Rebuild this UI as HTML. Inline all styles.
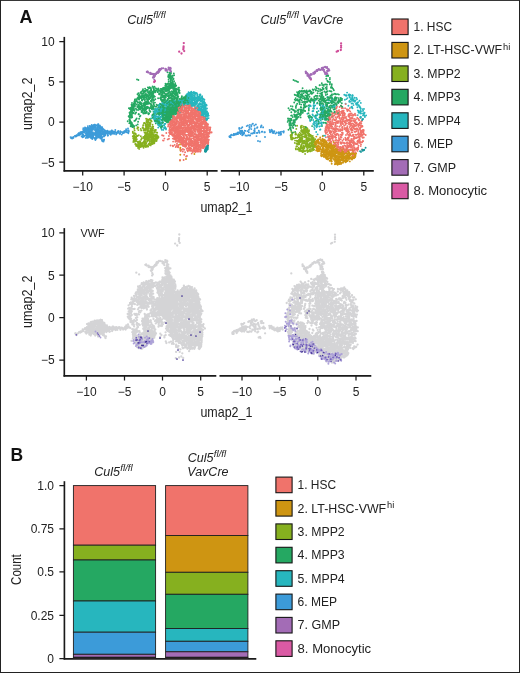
<!DOCTYPE html>
<html><head><meta charset="utf-8"><title>Figure</title>
<style>
html,body{margin:0;padding:0;background:#fff;}
body{width:520px;height:673px;overflow:hidden;}
svg{display:block;font-family:"Liberation Sans",sans-serif;}
</style></head><body>
<svg width="520" height="673" viewBox="0 0 520 673">
<rect x="0" y="0" width="520" height="673" fill="#fff"/>
<rect x="0.5" y="0.4" width="519" height="672.1" fill="none" stroke="#222" stroke-width="1"/>
<text x="19.5" y="23.0" font-size="18" font-weight="bold" fill="#111">A</text>
<text x="10.5" y="461.3" font-size="17.5" font-weight="bold" fill="#111">B</text>
<text x="127.2" y="23.5" font-size="12.5" font-style="italic" fill="#222">Cul5<tspan font-size="8.5" dy="-5.3" dx="0.3" textLength="12.4" lengthAdjust="spacingAndGlyphs">fl/fl</tspan></text>
<text x="260.4" y="23.5" font-size="12.5" font-style="italic" fill="#222">Cul5<tspan font-size="8.5" dy="-5.3" dx="0.3" textLength="12.4" lengthAdjust="spacingAndGlyphs">fl/fl</tspan><tspan dy="5.3" dx="3.3">VavCre</tspan></text>
<path d="M64.30 36.90V171.55" stroke="#1a1a1a" stroke-width="1.65" fill="none"/>
<path d="M63.55 170.80H217.60 M220.80 170.80H373.80" stroke="#1a1a1a" stroke-width="1.65" fill="none"/>
<text x="54.7" y="45.8" font-size="12" text-anchor="end" fill="#222">10</text>
<text x="54.7" y="86.2" font-size="12" text-anchor="end" fill="#222">5</text>
<text x="54.7" y="126.3" font-size="12" text-anchor="end" fill="#222">0</text>
<text x="54.7" y="166.5" font-size="12" text-anchor="end" fill="#222">−5</text>
<text x="82.7" y="190.8" font-size="12" text-anchor="middle" fill="#222">−10</text>
<text x="124.1" y="190.8" font-size="12" text-anchor="middle" fill="#222">−5</text>
<text x="165.5" y="190.8" font-size="12" text-anchor="middle" fill="#222">0</text>
<text x="207.2" y="190.8" font-size="12" text-anchor="middle" fill="#222">5</text>
<text x="239.3" y="190.8" font-size="12" text-anchor="middle" fill="#222">−10</text>
<text x="281.0" y="190.8" font-size="12" text-anchor="middle" fill="#222">−5</text>
<text x="322.3" y="190.8" font-size="12" text-anchor="middle" fill="#222">0</text>
<text x="363.8" y="190.8" font-size="12" text-anchor="middle" fill="#222">5</text>
<path d="M59.30 41.50H64.30M59.30 81.90H64.30M59.30 122.00H64.30M59.30 162.20H64.30M82.70 170.80V175.40M124.10 170.80V175.40M165.50 170.80V175.40M207.20 170.80V175.40M239.30 170.80V175.40M281.00 170.80V175.40M322.30 170.80V175.40M363.80 170.80V175.40" stroke="#1a1a1a" stroke-width="1.25" fill="none"/>
<text transform="translate(31.6 103.8) rotate(-90)" font-size="14.5" text-anchor="middle" textLength="52.3" lengthAdjust="spacingAndGlyphs" fill="#222">umap2_2</text>
<text x="200.4" y="212.3" font-size="14.5" textLength="52" lengthAdjust="spacingAndGlyphs" fill="#222">umap2_1</text>
<path d="M64.30 228.10V376.65" stroke="#1a1a1a" stroke-width="1.65" fill="none"/>
<path d="M63.55 375.90H216.30 M219.50 375.90H371.30" stroke="#1a1a1a" stroke-width="1.65" fill="none"/>
<text x="54.7" y="237.2" font-size="12" text-anchor="end" fill="#222">10</text>
<text x="54.7" y="279.5" font-size="12" text-anchor="end" fill="#222">5</text>
<text x="54.7" y="321.9" font-size="12" text-anchor="end" fill="#222">0</text>
<text x="54.7" y="364.3" font-size="12" text-anchor="end" fill="#222">−5</text>
<text x="86.4" y="396.0" font-size="12" text-anchor="middle" fill="#222">−10</text>
<text x="124.5" y="396.0" font-size="12" text-anchor="middle" fill="#222">−5</text>
<text x="162.5" y="396.0" font-size="12" text-anchor="middle" fill="#222">0</text>
<text x="200.7" y="396.0" font-size="12" text-anchor="middle" fill="#222">5</text>
<text x="242.0" y="396.0" font-size="12" text-anchor="middle" fill="#222">−10</text>
<text x="279.6" y="396.0" font-size="12" text-anchor="middle" fill="#222">−5</text>
<text x="317.8" y="396.0" font-size="12" text-anchor="middle" fill="#222">0</text>
<text x="356.0" y="396.0" font-size="12" text-anchor="middle" fill="#222">5</text>
<path d="M59.30 232.90H64.30M59.30 275.20H64.30M59.30 317.60H64.30M59.30 360.00H64.30M86.40 375.90V380.50M124.50 375.90V380.50M162.50 375.90V380.50M200.70 375.90V380.50M242.00 375.90V380.50M279.60 375.90V380.50M317.80 375.90V380.50M356.00 375.90V380.50" stroke="#1a1a1a" stroke-width="1.25" fill="none"/>
<text transform="translate(31.6 301.8) rotate(-90)" font-size="14.5" text-anchor="middle" textLength="52.3" lengthAdjust="spacingAndGlyphs" fill="#222">umap2_2</text>
<text x="200.4" y="417.3" font-size="14.5" textLength="52" lengthAdjust="spacingAndGlyphs" fill="#222">umap2_1</text>
<text x="80.4" y="237.0" font-size="11.5" textLength="24.3" lengthAdjust="spacingAndGlyphs" fill="#222">VWF</text>
<rect x="391.9" y="19.0" width="16.2" height="15.6" fill="#F0736B" stroke="#161616" stroke-width="1.1"/>
<text x="413.6" y="31.0" font-size="12.3" textLength="38.5" lengthAdjust="spacingAndGlyphs" fill="#222">1. HSC</text>
<rect x="391.9" y="42.4" width="16.2" height="15.6" fill="#CE9512" stroke="#161616" stroke-width="1.1"/>
<text x="413.6" y="54.4" font-size="12.3" fill="#222"><tspan textLength="88.6" lengthAdjust="spacingAndGlyphs">2. LT-HSC-VWF</tspan><tspan font-size="9.3" dy="-4.3" dx="0.8">hi</tspan></text>
<rect x="391.9" y="65.9" width="16.2" height="15.6" fill="#86B01F" stroke="#161616" stroke-width="1.1"/>
<text x="413.6" y="77.9" font-size="12.3" textLength="47.1" lengthAdjust="spacingAndGlyphs" fill="#222">3. MPP2</text>
<rect x="391.9" y="89.3" width="16.2" height="15.6" fill="#25A862" stroke="#161616" stroke-width="1.1"/>
<text x="413.6" y="101.3" font-size="12.3" textLength="47.1" lengthAdjust="spacingAndGlyphs" fill="#222">4. MPP3</text>
<rect x="391.9" y="112.8" width="16.2" height="15.6" fill="#27B6BE" stroke="#161616" stroke-width="1.1"/>
<text x="413.6" y="124.8" font-size="12.3" textLength="47.1" lengthAdjust="spacingAndGlyphs" fill="#222">5. MPP4</text>
<rect x="391.9" y="136.2" width="16.2" height="15.6" fill="#3C9BD9" stroke="#161616" stroke-width="1.1"/>
<text x="413.6" y="148.2" font-size="12.3" textLength="39.5" lengthAdjust="spacingAndGlyphs" fill="#222">6. MEP</text>
<rect x="391.9" y="159.6" width="16.2" height="15.6" fill="#A36CB6" stroke="#161616" stroke-width="1.1"/>
<text x="413.6" y="171.6" font-size="12.3" textLength="42.5" lengthAdjust="spacingAndGlyphs" fill="#222">7. GMP</text>
<rect x="391.9" y="183.1" width="16.2" height="15.6" fill="#DA5AA4" stroke="#161616" stroke-width="1.1"/>
<text x="413.6" y="195.1" font-size="12.3" textLength="73.5" lengthAdjust="spacingAndGlyphs" fill="#222">8. Monocytic</text>
<rect x="275.9" y="477.1" width="16.2" height="15.6" fill="#F0736B" stroke="#161616" stroke-width="1.1"/>
<text x="297.6" y="489.1" font-size="12.3" textLength="38.5" lengthAdjust="spacingAndGlyphs" fill="#222">1. HSC</text>
<rect x="275.9" y="500.5" width="16.2" height="15.6" fill="#CE9512" stroke="#161616" stroke-width="1.1"/>
<text x="297.6" y="512.5" font-size="12.3" fill="#222"><tspan textLength="88.6" lengthAdjust="spacingAndGlyphs">2. LT-HSC-VWF</tspan><tspan font-size="9.3" dy="-4.3" dx="0.8">hi</tspan></text>
<rect x="275.9" y="523.9" width="16.2" height="15.6" fill="#86B01F" stroke="#161616" stroke-width="1.1"/>
<text x="297.6" y="535.9" font-size="12.3" textLength="47.1" lengthAdjust="spacingAndGlyphs" fill="#222">3. MPP2</text>
<rect x="275.9" y="547.3" width="16.2" height="15.6" fill="#25A862" stroke="#161616" stroke-width="1.1"/>
<text x="297.6" y="559.3" font-size="12.3" textLength="47.1" lengthAdjust="spacingAndGlyphs" fill="#222">4. MPP3</text>
<rect x="275.9" y="570.7" width="16.2" height="15.6" fill="#27B6BE" stroke="#161616" stroke-width="1.1"/>
<text x="297.6" y="582.7" font-size="12.3" textLength="47.1" lengthAdjust="spacingAndGlyphs" fill="#222">5. MPP4</text>
<rect x="275.9" y="594.1" width="16.2" height="15.6" fill="#3C9BD9" stroke="#161616" stroke-width="1.1"/>
<text x="297.6" y="606.1" font-size="12.3" textLength="39.5" lengthAdjust="spacingAndGlyphs" fill="#222">6. MEP</text>
<rect x="275.9" y="617.4" width="16.2" height="15.6" fill="#A36CB6" stroke="#161616" stroke-width="1.1"/>
<text x="297.6" y="629.4" font-size="12.3" textLength="42.5" lengthAdjust="spacingAndGlyphs" fill="#222">7. GMP</text>
<rect x="275.9" y="640.8" width="16.2" height="15.6" fill="#DA5AA4" stroke="#161616" stroke-width="1.1"/>
<text x="297.6" y="652.8" font-size="12.3" textLength="73.5" lengthAdjust="spacingAndGlyphs" fill="#222">8. Monocytic</text>
<path d="M64.40 481.2V659.5" stroke="#1a1a1a" stroke-width="1.65" fill="none"/>
<path d="M63.65 658.8H256.3" stroke="#1a1a1a" stroke-width="1.65" fill="none"/>
<text x="54.0" y="489.8" font-size="12" text-anchor="end" fill="#222">1.0</text>
<text x="54.0" y="533.1" font-size="12" text-anchor="end" fill="#222">0.75</text>
<text x="54.0" y="576.2" font-size="12" text-anchor="end" fill="#222">0.5</text>
<text x="54.0" y="619.7" font-size="12" text-anchor="end" fill="#222">0.25</text>
<text x="54.0" y="663.0" font-size="12" text-anchor="end" fill="#222">0</text>
<path d="M59.40 485.50H64.40M59.40 528.80H64.40M59.40 571.90H64.40M59.40 615.40H64.40M59.40 658.70H64.40" stroke="#1a1a1a" stroke-width="1.25" fill="none"/>
<text transform="translate(21.0 569.6) rotate(-90)" font-size="14.5" text-anchor="middle" textLength="30.6" lengthAdjust="spacingAndGlyphs" fill="#222">Count</text>
<rect x="73.40" y="485.60" width="82.20" height="59.60" fill="#F0736B" stroke="#1f1f1f" stroke-width="0.9"/>
<rect x="73.40" y="545.20" width="82.20" height="14.80" fill="#86B01F" stroke="#1f1f1f" stroke-width="0.9"/>
<rect x="73.40" y="560.00" width="82.20" height="41.00" fill="#25A862" stroke="#1f1f1f" stroke-width="0.9"/>
<rect x="73.40" y="601.00" width="82.20" height="31.20" fill="#27B6BE" stroke="#1f1f1f" stroke-width="0.9"/>
<rect x="73.40" y="632.20" width="82.20" height="22.10" fill="#3C9BD9" stroke="#1f1f1f" stroke-width="0.9"/>
<rect x="73.40" y="654.30" width="82.20" height="3.00" fill="#A36CB6" stroke="#1f1f1f" stroke-width="0.9"/>
<rect x="73.40" y="657.30" width="82.20" height="0.90" fill="#DA5AA4" stroke="#1f1f1f" stroke-width="0.9"/>
<rect x="165.60" y="485.60" width="82.30" height="49.90" fill="#F0736B" stroke="#1f1f1f" stroke-width="0.9"/>
<rect x="165.60" y="535.50" width="82.30" height="36.80" fill="#CE9512" stroke="#1f1f1f" stroke-width="0.9"/>
<rect x="165.60" y="572.30" width="82.30" height="22.00" fill="#86B01F" stroke="#1f1f1f" stroke-width="0.9"/>
<rect x="165.60" y="594.30" width="82.30" height="34.20" fill="#25A862" stroke="#1f1f1f" stroke-width="0.9"/>
<rect x="165.60" y="628.50" width="82.30" height="12.80" fill="#27B6BE" stroke="#1f1f1f" stroke-width="0.9"/>
<rect x="165.60" y="641.30" width="82.30" height="10.50" fill="#3C9BD9" stroke="#1f1f1f" stroke-width="0.9"/>
<rect x="165.60" y="651.80" width="82.30" height="5.50" fill="#A36CB6" stroke="#1f1f1f" stroke-width="0.9"/>
<rect x="165.60" y="657.30" width="82.30" height="0.90" fill="#DA5AA4" stroke="#1f1f1f" stroke-width="0.9"/>
<text x="94.3" y="476.3" font-size="12.5" font-style="italic" fill="#222">Cul5<tspan font-size="8.5" dy="-5.3" dx="0.3" textLength="12.4" lengthAdjust="spacingAndGlyphs">fl/fl</tspan></text>
<text x="187.8" y="461.8" font-size="12.5" font-style="italic" fill="#222">Cul5<tspan font-size="8.5" dy="-5.3" dx="0.3" textLength="12.4" lengthAdjust="spacingAndGlyphs">fl/fl</tspan></text>
<text x="187.3" y="476.3" font-size="12.5" font-style="italic" fill="#222">VavCre</text>
<path d="M85.7 135.5h0M93.1 136.4h0M93.9 125.3h0M104.0 133.6h0M96.3 135.1h0M79.4 133.6h0M123.5 132.6h0M94.7 127.4h0M93.6 128.7h0M88.8 129.5h0M98.7 130.8h0M73.5 136.9h0M108.2 132.8h0M94.7 133.6h0M92.6 134.9h0M85.9 129.1h0M98.5 130.3h0M94.3 125.3h0M91.5 126.2h0M72.8 137.9h0M105.3 130.9h0M122.0 131.9h0M104.0 132.4h0M114.6 133.6h0M99.3 134.5h0M104.7 131.3h0M92.6 136.6h0M99.4 136.5h0M107.5 133.9h0M91.0 130.6h0M92.1 127.5h0M91.8 126.6h0M119.7 133.7h0M103.5 133.6h0M100.3 135.8h0M103.7 133.5h0M88.0 129.2h0M100.3 127.7h0M90.2 128.5h0M97.5 135.9h0M107.6 133.8h0M90.2 132.4h0M94.2 133.2h0M107.7 131.2h0M97.0 128.1h0M84.0 132.1h0M98.4 125.1h0M88.6 130.1h0M81.6 132.5h0M90.5 126.9h0M97.4 129.9h0M88.9 131.8h0M90.1 135.3h0M89.7 125.9h0M104.7 130.5h0M88.0 133.6h0M92.4 126.3h0M104.0 132.6h0M104.8 134.1h0M88.3 129.8h0M99.2 126.2h0M95.7 130.2h0M98.0 136.3h0M92.0 128.0h0M87.4 133.4h0M113.0 133.3h0M78.9 135.4h0M85.6 128.8h0M90.7 135.7h0M96.2 132.4h0M100.5 132.9h0M86.9 130.6h0M100.6 132.7h0M86.3 135.7h0M104.1 133.3h0M96.4 132.4h0M125.1 130.9h0M90.9 135.3h0M126.1 129.3h0M103.9 133.0h0M109.2 132.3h0M77.2 135.6h0M116.2 134.4h0M79.3 133.8h0M114.4 133.8h0M95.6 135.8h0M94.7 125.8h0M88.5 135.1h0M87.8 127.8h0M100.2 132.2h0M101.1 128.6h0M95.6 139.0h0M91.1 126.7h0M91.4 127.7h0M102.6 130.5h0M127.7 132.3h0M85.5 131.2h0M97.9 129.5h0M112.3 132.1h0M100.6 133.0h0M83.0 134.7h0M91.0 130.4h0M110.9 132.7h0M86.4 132.9h0M85.5 127.9h0M91.5 128.8h0M106.8 132.8h0M107.8 134.3h0M91.6 134.2h0M104.6 134.5h0M94.0 133.9h0M101.5 127.7h0M92.3 137.5h0M94.8 138.4h0M91.6 129.2h0M96.6 125.3h0M96.7 135.4h0M87.1 132.4h0M105.3 134.9h0M92.5 133.1h0M95.4 140.0h0M75.7 136.5h0M78.3 133.7h0M98.0 126.6h0M101.8 139.0h0M128.8 131.8h0M92.3 139.1h0M84.3 132.6h0M97.0 130.8h0M80.4 132.3h0M105.0 132.5h0M111.8 130.6h0M80.3 134.5h0M93.4 133.4h0M92.7 134.4h0M104.8 131.3h0M92.4 134.6h0M90.5 131.3h0M94.0 129.6h0M82.8 132.5h0M89.5 131.7h0M95.0 124.8h0M76.5 135.1h0M89.5 132.8h0M107.7 132.4h0M81.6 136.4h0M124.6 132.5h0M82.3 133.2h0M128.3 133.3h0M103.8 133.3h0M71.9 137.4h0M109.5 131.5h0M118.6 131.9h0M101.0 134.0h0M113.8 132.9h0M107.9 132.0h0M102.2 130.6h0M96.1 134.4h0M90.9 133.3h0M91.0 129.1h0M100.6 126.7h0M96.6 137.9h0M95.4 138.0h0M89.1 135.8h0M109.7 131.9h0M86.9 132.6h0M109.9 132.6h0M99.0 128.8h0M88.6 128.4h0M110.7 134.8h0M103.2 134.6h0M111.4 132.7h0M100.2 137.5h0M111.4 133.2h0M101.6 138.0h0M84.0 136.2h0M99.7 128.5h0M104.6 131.0h0M108.0 135.4h0M98.6 132.6h0M98.7 133.4h0M107.6 130.8h0M101.5 133.3h0M102.6 134.5h0" stroke="#3C9BD9" stroke-width="1.9" stroke-linecap="round" fill="none"/>
<path d="M199.0 107.6h0M158.5 112.2h0M184.5 100.6h0M189.7 103.1h0M185.4 96.7h0M200.4 104.8h0M188.7 93.0h0M155.1 117.7h0M203.7 114.2h0M195.2 101.3h0M200.4 99.3h0M197.0 102.8h0M186.9 102.5h0M205.6 105.2h0M200.9 114.3h0M198.0 100.9h0M195.8 101.2h0M169.1 109.1h0M197.9 108.0h0M156.3 119.3h0M199.6 100.1h0M199.4 104.6h0M172.8 107.3h0M200.7 112.0h0M196.7 101.0h0M163.9 106.1h0M203.5 99.0h0M199.9 108.8h0M195.6 93.0h0M202.7 106.9h0M200.3 98.7h0M202.7 116.6h0M175.3 106.1h0M176.0 107.6h0M172.8 111.7h0M202.6 115.4h0M166.3 109.8h0M168.0 102.5h0M198.1 97.7h0M203.9 102.8h0M198.4 97.5h0M175.8 104.9h0M203.6 112.0h0M181.3 103.8h0M157.2 121.7h0M160.1 106.5h0M208.1 113.9h0M203.8 109.3h0M207.1 119.4h0M175.9 105.1h0M184.7 108.6h0M158.1 121.2h0M180.5 108.8h0M186.6 99.0h0M207.1 111.9h0M197.6 101.2h0M164.3 104.5h0M185.3 96.4h0M194.4 100.1h0M200.3 99.7h0M174.6 105.2h0M156.2 111.2h0M202.3 110.2h0M175.5 112.4h0M196.8 101.4h0M167.9 118.8h0M191.5 93.0h0M200.1 109.0h0M159.4 125.0h0M174.9 101.5h0M158.2 120.7h0M188.9 105.8h0M205.2 105.6h0M153.4 117.2h0M198.5 106.4h0M189.0 94.0h0M158.5 116.8h0M197.3 94.1h0M202.2 113.2h0M158.7 111.9h0M188.1 105.7h0M191.7 95.0h0M159.9 124.3h0M190.3 102.2h0M189.0 100.0h0M188.5 101.0h0M203.9 105.6h0M168.9 104.3h0M171.8 113.1h0M176.4 104.9h0M188.6 92.2h0M190.1 99.3h0M185.2 102.2h0M195.6 99.0h0M202.1 98.1h0M188.3 99.3h0M198.2 104.3h0M197.2 94.9h0M191.4 93.4h0M190.5 93.9h0M176.9 106.6h0M208.7 115.6h0M171.7 116.4h0M200.0 109.9h0M205.0 118.5h0M201.6 114.2h0M171.9 102.2h0M191.4 105.4h0M190.6 105.7h0M179.7 102.9h0M159.3 114.4h0M193.8 100.0h0M191.2 106.0h0M206.1 120.0h0M193.3 103.7h0M204.0 114.6h0M204.9 108.1h0M175.5 105.4h0M167.6 106.4h0M202.1 96.2h0M184.9 103.9h0M191.7 99.7h0M155.5 117.6h0M156.6 116.6h0M172.4 106.8h0M189.9 105.7h0M173.5 103.5h0M183.9 100.4h0M190.9 98.9h0M186.4 99.9h0M155.0 113.3h0M205.2 111.0h0M188.6 92.8h0M164.7 105.2h0M189.4 98.6h0M190.0 94.3h0M159.2 124.1h0M205.3 110.0h0M196.6 97.5h0M160.9 109.5h0M196.5 102.2h0M158.5 110.1h0M198.8 97.6h0M205.5 108.7h0M200.6 100.8h0M174.4 105.9h0M163.2 109.0h0M158.4 105.2h0M161.5 120.1h0M199.2 108.4h0M156.2 110.7h0M157.3 112.2h0M166.3 105.3h0M156.3 121.9h0M202.8 98.5h0M177.7 103.7h0M161.0 125.5h0M164.6 123.9h0M161.1 110.6h0M206.5 112.1h0M194.2 95.7h0M180.5 110.6h0M161.9 105.6h0M174.2 105.5h0M202.4 102.5h0M195.6 107.3h0M190.6 100.9h0M201.3 101.4h0M171.4 116.9h0M191.4 101.4h0M153.9 116.1h0M185.3 99.6h0M203.3 113.1h0M164.7 109.2h0M205.9 113.0h0M192.2 98.8h0M167.5 107.9h0M169.9 101.7h0M191.2 99.0h0M193.3 104.3h0M201.8 104.4h0M191.5 100.9h0M196.8 107.3h0M204.0 109.4h0M159.1 115.4h0M196.0 104.8h0M192.8 102.7h0M185.2 102.5h0M197.4 97.3h0M198.0 99.4h0M199.0 96.9h0M194.9 97.1h0M170.0 116.8h0M158.3 113.3h0M172.0 103.6h0M202.5 106.8h0M202.5 104.9h0M175.4 107.8h0M161.4 128.8h0M204.2 111.7h0M201.6 111.8h0M161.6 125.5h0M164.0 111.2h0M195.1 93.2h0M162.7 121.7h0M194.9 103.9h0M188.0 94.6h0M197.5 99.5h0M154.8 121.4h0M191.0 93.4h0M158.1 114.0h0M173.4 103.5h0M160.0 109.5h0M169.5 107.4h0M161.8 129.8h0M201.1 114.0h0M194.7 96.6h0M198.6 106.7h0M203.2 114.9h0M159.1 117.9h0M200.3 109.1h0M190.7 93.2h0M205.6 115.7h0M197.6 109.9h0M189.1 94.8h0M168.3 106.7h0M178.5 100.4h0M199.5 94.7h0M191.7 103.8h0M185.8 100.3h0M186.3 99.5h0M172.6 103.1h0M170.9 107.3h0M202.2 114.4h0M174.8 103.2h0M206.5 118.7h0M201.3 114.0h0M204.5 104.3h0M198.1 105.6h0M192.6 105.6h0M196.2 97.7h0M165.0 101.6h0M186.0 103.6h0" stroke="#27B6BE" stroke-width="1.9" stroke-linecap="round" fill="none"/>
<path d="M170.7 86.3h0M172.0 108.0h0M173.0 96.6h0M167.9 117.2h0M162.6 90.2h0M176.0 103.0h0M166.3 117.0h0M173.8 115.0h0M170.1 117.0h0M172.3 110.9h0M169.9 76.4h0M169.4 109.9h0M152.1 98.8h0M166.7 94.1h0M177.8 96.9h0M163.7 118.6h0M149.8 91.1h0M162.4 116.5h0M153.4 109.0h0M154.0 90.7h0M164.3 95.7h0M162.7 110.3h0M168.5 118.5h0M140.1 107.7h0M147.5 90.0h0M162.2 114.4h0M167.9 109.5h0M171.6 94.1h0M132.2 117.3h0M141.7 98.5h0M130.3 120.9h0M178.8 104.2h0M164.2 110.6h0M184.1 103.2h0M170.5 114.0h0M173.1 105.9h0M151.6 95.3h0M157.5 120.9h0M175.4 84.9h0M164.8 117.8h0M143.0 112.5h0M175.0 98.1h0M165.3 107.5h0M152.8 91.9h0M141.4 91.7h0M175.6 108.6h0M181.7 97.3h0M189.7 101.7h0M145.4 90.6h0M173.3 89.0h0M139.4 95.8h0M153.8 87.8h0M169.2 115.7h0M173.9 105.9h0M151.4 105.5h0M173.3 79.4h0M166.3 115.7h0M155.7 119.6h0M150.5 93.1h0M162.6 88.7h0M144.8 108.0h0M172.7 110.2h0M141.9 95.1h0M177.5 89.4h0M166.2 120.0h0M162.1 90.9h0M157.9 92.0h0M167.2 119.7h0M155.2 109.2h0M165.5 83.8h0M141.4 108.3h0M178.3 110.9h0M152.3 107.4h0M173.4 107.5h0M164.8 113.3h0M163.4 100.3h0M180.8 100.5h0M163.2 118.6h0M162.4 100.6h0M130.7 126.0h0M138.1 106.3h0M184.0 100.1h0M172.6 108.4h0M169.2 76.6h0M169.3 108.4h0M128.9 108.2h0M159.3 106.2h0M167.5 72.2h0M175.0 84.9h0M144.8 113.2h0M152.5 99.3h0M181.6 98.8h0M174.8 113.0h0M147.2 99.1h0M187.0 98.7h0M176.0 107.8h0M161.0 124.1h0M131.4 115.0h0M141.8 100.3h0M136.2 125.4h0M163.1 95.5h0M188.6 101.3h0M173.5 87.1h0M168.8 95.4h0M173.5 106.6h0M153.9 90.4h0M182.4 100.0h0M175.8 111.0h0M137.0 79.4h0M142.6 90.5h0M130.0 123.1h0M168.1 88.0h0M168.9 102.1h0M145.5 109.3h0M169.9 96.1h0M164.5 95.5h0M172.4 116.9h0M165.8 97.4h0M153.4 100.5h0M169.6 112.5h0M160.8 112.2h0M166.9 109.3h0M136.0 119.5h0M170.6 78.1h0M178.0 108.3h0M189.0 98.7h0M182.0 104.1h0M132.0 124.6h0M159.3 105.2h0M172.4 81.2h0M185.7 99.5h0M173.8 112.4h0M164.1 118.5h0M168.6 79.8h0M158.7 109.9h0M158.3 113.6h0M169.7 112.1h0M167.0 104.7h0M132.6 113.2h0M154.7 90.3h0M167.7 103.0h0M162.1 90.0h0M134.6 101.7h0M166.7 113.4h0M146.5 94.6h0M145.6 108.7h0M151.9 99.6h0M168.5 102.7h0M154.1 105.7h0M175.1 101.8h0M143.9 109.4h0M184.1 98.3h0M131.8 126.1h0M168.6 86.6h0M150.5 103.4h0M153.5 111.8h0M170.5 85.3h0M169.5 101.9h0M165.5 117.0h0M166.0 121.3h0M168.6 106.9h0M153.0 97.2h0M162.5 115.0h0M138.8 114.2h0M164.2 92.8h0M171.1 82.9h0M164.0 110.6h0M171.1 76.6h0M173.1 92.2h0M161.8 110.8h0M171.2 83.5h0M150.8 101.0h0M178.4 101.4h0M173.9 86.7h0M184.5 101.1h0M169.1 88.4h0M169.0 84.1h0M177.0 109.5h0M166.5 117.7h0M131.2 117.5h0M169.5 105.3h0M151.5 92.4h0M154.9 96.6h0M144.8 95.3h0M131.5 125.7h0M148.9 98.5h0M172.4 114.2h0M170.8 116.6h0M170.4 110.8h0M172.0 95.9h0M148.9 87.6h0M163.1 111.3h0M146.8 95.5h0M174.5 103.3h0M169.5 86.1h0M134.9 99.5h0M162.7 94.9h0M151.5 104.4h0M166.8 100.7h0M184.9 101.7h0M158.1 98.3h0M166.8 89.7h0M173.5 96.8h0M156.2 106.7h0M164.3 97.4h0M158.7 120.2h0M174.1 110.1h0M171.2 95.4h0M170.1 110.7h0M172.7 85.9h0M185.4 97.5h0M171.0 113.2h0M161.2 114.0h0M134.3 110.8h0M167.6 120.9h0M160.2 98.2h0M173.3 110.2h0M164.2 107.8h0M161.2 94.4h0M138.5 96.9h0M172.2 120.1h0M175.2 108.4h0M130.7 108.1h0M171.3 113.0h0M170.2 69.6h0M165.2 118.1h0M164.2 87.7h0M170.3 76.4h0M163.7 97.7h0M137.5 101.9h0M180.2 102.8h0M168.9 108.4h0M186.6 96.4h0M132.0 112.4h0M170.7 114.1h0M137.3 98.9h0M175.3 84.1h0M151.3 94.2h0M184.3 97.7h0M154.7 91.7h0M153.5 106.4h0M151.4 104.7h0M150.8 96.7h0M147.2 107.3h0M171.3 103.5h0M163.8 92.9h0M169.6 110.7h0M148.2 95.1h0M150.7 92.4h0M166.0 120.8h0M162.2 126.5h0M148.5 114.3h0M180.3 107.5h0M131.4 109.5h0M172.1 96.2h0M172.3 116.1h0M151.9 105.4h0M137.5 106.1h0M170.7 75.9h0M141.7 107.1h0M166.6 121.0h0M167.8 93.9h0M140.2 97.9h0M173.3 93.2h0M146.2 101.7h0M147.4 106.7h0M133.7 109.3h0M168.8 92.7h0M170.5 107.6h0M168.6 107.4h0M168.1 116.0h0M162.3 101.6h0M163.0 110.8h0M144.4 104.2h0M139.2 96.5h0M145.2 108.5h0M132.0 109.0h0M134.7 105.2h0M163.3 114.9h0M165.6 111.0h0M136.9 101.5h0M147.9 95.5h0M141.8 97.3h0M182.0 105.0h0M173.4 88.2h0M170.9 109.2h0M168.2 116.5h0M172.9 98.6h0M161.6 97.2h0M171.7 112.3h0M163.0 100.7h0M177.4 106.2h0M133.3 104.4h0M177.0 93.1h0M167.9 108.8h0M161.8 111.7h0M174.7 100.5h0M160.7 103.9h0M146.9 107.5h0M148.4 102.6h0M173.1 95.9h0M132.1 109.2h0M168.6 107.9h0M177.7 101.9h0M174.0 109.2h0M174.1 75.3h0M171.9 91.3h0M165.6 114.8h0M177.0 112.2h0M145.3 107.9h0M170.9 73.5h0M139.8 116.6h0M171.9 107.8h0M171.9 116.3h0M154.1 115.9h0M143.5 91.9h0M167.9 106.8h0M153.6 108.1h0M139.1 96.7h0M168.7 98.3h0M168.0 89.9h0M170.0 91.8h0M130.5 117.6h0M129.6 120.4h0M166.1 115.1h0M170.8 113.1h0M173.0 84.2h0M130.8 115.7h0M172.6 84.8h0M164.2 113.0h0M131.9 109.3h0M172.0 109.6h0M176.8 92.2h0M135.1 103.2h0M166.3 101.0h0M139.3 98.0h0M167.2 119.5h0M169.2 111.2h0M174.1 110.3h0M131.5 104.7h0M138.9 106.6h0M156.4 106.6h0M169.3 117.1h0M184.1 104.8h0M173.2 103.3h0M164.7 110.9h0M169.8 114.9h0M172.7 82.0h0M156.1 109.9h0M144.5 97.4h0M139.2 108.1h0M137.6 97.9h0M147.1 90.8h0M170.0 87.1h0M139.1 99.4h0M149.7 91.5h0M169.1 116.3h0M153.8 88.2h0M167.9 108.7h0M162.9 91.4h0M169.1 83.8h0M134.0 105.3h0M162.1 116.4h0M170.2 73.7h0M160.8 116.9h0M155.3 92.3h0M144.6 102.8h0M134.1 103.0h0M178.7 92.0h0M138.8 107.1h0M143.3 109.7h0M170.6 116.1h0M171.9 119.6h0M142.9 95.9h0M170.5 85.6h0M170.9 111.4h0M147.8 90.0h0M172.5 83.5h0M129.4 119.6h0M164.4 97.3h0M174.0 107.3h0M181.5 103.2h0M157.6 105.4h0M155.3 99.3h0M180.0 99.4h0M172.9 93.0h0M161.8 92.2h0M176.0 106.8h0M177.2 95.4h0M165.2 117.8h0M158.3 88.5h0M163.4 88.2h0M142.7 96.6h0M132.1 125.3h0M166.4 84.7h0M142.9 105.4h0M161.9 97.6h0M180.0 101.2h0M131.1 116.2h0M144.2 105.3h0M168.9 90.2h0M148.4 92.5h0M169.7 87.2h0M166.2 119.4h0M146.7 96.5h0M166.9 110.8h0M131.1 124.3h0M148.3 92.3h0M149.0 88.3h0M176.7 88.6h0M149.4 97.9h0M151.9 101.9h0M131.1 112.5h0M145.3 91.2h0M181.7 99.0h0M161.2 126.2h0M157.5 112.7h0M151.9 108.7h0M178.6 102.5h0M170.7 94.6h0M166.9 103.4h0M155.4 106.6h0M170.6 107.1h0M130.7 126.2h0M173.7 85.0h0M164.9 117.8h0M169.1 115.6h0M163.7 108.4h0M170.1 119.8h0M165.3 96.0h0M171.7 111.4h0M167.6 89.6h0M166.7 95.0h0M133.9 126.0h0M171.1 115.7h0M130.3 109.2h0M145.0 105.0h0M169.3 91.7h0M174.1 100.1h0M176.4 93.1h0M172.4 102.0h0M167.8 111.3h0M164.0 103.2h0M187.4 97.2h0M175.7 109.6h0M176.9 108.5h0M165.6 120.6h0M167.7 122.0h0M146.2 103.8h0M166.4 110.3h0M143.7 91.8h0M140.4 109.5h0M165.3 97.1h0M169.5 116.3h0M170.9 77.5h0M131.0 122.1h0M160.4 109.8h0M169.2 103.5h0" stroke="#25A862" stroke-width="1.9" stroke-linecap="round" fill="none"/>
<path d="M143.9 138.0h0M144.9 146.1h0M153.4 140.3h0M144.2 143.7h0M147.2 119.3h0M145.8 135.0h0M153.3 143.6h0M154.9 140.0h0M141.6 144.9h0M141.3 144.0h0M146.1 126.6h0M147.8 119.8h0M146.5 145.7h0M145.1 135.4h0M148.6 120.4h0M148.8 125.8h0M154.6 135.4h0M144.3 145.2h0M145.7 144.5h0M154.6 131.7h0M147.3 130.7h0M156.2 138.6h0M147.2 136.2h0M150.3 128.7h0M143.3 125.5h0M139.0 144.1h0M133.6 140.3h0M149.5 119.5h0M151.1 143.6h0M148.1 145.0h0M153.4 138.9h0M146.1 135.4h0M152.4 144.1h0M134.6 130.5h0M155.8 135.7h0M151.5 136.0h0M143.8 137.6h0M135.5 139.4h0M148.2 138.5h0M144.7 123.0h0M138.9 142.5h0M148.1 123.9h0M147.1 138.8h0M152.8 130.3h0M134.4 133.2h0M147.5 132.4h0M140.8 146.5h0M144.5 132.6h0M138.3 127.6h0M142.0 145.5h0M154.3 143.2h0M139.4 144.2h0M149.3 119.1h0M148.1 124.8h0M155.2 136.0h0M141.2 146.6h0M148.5 121.0h0M147.2 137.2h0M149.1 139.3h0M145.3 130.0h0M147.8 128.8h0M147.2 141.6h0M147.7 128.7h0M145.7 146.6h0M137.5 136.0h0M151.4 144.0h0M145.5 132.5h0M147.1 134.3h0M153.3 128.5h0M147.6 121.6h0M150.5 120.0h0M148.1 138.1h0M155.1 130.0h0M143.2 128.5h0M148.2 140.5h0M135.5 136.8h0M150.5 123.6h0M147.3 130.9h0M145.0 132.5h0M134.1 138.9h0M142.6 127.4h0M137.3 128.6h0M152.0 132.7h0M144.3 129.7h0M135.5 133.7h0M148.2 146.6h0M135.4 133.6h0M135.1 136.2h0M149.6 143.0h0M154.1 135.3h0M151.9 141.9h0M139.3 145.9h0M144.4 146.3h0M157.7 137.7h0M134.3 138.0h0M146.8 127.2h0M151.0 139.8h0M144.6 136.9h0M147.0 124.5h0M136.8 139.2h0M150.2 122.9h0M141.1 139.8h0M151.5 121.1h0M156.3 132.4h0M133.6 138.4h0M156.4 138.2h0M153.2 137.1h0M146.6 136.2h0M133.9 134.9h0M154.4 141.5h0M147.1 122.4h0M153.8 142.4h0M150.1 126.4h0M150.5 130.2h0M154.7 141.8h0M144.3 141.2h0M135.4 144.1h0M145.4 137.0h0M145.7 124.0h0M138.4 130.1h0M147.3 140.8h0M144.2 144.2h0M152.2 129.4h0M134.7 137.6h0M145.4 128.6h0M145.2 146.3h0M156.7 135.4h0M135.5 140.7h0M148.6 122.1h0M134.0 135.7h0M157.0 138.8h0M152.7 138.7h0M137.3 145.3h0M139.9 145.1h0M140.3 147.0h0M151.3 140.3h0M152.0 140.5h0" stroke="#86B01F" stroke-width="1.9" stroke-linecap="round" fill="none"/>
<path d="M180.0 160.6h0M186.0 159.0h0M189.6 150.6h0" stroke="#CE9512" stroke-width="1.9" stroke-linecap="round" fill="none"/>
<path d="M208.2 140.9h0M200.2 127.3h0M189.7 148.2h0M180.4 131.9h0M195.7 129.0h0M187.4 124.3h0M180.1 117.6h0M181.0 115.8h0M181.5 130.5h0M171.8 120.7h0M201.5 129.1h0M202.1 134.0h0M178.1 115.0h0M168.5 124.3h0M196.1 141.0h0M203.1 139.5h0M189.4 114.9h0M190.4 133.2h0M181.5 138.8h0M190.3 145.0h0M188.5 112.9h0M188.8 120.6h0M199.2 127.2h0M198.2 118.8h0M205.0 123.4h0M181.8 143.2h0M201.8 136.5h0M201.9 147.4h0M175.8 139.1h0M193.5 120.0h0M177.1 130.7h0M174.0 126.8h0M180.5 108.8h0M193.7 129.9h0M201.4 147.5h0M184.1 137.3h0M200.4 148.7h0M195.1 115.6h0M199.7 123.4h0M188.4 112.1h0M197.0 151.5h0M188.3 138.4h0M207.9 137.7h0M174.3 135.0h0M202.8 128.0h0M195.3 118.2h0M179.3 123.8h0M185.8 143.9h0M182.1 107.4h0M194.2 145.2h0M187.2 113.1h0M188.0 130.9h0M175.9 122.5h0M184.0 124.6h0M202.0 117.7h0M186.8 138.0h0M189.1 143.0h0M180.7 151.1h0M199.8 140.1h0M177.2 113.2h0M179.5 139.7h0M193.7 129.9h0M175.1 130.4h0M176.1 136.8h0M175.7 135.9h0M180.5 139.3h0M172.2 128.1h0M183.7 118.8h0M182.8 145.5h0M204.4 127.4h0M172.8 124.3h0M184.6 144.8h0M203.3 133.3h0M182.3 122.1h0M185.3 142.4h0M170.6 132.3h0M171.7 129.2h0M192.2 116.2h0M195.2 148.2h0M182.9 149.0h0M185.2 138.5h0M178.4 107.0h0M181.3 123.3h0M200.4 125.7h0M208.0 135.2h0M177.8 137.7h0M172.8 127.7h0M179.1 135.5h0M206.4 122.7h0M191.1 115.6h0M186.9 137.4h0M180.4 117.7h0M208.0 128.2h0M200.8 120.3h0M170.8 129.6h0M194.3 149.1h0M202.9 148.1h0M199.9 139.7h0M176.4 134.8h0M181.4 106.5h0M176.4 121.4h0M191.0 129.6h0M206.2 134.5h0M195.5 125.6h0M178.0 134.0h0M203.3 116.8h0M203.3 120.8h0M179.2 141.4h0M200.9 130.6h0M195.3 116.4h0M176.3 129.0h0M190.4 128.0h0M198.1 144.7h0M180.0 139.0h0M190.6 145.3h0M189.4 114.8h0M181.3 127.0h0M173.0 146.2h0M188.9 133.4h0M187.2 150.3h0M205.4 128.3h0M195.3 110.7h0M209.5 130.4h0M195.0 143.1h0M200.9 126.8h0M198.6 145.7h0M190.7 136.1h0M190.3 141.5h0M188.0 113.8h0M191.9 141.3h0M207.2 126.4h0M190.0 123.2h0M182.2 110.0h0M169.7 133.7h0M202.4 127.7h0M171.9 130.2h0M176.9 135.7h0M194.6 111.8h0M201.3 130.8h0M202.7 121.8h0M179.9 140.6h0M196.0 124.0h0M200.2 149.8h0M200.3 148.4h0M204.9 141.9h0M181.8 144.6h0M199.2 124.5h0M183.3 121.4h0M176.0 120.2h0M184.7 142.4h0M185.8 121.4h0M192.4 142.9h0M187.0 123.5h0M194.3 117.9h0M195.1 141.5h0M175.3 137.3h0M200.7 138.8h0M169.5 132.2h0M195.6 114.2h0M204.1 118.2h0M178.3 114.8h0M199.0 134.6h0M197.3 123.5h0M193.1 118.1h0M185.2 107.9h0M181.5 110.6h0M203.2 121.6h0M190.2 115.0h0M185.6 125.2h0M190.3 114.7h0M182.5 134.3h0M178.5 114.3h0M203.7 128.3h0M188.8 144.2h0M180.1 138.4h0M196.9 115.7h0M184.9 129.9h0M185.0 113.7h0M181.7 120.9h0M193.6 109.7h0M191.1 144.1h0M178.4 110.9h0M175.1 129.4h0M193.1 132.7h0M172.5 135.4h0M175.0 128.8h0M183.9 122.5h0M176.9 128.3h0M197.5 151.5h0M183.0 118.7h0M192.5 131.4h0M188.7 145.1h0M182.0 118.3h0M176.6 119.6h0M180.3 117.6h0M186.1 156.5h0M175.0 126.8h0M207.2 133.8h0M209.9 130.9h0M195.2 150.9h0M193.7 128.4h0M180.4 142.7h0M199.3 116.6h0M177.4 134.9h0M191.5 145.0h0M174.7 137.0h0M198.1 125.7h0M201.1 120.3h0M209.8 129.8h0M190.4 119.9h0M186.7 124.0h0M192.4 120.9h0M175.8 129.0h0M191.6 116.0h0M179.6 131.6h0M195.3 110.1h0M183.3 130.2h0M186.8 111.3h0M186.1 112.1h0M194.2 143.9h0M196.0 140.7h0M193.5 121.4h0M180.3 139.9h0M180.6 126.2h0M200.7 123.8h0M176.6 124.2h0M181.3 114.3h0M200.6 144.2h0M204.9 134.5h0M177.5 115.7h0M184.8 111.3h0M200.6 114.6h0M198.6 114.1h0M191.2 143.8h0M178.0 131.1h0M186.4 124.0h0M172.1 132.3h0M202.1 146.2h0M207.3 139.6h0M193.7 145.4h0M183.0 144.0h0M179.5 113.0h0M196.3 120.7h0M200.1 129.6h0M188.4 139.7h0M206.7 143.2h0M191.0 127.2h0M173.3 134.4h0M197.3 150.3h0M193.2 112.7h0M201.5 135.8h0M196.1 145.1h0M206.2 142.8h0M189.0 131.9h0M195.8 119.1h0M185.8 127.5h0M199.2 131.6h0M198.0 111.3h0M194.4 143.5h0M195.3 109.6h0M188.6 120.9h0M189.7 109.4h0M195.4 115.5h0M201.6 131.0h0M191.3 123.6h0M182.6 131.4h0M205.5 141.6h0M200.4 116.5h0M205.7 125.5h0M170.5 125.5h0M195.6 115.9h0M190.9 127.5h0M192.8 127.7h0M178.6 117.3h0M196.9 137.3h0M191.0 136.5h0M182.2 137.9h0M187.2 137.0h0M188.2 112.7h0M184.8 140.8h0M193.1 135.2h0M194.2 109.6h0M191.4 126.6h0M180.2 130.8h0M195.0 132.9h0M185.1 114.3h0M172.3 128.1h0M177.3 132.7h0M187.0 156.0h0M202.0 141.3h0M176.3 131.6h0M180.4 111.1h0M181.1 106.3h0M185.3 131.1h0M191.7 153.6h0M187.4 148.1h0M192.3 113.3h0M196.3 144.9h0M193.2 132.4h0M196.8 118.5h0M173.5 122.1h0M183.0 130.9h0M178.2 132.0h0M176.4 129.5h0M170.4 133.2h0M173.7 125.3h0M183.4 123.3h0M191.6 125.9h0M190.7 139.4h0M202.1 131.1h0M194.6 125.7h0M181.0 111.8h0M186.1 116.9h0M206.5 126.3h0M193.1 126.5h0M177.5 127.6h0M175.0 128.5h0M198.9 140.6h0M200.2 114.3h0M191.2 141.1h0M177.0 143.4h0M200.7 148.8h0M183.2 118.4h0M208.4 140.8h0M199.9 133.2h0M208.0 143.8h0M187.3 123.0h0M187.3 130.0h0M209.7 131.2h0M198.3 127.8h0M200.7 129.9h0M207.9 135.9h0M175.6 127.8h0M175.1 135.8h0M189.1 118.1h0M204.6 119.7h0M181.5 117.9h0M195.9 148.7h0M191.5 132.9h0M187.9 105.5h0M208.0 124.8h0M181.0 112.0h0M179.7 141.9h0M191.7 122.5h0M177.6 126.9h0M192.1 116.9h0M188.4 120.0h0M177.1 118.5h0M197.1 111.7h0M166.3 133.0h0M177.0 123.7h0M175.6 131.0h0M176.9 127.9h0M178.7 136.5h0M205.2 144.1h0M197.1 146.0h0M184.8 115.3h0M179.8 134.8h0M191.9 127.8h0M185.1 114.0h0M179.7 140.2h0M203.4 141.0h0M195.4 131.6h0M206.4 123.0h0M183.6 141.7h0M183.8 140.5h0M171.2 128.9h0M206.3 140.0h0M193.8 138.4h0M204.8 139.1h0M185.6 146.2h0M184.5 119.7h0M192.8 151.9h0M202.9 121.8h0M206.5 142.7h0M198.4 138.9h0M184.6 116.4h0M196.1 115.8h0M205.4 119.1h0M184.6 113.9h0M202.0 134.0h0M186.3 111.3h0M186.1 130.3h0M177.7 121.9h0M181.3 119.8h0M198.1 142.6h0M191.3 112.9h0M176.0 138.7h0M195.5 142.7h0M182.6 110.6h0M181.2 123.1h0M185.4 121.9h0M180.0 124.7h0M191.7 114.6h0M188.9 117.6h0M184.2 154.7h0M183.3 140.2h0M189.2 121.6h0M174.3 119.4h0M185.7 107.9h0M206.4 132.3h0M188.8 119.9h0M191.2 140.0h0M192.0 140.7h0M198.0 131.3h0M194.3 115.3h0M195.3 148.2h0M178.3 145.0h0M203.3 135.4h0M184.5 105.7h0M200.3 139.9h0M179.6 119.2h0M177.6 126.1h0M178.1 141.8h0M195.6 146.9h0M188.3 144.3h0M185.0 128.0h0M197.6 148.2h0M197.4 137.5h0M192.6 141.9h0M194.0 129.5h0M209.0 130.2h0M179.7 139.7h0M190.0 116.2h0M204.6 137.0h0M205.7 140.7h0M183.2 139.4h0M205.6 124.3h0M197.0 123.4h0M175.1 126.9h0M193.8 127.7h0M195.1 123.4h0M177.7 113.0h0M186.9 108.2h0M191.2 148.7h0M205.5 137.6h0M188.3 134.4h0M195.6 129.7h0M199.1 120.3h0M206.5 123.7h0M179.3 124.0h0M206.3 131.5h0M182.6 141.8h0M190.8 130.4h0M177.0 112.2h0M173.8 130.4h0M198.8 119.3h0M188.2 130.9h0M171.9 127.9h0M191.9 112.0h0M192.8 118.0h0M196.0 123.0h0M208.3 142.5h0M192.8 143.3h0M188.8 146.5h0M187.9 143.2h0M177.9 113.1h0M187.9 124.7h0M186.8 105.6h0M184.4 132.9h0M186.8 110.5h0M171.7 126.1h0M191.2 142.6h0M199.9 115.1h0M176.7 135.7h0M181.0 130.3h0M178.2 111.0h0M194.6 113.8h0M173.5 117.9h0M176.9 132.7h0M188.9 125.4h0M187.2 144.1h0M188.3 110.7h0M169.8 124.2h0M175.5 129.2h0M200.5 149.4h0M177.5 116.4h0M203.9 122.3h0M201.4 123.4h0M187.6 139.6h0M182.5 117.8h0M193.0 119.8h0M194.7 110.1h0M188.4 116.7h0M208.0 133.6h0M185.0 140.5h0M182.3 124.3h0M182.6 108.9h0M176.9 138.9h0M184.3 122.1h0M194.7 116.6h0M194.9 129.1h0M199.9 136.7h0M187.0 127.7h0M199.1 129.6h0M194.3 134.4h0M181.2 116.1h0M201.9 143.7h0M178.2 147.2h0M199.5 130.2h0M201.5 126.8h0M189.4 143.2h0M201.4 135.6h0M200.9 133.8h0M187.8 130.8h0M198.0 123.5h0M182.5 123.7h0M188.5 128.2h0M176.4 129.9h0M196.5 127.6h0M196.7 127.2h0M203.3 127.4h0M209.4 129.7h0M181.2 103.7h0M191.1 111.3h0M202.1 141.5h0M205.8 122.3h0M204.2 132.0h0M182.3 133.0h0M178.2 112.0h0M202.6 142.1h0M192.0 135.0h0M200.3 128.7h0M180.0 139.0h0M188.3 114.5h0M181.2 120.2h0M186.8 134.9h0M181.2 134.1h0M193.9 114.6h0M170.1 132.8h0M197.1 130.1h0M206.4 123.7h0M199.2 129.8h0M193.7 150.3h0M201.6 142.3h0M181.9 116.1h0M186.4 107.1h0M189.1 118.3h0M195.9 116.0h0M207.2 126.4h0" stroke="#F0736B" stroke-width="1.9" stroke-linecap="round" fill="none"/>
<path d="M206.4 148.5h0M207.8 147.9h0M207.6 149.3h0M206.2 151.2h0M205.9 149.9h0M208.0 145.4h0M205.5 150.5h0M207.5 147.8h0M205.1 149.3h0M207.4 149.8h0" stroke="#17979B" stroke-width="1.9" stroke-linecap="round" fill="none"/>
<path d="M159.3 71.0h0M154.7 74.4h0M154.4 75.4h0M157.9 72.7h0M153.4 77.7h0M150.6 73.9h0M153.2 77.7h0M155.2 73.9h0M152.5 74.3h0M153.3 74.1h0M166.7 69.3h0M165.3 68.8h0M158.4 71.4h0M159.0 69.8h0M170.1 72.5h0M155.1 75.0h0M158.2 72.4h0M161.0 69.0h0M157.2 72.0h0M155.1 74.3h0M154.8 74.4h0M155.8 74.0h0M159.4 70.1h0M153.4 74.4h0M170.1 69.5h0M150.3 72.8h0M159.9 69.0h0M160.4 69.4h0M160.0 69.5h0" stroke="#A36CB6" stroke-width="2.1" stroke-linecap="round" fill="none"/>
<path d="M183.8 43.1h0M179.2 51.7h0M183.3 49.4h0" stroke="#D04C98" stroke-width="2.3" stroke-linecap="round" fill="none"/>
<path d="M99.7 132.4h0M89.5 133.9h0M84.1 132.3h0M96.7 129.7h0M110.3 132.0h0M102.3 131.4h0M82.9 135.9h0M115.3 130.0h0M106.1 133.5h0M84.9 131.5h0M90.3 126.5h0M98.7 133.2h0M115.7 132.5h0M76.1 136.2h0M86.7 131.1h0M115.1 132.0h0M88.9 133.4h0M99.2 127.3h0M91.8 136.1h0M113.1 132.1h0M97.8 132.4h0M81.7 133.7h0M84.2 130.3h0M108.4 133.1h0M82.6 135.2h0M82.5 132.6h0M92.4 133.7h0M70.6 137.1h0M83.2 131.1h0M105.1 134.3h0M96.3 138.2h0M112.7 133.6h0M82.6 137.2h0M118.4 131.2h0M88.0 136.1h0M88.2 133.3h0M93.1 128.6h0M92.8 133.2h0M128.7 130.5h0M107.9 131.7h0M82.7 134.7h0M78.5 134.6h0M90.5 129.9h0M91.8 129.3h0M98.6 130.2h0M75.7 135.9h0M126.4 130.6h0M97.7 126.1h0M95.6 131.6h0M88.0 128.3h0M92.4 130.0h0M102.6 131.6h0M75.4 136.1h0M83.3 128.2h0M109.7 132.6h0M101.1 135.7h0M99.8 128.3h0M89.4 129.4h0M92.0 137.7h0M94.4 126.6h0M126.8 132.2h0M95.5 139.2h0M85.5 131.0h0M95.6 134.7h0M100.1 135.9h0M103.9 136.5h0M102.2 140.4h0M84.0 131.6h0M102.7 128.5h0M104.1 139.8h0M96.3 133.6h0M100.2 136.2h0M91.1 135.5h0M92.3 133.2h0M117.9 132.9h0M88.9 135.2h0M106.4 131.3h0M94.5 127.7h0M88.0 132.7h0M75.4 136.1h0M89.3 133.1h0M98.3 124.1h0M116.6 133.4h0M90.7 128.9h0M103.9 131.5h0M86.1 137.4h0M95.6 134.6h0M99.3 130.6h0M87.7 127.4h0M85.9 138.1h0M111.3 132.2h0M94.3 124.6h0M97.5 130.4h0M100.4 131.2h0M100.8 137.9h0M95.4 138.2h0M92.2 132.6h0M100.7 136.5h0M112.0 131.8h0M93.2 136.0h0M74.8 135.9h0M91.3 128.7h0M78.7 133.2h0M95.5 130.8h0M93.9 126.7h0M99.3 136.5h0M97.0 128.2h0M71.0 138.1h0M103.7 129.4h0M88.7 129.9h0M88.0 129.3h0M90.9 136.6h0M102.3 128.2h0M92.5 125.6h0M118.4 132.8h0M89.4 134.6h0M107.0 131.3h0M81.8 132.4h0M101.8 130.9h0M94.9 133.5h0M87.5 128.7h0M106.4 132.5h0M87.2 128.0h0M97.8 136.7h0M99.8 125.5h0M86.9 136.0h0M122.7 133.3h0M96.5 137.2h0M92.2 137.2h0M111.4 133.8h0M101.9 130.9h0M128.0 128.5h0M92.8 125.8h0M98.3 133.5h0M90.2 133.6h0M97.3 127.4h0M105.3 132.4h0M124.0 131.5h0M94.2 127.5h0M124.9 131.6h0M96.0 129.9h0M102.1 129.0h0M108.2 132.2h0M83.2 129.5h0M72.1 138.6h0M104.8 130.4h0M87.7 137.8h0M98.3 132.5h0M94.0 137.9h0M125.9 131.1h0M105.6 131.6h0M91.7 124.9h0M126.0 131.9h0M99.4 125.9h0M92.9 128.3h0M100.5 135.0h0M92.9 135.6h0M93.0 137.0h0M89.8 133.5h0M91.4 133.4h0M110.5 132.9h0M96.6 133.6h0M85.4 129.8h0M83.0 132.4h0M88.3 131.6h0M97.9 127.1h0M87.6 134.8h0M100.0 131.9h0M95.4 126.5h0M98.7 134.1h0M100.7 128.2h0M98.4 131.7h0M102.2 129.1h0M87.1 130.1h0M111.8 132.2h0M104.6 131.9h0M91.1 128.6h0M105.4 131.3h0M99.4 134.8h0M91.7 126.8h0M90.0 131.9h0M87.5 128.0h0M90.3 134.3h0M91.6 137.9h0M82.2 134.1h0" stroke="#3C9BD9" stroke-width="1.9" stroke-linecap="round" fill="none"/>
<path d="M153.0 117.4h0M198.6 98.0h0M203.8 101.2h0M207.0 116.2h0M156.9 116.2h0M200.0 103.4h0M161.5 111.9h0M193.9 105.4h0M181.3 101.5h0M202.3 115.0h0M185.7 100.6h0M164.1 111.5h0M176.6 104.2h0M197.5 106.0h0M202.5 117.0h0M191.9 92.8h0M192.3 99.8h0M161.9 123.6h0M201.7 106.5h0M195.7 92.7h0M205.2 119.8h0M203.2 107.6h0M194.1 98.4h0M204.3 101.9h0M184.6 108.8h0M185.0 101.2h0M204.0 103.8h0M195.6 103.4h0M155.0 118.5h0M195.0 101.3h0M158.7 106.0h0M202.5 111.6h0M198.8 107.1h0M188.2 102.3h0M156.5 109.4h0M169.8 105.8h0M198.8 108.9h0M207.3 114.6h0M174.3 104.2h0M193.5 92.9h0M166.4 104.0h0M160.6 119.5h0M161.0 113.8h0M191.7 102.0h0M204.2 114.1h0M204.1 107.3h0M159.6 125.9h0M182.7 104.3h0M206.5 105.6h0M195.2 98.9h0M187.4 103.7h0M205.3 112.5h0M163.1 109.3h0M166.5 102.9h0M172.5 104.0h0M160.5 114.1h0M192.8 100.5h0M194.4 100.1h0M197.8 100.1h0M162.1 122.7h0M181.2 103.4h0M201.0 101.4h0M192.1 102.1h0M165.3 123.7h0M205.4 106.7h0M191.3 91.7h0M201.5 111.6h0M192.0 97.3h0M168.4 102.2h0M187.0 99.3h0M162.4 112.7h0M194.3 105.5h0M191.3 96.8h0M204.0 116.5h0M172.6 107.6h0M197.1 108.8h0M158.3 111.1h0M178.8 101.4h0M189.4 95.2h0M186.2 96.8h0M188.6 104.2h0M184.7 100.4h0M197.6 108.1h0M206.8 111.2h0M155.4 115.6h0M191.6 99.5h0M208.1 115.8h0M164.3 111.3h0M197.4 106.2h0M156.5 118.9h0M159.3 125.4h0M162.2 120.3h0M185.6 102.9h0M180.8 100.7h0M207.0 108.5h0M165.0 127.0h0M197.8 110.8h0M179.1 102.3h0M201.5 115.6h0M196.9 101.7h0M164.2 128.4h0M155.5 116.4h0M202.6 101.0h0M173.7 102.1h0M199.7 109.5h0M205.7 111.6h0M177.2 107.8h0M171.0 102.6h0M195.0 102.4h0M161.9 108.5h0M202.1 97.8h0M171.1 104.4h0M171.8 103.9h0M191.6 102.4h0M204.2 113.2h0M154.3 111.0h0M158.8 120.1h0M204.4 99.8h0M167.2 107.5h0M162.5 123.3h0M199.8 113.1h0M199.6 108.3h0M208.1 113.1h0M187.8 98.1h0M198.2 109.0h0M174.3 102.2h0M179.7 106.8h0M193.7 99.4h0M205.9 114.3h0M194.2 92.6h0M192.7 99.5h0M153.5 115.1h0M156.1 116.6h0M190.6 103.2h0M185.3 103.5h0M181.0 101.2h0M178.1 104.2h0M162.4 105.9h0M181.3 107.3h0M194.2 106.2h0M173.2 102.4h0M158.2 127.6h0M191.9 106.4h0M192.6 92.8h0M184.6 100.3h0M202.2 99.2h0M167.2 108.2h0M158.1 121.3h0M207.2 113.0h0M205.4 119.5h0M169.3 105.7h0M176.1 102.7h0M162.0 113.1h0M184.0 102.7h0M161.8 127.0h0M187.5 98.4h0M186.8 94.7h0M202.4 115.4h0M182.9 101.1h0M163.9 109.6h0M163.7 104.4h0M201.6 107.8h0M168.8 108.2h0M198.1 110.2h0M187.0 96.3h0M204.7 102.9h0M195.2 102.2h0M195.2 104.9h0M193.3 98.0h0M191.5 103.3h0M191.3 101.4h0M202.4 100.7h0M189.0 102.9h0M200.0 100.2h0M164.3 110.5h0M195.7 97.8h0M199.2 98.1h0M197.5 99.5h0M198.8 99.8h0M191.7 96.4h0M205.2 106.7h0M191.2 95.9h0M201.2 108.5h0M195.4 98.8h0M198.7 110.3h0M201.2 115.1h0M200.1 95.2h0M187.3 94.0h0M159.5 117.6h0M205.7 107.9h0M189.2 93.2h0M189.0 100.0h0M191.8 103.6h0M198.2 106.0h0M156.5 109.7h0M181.4 103.0h0M201.8 115.8h0M170.3 118.4h0M166.7 100.4h0M201.2 104.2h0M183.3 98.5h0M159.2 110.6h0M207.1 118.4h0M162.5 116.1h0M171.3 104.9h0M168.5 117.5h0M173.6 113.7h0M164.3 104.1h0M179.7 112.8h0M164.3 115.3h0M181.8 104.1h0M180.4 104.2h0M153.3 117.8h0M158.0 111.8h0M160.4 111.3h0M199.6 97.8h0M183.0 104.9h0M161.2 110.1h0M175.9 107.4h0M208.1 114.9h0M201.6 97.3h0M201.7 100.2h0M194.9 98.4h0M160.8 123.4h0M201.3 98.0h0M185.2 102.1h0M193.4 95.1h0M163.3 111.0h0M191.0 102.3h0M154.3 111.8h0M198.9 107.1h0M201.1 111.1h0M203.9 107.2h0M189.0 96.7h0M199.7 104.4h0M158.4 118.2h0M163.5 110.8h0M201.5 109.1h0M204.8 104.1h0M187.7 97.0h0M195.0 97.6h0M203.8 111.0h0M174.9 104.5h0M171.0 110.3h0" stroke="#27B6BE" stroke-width="1.9" stroke-linecap="round" fill="none"/>
<path d="M145.5 103.6h0M132.5 107.8h0M171.7 104.7h0M143.0 89.3h0M147.3 95.2h0M132.8 107.3h0M154.5 86.6h0M134.0 126.4h0M171.7 117.1h0M178.8 91.6h0M155.0 102.6h0M138.4 93.3h0M162.9 88.7h0M144.9 103.2h0M159.4 112.6h0M146.1 112.8h0M174.3 108.2h0M153.8 96.1h0M145.7 108.2h0M175.9 104.1h0M152.6 86.5h0M176.3 91.6h0M160.7 123.1h0M170.9 102.6h0M164.7 111.2h0M181.3 100.3h0M166.0 115.8h0M129.8 117.6h0M132.4 113.7h0M161.9 105.0h0M132.1 106.7h0M132.0 116.0h0M154.9 120.0h0M144.2 92.8h0M152.7 95.3h0M173.1 111.9h0M162.7 114.9h0M161.6 119.8h0M167.2 117.0h0M131.4 117.4h0M165.8 84.2h0M142.6 108.8h0M163.7 115.0h0M151.7 94.2h0M183.9 98.7h0M147.2 108.2h0M152.1 93.3h0M170.5 86.2h0M162.3 95.4h0M177.1 100.1h0M171.7 108.5h0M155.4 90.6h0M173.5 113.5h0M171.0 111.5h0M148.4 107.6h0M145.8 104.5h0M169.3 113.9h0M137.7 124.4h0M150.8 107.9h0M130.1 108.1h0M149.7 87.3h0M138.4 80.0h0M182.1 98.6h0M172.6 116.1h0M139.8 107.1h0M170.9 100.8h0M141.9 105.4h0M149.8 92.8h0M180.7 101.0h0M177.2 109.9h0M164.7 119.3h0M145.9 97.6h0M153.7 92.2h0M154.0 100.2h0M173.3 85.4h0M139.1 118.7h0M165.9 118.5h0M152.0 96.8h0M188.9 98.0h0M139.1 105.9h0M151.2 89.5h0M138.6 95.4h0M162.3 116.6h0M144.5 91.3h0M148.2 100.0h0M156.1 88.6h0M157.9 119.2h0M169.5 108.9h0M174.8 91.7h0M172.8 87.2h0M171.0 87.2h0M168.5 118.3h0M140.4 115.7h0M164.1 112.3h0M144.8 111.8h0M166.0 111.8h0M187.6 100.8h0M174.4 112.8h0M175.8 94.8h0M166.3 114.4h0M154.6 120.6h0M156.4 90.6h0M143.5 97.5h0M161.1 106.5h0M173.3 114.1h0M169.1 85.5h0M178.5 107.7h0M166.2 120.6h0M153.7 99.9h0M170.2 84.1h0M169.0 118.5h0M143.8 92.9h0M167.8 83.7h0M176.5 98.8h0M146.0 106.6h0M146.9 101.3h0M153.0 108.8h0M173.7 111.7h0M168.4 75.1h0M174.2 113.1h0M151.5 94.7h0M128.7 116.2h0M140.8 104.2h0M169.4 116.3h0M169.8 85.3h0M171.0 103.8h0M160.6 98.2h0M172.1 110.1h0M160.8 112.6h0M160.7 97.3h0M176.8 101.9h0M163.5 100.0h0M164.7 110.8h0M168.2 121.1h0M159.0 111.8h0M169.4 113.7h0M165.8 107.8h0M170.0 94.2h0M167.5 93.2h0M162.7 116.1h0M145.0 99.5h0M144.5 90.9h0M173.3 84.1h0M163.2 89.3h0M166.8 112.0h0M130.4 115.7h0M168.0 122.1h0M175.3 108.4h0M127.7 121.2h0M151.2 90.6h0M173.2 87.4h0M143.5 95.5h0M177.6 93.5h0M145.8 103.1h0M170.8 79.1h0M161.4 99.4h0M179.0 107.6h0M158.2 107.7h0M174.6 85.9h0M186.6 102.4h0M136.4 104.5h0M174.3 94.0h0M168.6 117.2h0M133.4 109.7h0M160.6 88.9h0M179.0 104.9h0M153.9 95.7h0M138.5 98.8h0M176.2 89.7h0M154.1 91.8h0M141.2 106.2h0M166.4 89.2h0M165.4 128.3h0M171.3 99.0h0M167.0 106.9h0M162.7 114.4h0M167.4 122.3h0M143.7 98.4h0M143.5 109.4h0M177.7 98.6h0M164.9 112.0h0M163.9 100.5h0M147.8 99.4h0M175.6 88.6h0M170.4 111.4h0M172.7 112.8h0M149.1 113.4h0M143.9 104.3h0M165.1 87.9h0M163.5 117.4h0M132.2 111.3h0M164.5 103.7h0M162.8 104.4h0M148.7 102.4h0M178.4 104.8h0M178.6 90.3h0M162.3 107.8h0M131.0 110.3h0M150.3 98.0h0M177.4 95.8h0M184.5 102.5h0M170.9 104.5h0M163.8 100.8h0M180.0 101.7h0M172.5 112.4h0M188.7 101.7h0M169.7 118.5h0M162.9 97.1h0M145.0 109.6h0M169.3 110.2h0M173.6 102.0h0M135.2 113.8h0M131.1 109.0h0M170.4 72.8h0M139.8 106.4h0M169.2 118.7h0M173.2 110.9h0M144.0 103.1h0M171.6 86.0h0M175.3 105.4h0M161.5 90.0h0M177.7 102.8h0M176.2 109.8h0M151.5 93.3h0M183.5 103.2h0M153.2 88.0h0M135.3 120.5h0M170.3 95.0h0M178.5 89.2h0M153.1 96.2h0M171.5 107.9h0M167.8 89.0h0M139.0 104.9h0M187.7 103.7h0M166.9 85.9h0M175.9 110.8h0M146.8 90.6h0M172.2 98.7h0M169.8 87.5h0M170.6 82.0h0M168.6 121.5h0M146.7 111.8h0M133.5 109.5h0M169.9 112.8h0M129.5 112.8h0M178.4 111.0h0M174.9 89.3h0M156.5 118.9h0M179.2 108.3h0M172.5 117.7h0M171.5 94.4h0M167.0 120.7h0M169.4 74.7h0M133.4 108.5h0M172.8 107.5h0M158.5 124.5h0M165.8 94.1h0M132.6 110.0h0M161.2 95.3h0M141.3 97.3h0M172.9 82.9h0M162.8 115.7h0M179.7 93.0h0M151.7 100.0h0M162.3 89.3h0M141.9 110.4h0M165.9 112.1h0M166.3 101.1h0M167.7 100.4h0M170.3 113.7h0M171.3 98.0h0M141.5 112.0h0M179.5 90.6h0M162.0 125.9h0M169.0 119.4h0M159.3 107.6h0M171.2 100.4h0M170.5 88.6h0M150.4 111.8h0M176.5 110.8h0M175.8 107.8h0M168.5 109.9h0M168.5 90.3h0M186.3 101.9h0M163.1 97.0h0M132.0 124.5h0M167.7 112.8h0M174.0 86.8h0M174.5 105.8h0M155.7 88.1h0M145.2 113.2h0M138.6 114.3h0M176.5 94.6h0M133.0 107.3h0M153.3 102.9h0M169.0 104.9h0M166.5 88.7h0M169.8 85.8h0M132.7 127.1h0M173.5 78.5h0M169.5 111.5h0M179.4 103.1h0M152.2 91.4h0M165.2 90.9h0M168.7 96.3h0M154.5 114.6h0M170.5 80.4h0M131.7 126.0h0M135.4 113.2h0M173.9 102.8h0M170.6 119.5h0M151.6 100.4h0M171.8 85.9h0M164.4 114.8h0M165.0 99.5h0M169.1 89.2h0M170.9 85.1h0M178.7 107.8h0M170.7 77.3h0M173.9 95.9h0M160.4 111.2h0M145.4 95.3h0M173.6 110.6h0M165.8 119.5h0M164.8 109.8h0M173.9 111.6h0M165.2 95.5h0M170.5 111.3h0M170.0 108.9h0M151.6 100.5h0M172.0 96.0h0M174.9 93.2h0M167.1 117.5h0M169.7 76.4h0M163.6 110.6h0M171.3 109.5h0M174.2 97.4h0M169.4 107.2h0M145.9 109.5h0M170.8 115.1h0M153.7 100.7h0M162.9 111.2h0M167.5 114.4h0M174.5 90.4h0M167.4 119.1h0M173.0 106.2h0M181.1 107.9h0M134.5 105.2h0M168.9 110.2h0M141.9 97.3h0M173.8 91.4h0M144.9 100.7h0M171.4 86.1h0M148.9 98.1h0M152.7 106.5h0M163.9 118.6h0M132.0 123.1h0M164.8 120.2h0M139.6 109.2h0M181.2 98.5h0M166.7 89.8h0M172.9 75.7h0M171.8 87.8h0M166.9 107.7h0M170.3 97.7h0M143.5 95.6h0M167.4 116.8h0M167.9 91.0h0M164.2 114.0h0M144.1 95.2h0M174.5 99.5h0M148.0 104.0h0M170.4 76.8h0M169.6 112.8h0M171.5 95.2h0M163.0 101.0h0M177.7 103.3h0M130.0 115.5h0M162.9 120.0h0M168.2 76.5h0M169.6 109.9h0M167.2 119.0h0M130.5 111.6h0M145.7 102.4h0M178.8 107.4h0M167.6 86.2h0M167.8 113.9h0M153.7 100.1h0M165.1 89.4h0M153.3 93.6h0M142.3 100.6h0M167.8 112.3h0M164.5 107.7h0M171.7 85.3h0M160.8 92.1h0M144.6 107.9h0M172.1 80.1h0M170.1 86.3h0M170.1 93.0h0M141.8 96.1h0M166.0 116.0h0M170.7 111.3h0M173.2 103.0h0M149.9 95.8h0M169.6 77.1h0M165.4 112.9h0M165.9 96.1h0M153.8 104.2h0M160.4 91.2h0M133.8 106.8h0M169.1 115.3h0M145.7 94.2h0M169.9 85.5h0M147.3 103.8h0M140.1 96.4h0M131.3 124.5h0M168.7 81.8h0M182.7 105.4h0M164.6 89.0h0M132.7 125.1h0M169.2 109.0h0M165.7 118.6h0M148.3 92.2h0M129.8 120.8h0M143.4 96.2h0M156.0 121.1h0M173.2 102.8h0M135.9 108.8h0M130.8 114.1h0M149.4 99.1h0M150.9 106.3h0M162.7 105.8h0M142.5 100.0h0M152.0 107.6h0M168.9 119.7h0M179.0 89.5h0M145.0 110.3h0M175.1 111.8h0M170.7 85.2h0M134.4 120.9h0M152.2 95.1h0M166.7 118.7h0M131.8 126.4h0M181.3 106.2h0M168.6 107.7h0M150.7 88.2h0M173.0 100.4h0M153.1 107.3h0M163.1 109.9h0M142.1 93.5h0M155.8 123.4h0M136.9 104.4h0M147.2 102.0h0M162.0 116.0h0M174.2 87.9h0M168.4 119.1h0M167.7 99.2h0M172.0 104.5h0M170.6 117.3h0" stroke="#25A862" stroke-width="1.9" stroke-linecap="round" fill="none"/>
<path d="M151.0 120.8h0M140.2 143.9h0M141.1 144.7h0M150.4 136.4h0M154.6 140.7h0M156.6 136.5h0M157.1 137.7h0M149.5 131.2h0M148.8 136.6h0M153.3 135.6h0M150.7 145.4h0M144.7 123.3h0M146.6 120.6h0M138.3 141.7h0M137.2 135.6h0M153.7 142.0h0M145.1 141.6h0M146.5 139.3h0M135.8 134.2h0M150.3 132.5h0M149.8 122.8h0M152.9 142.1h0M151.6 138.6h0M150.4 134.6h0M145.0 135.4h0M133.3 138.2h0M153.6 137.5h0M136.2 145.9h0M149.8 132.1h0M140.7 128.9h0M146.4 128.9h0M136.2 137.7h0M155.3 135.8h0M147.4 137.6h0M151.5 137.5h0M157.7 136.3h0M155.6 134.7h0M142.8 146.3h0M143.3 125.1h0M154.5 131.6h0M152.1 131.0h0M149.1 133.5h0M158.4 137.0h0M145.3 129.3h0M147.0 134.7h0M155.1 138.9h0M142.5 143.0h0M146.0 137.9h0M152.2 138.9h0M149.2 124.4h0M151.3 133.0h0M139.9 141.2h0M146.2 139.4h0M153.9 138.2h0M152.4 141.7h0M144.4 138.8h0M151.7 129.1h0M143.3 136.9h0M150.5 144.1h0M141.5 143.8h0M145.6 129.2h0M136.5 136.1h0M150.2 141.1h0M155.3 130.1h0M149.0 125.5h0M145.7 141.8h0M139.9 144.6h0M150.7 128.4h0M145.8 137.1h0M150.9 134.3h0M138.2 143.3h0M142.0 143.9h0M145.8 146.3h0M139.4 146.8h0M146.2 125.3h0M136.9 144.8h0M154.1 132.8h0M138.2 142.9h0M134.3 136.5h0M144.7 141.5h0M152.0 142.3h0M144.4 142.3h0M141.8 138.5h0M138.5 143.6h0M145.4 133.8h0M139.3 146.1h0M142.2 146.2h0M151.0 130.3h0M146.0 142.8h0M137.6 127.2h0M143.0 142.4h0M153.0 134.9h0M151.7 131.4h0M149.6 144.4h0M150.1 124.1h0M152.5 124.7h0M137.9 127.4h0M144.5 145.5h0M147.8 131.8h0M148.3 135.1h0M139.2 148.9h0M152.7 134.3h0M149.9 137.6h0M136.6 145.9h0M149.8 135.6h0M135.1 138.0h0M152.2 128.0h0M134.2 141.8h0M151.7 134.6h0M140.8 136.3h0M144.4 143.9h0M151.5 121.6h0M150.4 143.1h0M154.4 135.9h0M153.1 139.5h0M154.0 137.5h0M149.7 125.7h0M149.9 145.0h0M139.9 141.7h0M143.6 130.5h0M140.9 146.4h0M147.1 139.8h0M151.7 131.2h0M150.0 119.0h0M143.5 128.2h0M140.3 142.4h0M140.5 142.2h0M139.4 144.3h0M138.8 135.3h0M144.0 141.8h0M136.1 141.1h0M145.9 128.4h0M148.8 137.5h0M143.3 146.4h0M146.1 118.7h0M147.4 126.2h0M149.8 145.1h0" stroke="#86B01F" stroke-width="1.9" stroke-linecap="round" fill="none"/>
<path d="M180.3 149.9h0M195.0 151.6h0M194.4 154.0h0" stroke="#CE9512" stroke-width="1.9" stroke-linecap="round" fill="none"/>
<path d="M175.7 136.6h0M207.6 130.8h0M183.8 106.9h0M170.1 123.2h0M197.4 143.4h0M170.6 145.5h0M191.5 128.6h0M198.9 138.7h0M198.4 133.3h0M197.0 150.8h0M196.3 108.0h0M190.0 126.9h0M177.3 129.2h0M198.9 134.7h0M191.0 131.3h0M199.9 149.9h0M174.7 144.9h0M179.0 115.1h0M183.6 112.1h0M195.4 148.7h0M202.2 122.3h0M206.3 137.5h0M181.8 107.5h0M178.6 125.8h0M185.2 146.8h0M192.8 146.2h0M186.7 139.2h0M202.9 144.8h0M184.5 130.9h0M195.6 129.3h0M198.6 149.2h0M187.5 120.5h0M195.1 146.5h0M182.1 140.9h0M183.6 144.6h0M201.1 141.9h0M199.8 146.5h0M203.7 136.5h0M208.4 136.2h0M194.4 114.0h0M183.9 110.5h0M173.3 121.9h0M200.0 134.4h0M206.2 138.8h0M198.2 143.9h0M190.0 114.1h0M211.6 132.3h0M194.4 151.1h0M190.0 148.2h0M178.3 121.8h0M180.5 127.8h0M174.0 120.9h0M199.3 127.9h0M180.4 122.5h0M176.4 138.6h0M196.4 113.9h0M177.8 127.6h0M178.8 126.5h0M195.2 125.4h0M190.1 127.4h0M181.5 142.6h0M195.1 119.5h0M176.8 113.4h0M179.1 139.6h0M191.3 150.4h0M195.2 141.7h0M201.1 136.3h0M181.0 108.6h0M185.0 132.8h0M170.0 127.0h0M174.2 119.7h0M199.5 121.5h0M178.4 134.4h0M208.9 133.4h0M196.0 134.4h0M189.1 135.8h0M180.8 136.0h0M207.9 141.1h0M173.1 130.9h0M175.7 125.2h0M186.2 122.7h0M189.8 142.5h0M180.0 160.0h0M184.6 133.6h0M202.5 144.4h0M189.0 109.7h0M175.6 139.8h0M201.1 132.9h0M188.0 130.1h0M195.3 122.1h0M198.4 143.1h0M168.9 136.0h0M176.9 129.7h0M181.0 132.4h0M198.6 116.4h0M173.0 128.5h0M205.4 139.7h0M191.8 118.4h0M179.8 120.1h0M200.8 129.8h0M205.7 143.8h0M188.4 128.2h0M195.8 125.7h0M192.3 143.7h0M206.5 131.0h0M196.9 123.5h0M193.7 144.1h0M200.2 151.7h0M191.2 124.4h0M197.4 135.3h0M180.3 148.5h0M189.8 136.9h0M189.0 105.8h0M194.0 142.3h0M206.2 141.3h0M181.5 119.6h0M194.6 121.9h0M194.8 148.3h0M185.5 134.9h0M210.1 129.6h0M187.3 124.4h0M173.1 134.2h0M179.4 131.3h0M170.1 130.8h0M183.3 135.5h0M183.1 141.4h0M196.7 110.8h0M196.1 134.3h0M171.1 130.7h0M191.7 136.4h0M201.5 123.0h0M194.3 109.3h0M190.0 149.8h0M183.3 139.0h0M197.3 115.5h0M185.2 129.4h0M202.6 124.2h0M197.5 136.4h0M186.6 148.7h0M196.1 135.4h0M204.0 145.4h0M206.0 130.8h0M202.6 146.1h0M195.5 126.6h0M183.0 137.6h0M209.9 132.4h0M208.3 135.6h0M191.1 134.0h0M197.5 121.4h0M197.7 116.3h0M182.1 109.4h0M189.8 147.6h0M175.4 131.5h0M185.3 120.6h0M180.4 126.9h0M173.1 117.5h0M188.9 141.5h0M197.9 114.4h0M190.4 132.2h0M184.5 115.3h0M176.4 132.3h0M206.4 132.2h0M191.1 119.1h0M180.6 136.0h0M194.2 142.8h0M188.9 106.5h0M204.6 124.8h0M180.8 128.2h0M198.5 116.1h0M188.6 121.5h0M185.1 152.2h0M203.7 135.1h0M198.6 145.6h0M184.9 122.5h0M202.1 142.6h0M206.9 137.0h0M199.6 117.2h0M196.6 138.2h0M178.6 125.7h0M189.7 128.0h0M170.3 134.0h0M190.9 110.6h0M193.6 109.3h0M203.6 135.0h0M182.5 140.4h0M204.0 147.1h0M172.3 124.7h0M190.0 127.0h0M206.4 129.5h0M193.0 112.1h0M183.5 143.0h0M183.5 106.9h0M191.3 119.4h0M206.9 135.9h0M174.9 117.1h0M190.7 112.6h0M185.7 116.4h0M176.7 141.1h0M172.8 145.6h0M191.9 143.9h0M196.8 108.6h0M198.5 111.8h0M186.7 140.6h0M172.3 123.0h0M184.6 130.6h0M199.5 139.0h0M195.8 140.7h0M183.1 113.9h0M186.5 123.3h0M179.3 141.3h0M186.4 140.6h0M192.2 131.5h0M191.6 127.2h0M186.7 144.4h0M205.5 123.7h0M180.6 128.3h0M179.4 128.1h0M183.8 143.9h0M178.6 131.4h0M169.9 130.5h0M205.6 121.0h0M189.6 125.0h0M201.9 142.6h0M197.7 119.4h0M199.4 133.5h0M180.8 134.0h0M187.0 117.2h0M181.3 116.7h0M185.8 129.6h0M200.7 118.0h0M179.5 137.7h0M178.9 141.3h0M197.6 141.1h0M194.2 150.9h0M203.4 134.5h0M201.3 123.0h0M174.5 125.6h0M187.9 108.3h0M173.7 127.9h0M188.0 120.2h0M197.3 118.7h0M202.6 124.4h0M181.3 136.8h0M174.8 132.9h0M201.0 125.9h0M176.4 124.3h0M185.7 145.4h0M178.0 138.4h0M190.8 121.7h0M184.9 117.4h0M170.9 131.7h0M181.1 121.2h0M163.0 140.4h0M180.3 116.3h0M184.2 120.0h0M179.9 129.9h0M200.3 120.2h0M192.0 134.2h0M174.7 131.7h0M201.8 122.4h0M190.5 144.3h0M185.9 131.4h0M178.8 115.8h0M205.2 137.8h0M200.7 122.6h0M182.9 106.0h0M201.1 137.1h0M197.9 146.2h0M189.2 144.0h0M185.6 110.8h0M194.8 111.1h0M177.7 121.1h0M174.6 137.0h0M172.2 134.9h0M193.8 113.3h0M194.3 116.3h0M183.8 144.6h0M204.7 144.8h0M206.5 127.7h0M190.5 118.7h0M175.1 130.4h0M198.1 127.5h0M181.4 139.2h0M172.9 122.6h0M175.7 122.4h0M201.4 138.8h0M197.7 141.0h0M197.0 144.5h0M173.2 135.9h0M186.0 108.9h0M190.9 116.4h0M178.4 146.0h0M193.7 110.4h0M189.5 148.3h0M186.6 111.4h0M180.8 134.1h0M199.1 125.2h0M197.3 120.9h0M189.0 138.3h0M177.2 131.1h0M190.3 115.5h0M191.1 129.2h0M179.8 116.6h0M194.6 113.9h0M198.7 113.2h0M180.4 133.8h0M198.5 148.1h0M194.8 128.1h0M192.2 114.3h0M200.8 142.9h0M171.5 134.0h0M191.6 145.2h0M194.7 122.4h0M198.3 134.7h0M189.2 139.6h0M194.3 112.3h0M189.6 135.4h0M187.1 110.5h0M204.2 127.5h0M203.1 134.1h0M203.1 143.0h0M185.8 117.7h0M178.7 133.2h0M184.6 123.5h0M176.3 130.1h0M197.4 150.3h0M199.2 136.7h0M186.3 121.4h0M174.9 133.9h0M187.4 118.0h0M206.6 125.0h0M177.7 136.9h0M178.7 121.9h0M195.4 146.4h0M211.6 132.5h0M186.8 117.1h0M182.4 124.7h0M203.0 142.2h0M201.4 119.2h0M187.3 123.4h0M176.7 127.5h0M179.9 136.5h0M191.3 138.9h0M189.3 107.7h0M196.6 126.2h0M193.7 114.0h0M204.5 140.1h0M181.5 149.9h0M179.4 130.7h0M192.0 142.4h0M199.2 117.9h0M199.1 147.1h0M196.6 115.6h0M175.3 136.4h0M190.0 123.6h0M173.1 141.6h0M172.5 122.8h0M204.8 135.5h0M204.9 142.6h0M186.5 136.3h0M180.8 139.8h0M194.5 126.7h0M194.3 131.1h0M189.4 121.3h0M197.7 139.5h0M199.4 120.4h0M193.0 114.3h0M206.0 139.0h0M179.2 123.7h0M205.7 143.3h0M195.3 111.3h0M200.9 131.2h0M174.7 136.2h0M186.7 115.3h0M197.5 139.1h0M183.9 132.9h0M192.8 133.4h0M174.6 123.9h0M186.1 143.0h0M183.4 116.7h0M184.8 111.5h0M192.2 121.8h0M190.5 134.4h0M200.4 118.1h0M205.1 120.2h0M176.1 130.1h0M173.4 129.1h0M180.2 111.0h0M163.6 140.6h0M181.7 137.4h0M168.3 125.1h0M188.4 143.8h0M175.1 122.2h0M184.9 120.8h0M198.3 113.3h0M176.5 121.1h0M209.5 133.7h0M196.6 123.5h0M205.2 138.0h0M199.5 145.6h0M178.5 132.1h0M187.0 124.9h0M183.7 145.5h0M192.7 125.5h0M175.3 136.8h0M179.4 131.9h0M181.0 118.5h0M177.1 131.7h0M175.6 128.6h0M190.5 135.2h0M184.0 137.2h0M187.3 139.0h0M192.4 128.5h0M201.9 126.0h0M180.7 106.4h0M195.7 111.9h0M174.6 132.5h0M180.0 113.9h0M203.6 137.3h0M175.2 118.2h0M192.7 146.0h0M199.3 132.2h0M188.5 118.6h0M198.5 139.5h0M190.2 129.9h0M207.9 134.3h0M206.1 143.6h0M191.6 108.6h0M180.3 134.2h0M207.7 135.1h0M200.1 125.9h0M197.2 136.1h0M189.7 130.9h0M208.8 139.7h0M197.9 117.3h0M202.8 127.2h0M195.3 139.7h0M188.3 107.8h0M195.7 141.4h0M204.4 130.8h0M202.1 138.2h0M182.5 104.3h0M182.9 133.7h0M176.5 123.8h0M186.4 130.4h0M177.1 126.9h0M199.4 118.1h0M194.1 139.5h0M185.5 128.2h0M185.4 123.5h0M188.7 127.5h0M174.5 127.1h0M180.0 140.4h0M181.5 125.5h0M185.5 108.8h0M186.5 145.6h0M185.9 141.7h0M197.5 146.4h0M198.3 139.0h0M182.7 119.0h0M170.3 130.8h0M204.9 132.8h0M195.7 143.9h0M195.5 116.9h0M179.4 130.1h0M190.7 140.0h0M181.9 124.4h0M184.0 115.6h0M200.4 148.9h0M178.2 130.8h0M186.4 113.4h0M194.8 150.4h0M185.0 144.8h0M186.5 142.0h0M194.2 108.6h0M204.6 141.1h0M196.6 114.9h0M206.9 128.2h0M181.3 114.8h0M204.0 139.3h0M183.6 105.9h0M203.8 143.8h0M196.1 123.3h0M190.4 139.2h0M192.9 119.6h0M202.9 146.8h0M195.0 142.6h0M192.9 127.4h0M207.6 126.2h0M198.4 118.6h0M185.6 105.5h0M187.0 137.1h0M178.8 118.0h0M194.8 134.0h0M178.7 124.9h0M197.1 126.0h0M175.0 122.8h0M175.9 139.0h0M197.6 143.2h0M202.8 144.7h0M202.8 137.2h0M193.0 138.4h0M196.7 111.7h0M198.5 118.1h0M182.8 132.9h0M203.6 127.3h0M178.2 140.1h0M187.8 111.6h0M192.4 132.7h0M183.3 125.6h0M196.9 145.4h0M197.9 114.7h0M188.7 150.0h0M183.8 132.4h0M200.5 135.7h0M204.5 132.8h0M196.9 111.9h0M177.4 114.7h0M198.4 151.5h0M196.8 129.3h0M193.1 149.8h0M169.3 132.5h0M184.2 110.5h0M187.1 137.9h0M193.7 145.3h0M201.0 124.7h0M209.5 133.4h0M189.5 137.2h0M206.4 139.7h0M169.7 128.7h0M191.6 110.1h0M203.3 122.8h0M192.7 125.6h0M178.0 138.7h0M190.8 143.8h0M184.7 133.6h0M181.4 115.3h0M190.0 107.7h0M188.0 126.0h0M181.4 130.7h0" stroke="#F0736B" stroke-width="1.9" stroke-linecap="round" fill="none"/>
<path d="M205.7 150.3h0M205.8 148.3h0M207.5 145.5h0M208.0 145.5h0M207.6 146.6h0M207.5 149.0h0M205.1 150.7h0M205.4 150.4h0M204.9 151.3h0M207.6 146.6h0" stroke="#17979B" stroke-width="1.9" stroke-linecap="round" fill="none"/>
<path d="M158.1 72.7h0M150.8 73.5h0M147.7 71.6h0M169.8 68.1h0M152.8 73.8h0M156.6 73.0h0M157.9 71.9h0M170.1 69.2h0M165.9 70.4h0M154.2 74.4h0M150.7 73.3h0M168.6 67.5h0M148.2 72.6h0M154.2 77.1h0M150.3 73.0h0M170.2 67.9h0M166.3 69.8h0M165.6 70.4h0M154.2 75.8h0M154.3 79.7h0M165.5 70.0h0M156.0 73.9h0M166.9 70.7h0M170.7 71.6h0M168.8 69.4h0M159.3 69.4h0M147.8 72.3h0M165.7 70.2h0M146.8 71.9h0" stroke="#A36CB6" stroke-width="2.1" stroke-linecap="round" fill="none"/>
<path d="M184.2 51.1h0M183.6 46.5h0M154.2 82.0h0" stroke="#D04C98" stroke-width="2.3" stroke-linecap="round" fill="none"/>
<path d="M114.8 131.9h0M102.2 132.8h0M120.1 133.5h0M99.1 129.1h0M87.1 135.0h0M113.4 131.7h0M82.9 132.3h0M97.6 126.4h0M104.5 135.9h0M107.8 133.2h0M95.6 138.2h0M83.5 136.9h0M88.0 135.7h0M92.7 136.1h0M101.7 130.2h0M89.9 130.4h0M85.7 133.7h0M92.1 136.6h0M94.6 134.8h0M100.5 138.6h0M102.9 140.2h0M88.6 133.3h0M86.5 132.2h0M80.7 133.1h0M116.7 132.4h0M122.9 133.1h0M120.3 131.3h0M73.4 137.7h0M86.6 132.6h0M90.6 128.9h0M111.1 132.3h0M92.9 135.6h0M118.2 131.1h0M103.4 141.4h0M94.1 134.1h0M108.3 132.4h0M94.4 125.1h0M84.5 129.0h0M88.0 132.4h0M123.9 132.4h0M100.8 129.1h0M97.7 130.2h0M91.7 133.4h0M107.7 135.5h0M92.4 138.4h0M91.8 127.0h0M97.1 131.0h0M103.6 131.5h0M81.3 132.1h0M87.2 129.1h0M102.8 132.0h0M77.0 135.5h0M117.9 131.8h0M103.6 141.6h0M88.0 135.4h0M96.2 131.8h0M97.4 135.5h0M82.7 135.7h0M83.8 131.8h0M112.7 131.9h0M85.4 130.4h0M102.2 127.1h0M89.8 127.1h0M100.9 138.4h0M111.3 130.6h0M99.5 136.4h0M103.6 133.1h0M120.8 132.3h0M97.3 133.9h0M82.5 136.1h0M92.3 127.9h0M102.2 140.4h0M78.3 134.8h0M102.2 132.5h0M102.5 141.2h0M100.3 130.6h0M89.6 134.1h0M89.0 133.8h0M99.7 133.2h0M106.3 131.8h0M87.9 126.1h0M110.2 132.9h0M95.3 130.2h0M85.0 127.5h0M84.2 135.8h0M92.1 132.2h0M92.6 136.3h0M94.7 126.4h0M89.1 134.5h0M104.0 139.7h0M113.7 131.5h0M88.0 128.0h0M90.8 130.3h0M86.6 128.9h0M102.3 133.0h0M113.0 132.9h0M86.7 134.7h0M98.0 124.4h0M90.8 128.1h0M89.7 136.9h0M96.4 134.5h0M101.8 131.4h0M104.4 133.8h0M124.5 131.5h0M91.8 126.6h0M91.0 133.9h0M109.9 133.9h0M96.1 135.6h0M95.5 127.5h0M90.7 137.8h0M96.6 138.3h0M104.1 133.5h0M90.4 136.6h0M89.4 136.0h0M104.1 135.6h0M104.7 135.0h0M95.4 126.2h0M99.5 135.5h0M90.8 137.8h0M108.5 132.4h0M88.6 130.5h0M91.3 131.2h0M85.6 127.7h0M87.2 129.5h0M90.5 129.3h0M95.4 132.7h0M99.3 127.3h0M102.2 137.2h0M97.4 136.6h0M101.2 130.8h0M95.3 128.8h0M98.9 137.5h0M101.5 138.1h0M91.5 131.7h0M98.1 130.5h0M98.2 131.4h0M82.5 132.9h0M91.9 133.7h0M107.2 133.3h0M101.5 137.3h0M102.0 136.6h0M100.5 137.4h0M109.7 132.7h0M83.2 134.9h0M76.3 136.1h0M90.7 127.6h0M93.7 134.6h0M86.9 130.0h0M83.3 131.6h0M95.8 134.7h0M101.0 129.9h0M90.2 128.6h0M120.2 131.9h0M102.6 134.1h0M109.2 131.9h0M121.7 134.6h0M106.3 131.6h0M88.5 137.4h0M85.5 131.2h0M100.4 126.5h0M78.5 134.3h0M111.8 131.9h0M82.4 131.9h0M90.2 133.0h0M89.3 130.3h0M90.7 130.7h0M111.9 130.4h0M95.1 134.4h0M85.0 129.8h0M89.6 129.2h0M87.8 132.8h0M91.2 134.5h0M96.4 136.2h0M105.1 135.2h0M113.9 133.4h0M101.4 134.8h0M98.9 126.4h0M108.9 132.7h0M92.8 132.2h0M101.3 135.2h0M98.6 135.0h0M127.0 130.3h0M101.4 129.6h0M98.0 135.0h0M103.4 140.7h0" stroke="#3C9BD9" stroke-width="1.9" stroke-linecap="round" fill="none"/>
<path d="M159.9 103.6h0M160.3 109.9h0M194.8 101.9h0M183.7 101.3h0M202.8 105.9h0M189.4 93.9h0M192.4 96.1h0M199.3 109.9h0M190.8 104.6h0M167.2 111.6h0M164.2 125.3h0M161.0 125.7h0M196.1 103.5h0M162.8 118.9h0M199.5 103.3h0M197.5 95.8h0M206.8 119.6h0M175.7 102.7h0M193.0 99.0h0M189.6 95.9h0M197.6 108.0h0M202.8 110.8h0M188.2 100.3h0M188.6 100.6h0M192.2 94.6h0M201.6 111.7h0M203.9 107.5h0M200.2 100.7h0M170.5 102.2h0M206.1 115.5h0M201.6 107.2h0M183.7 104.8h0M193.9 92.0h0M155.6 113.0h0M166.0 128.4h0M192.0 97.7h0M155.8 119.4h0M205.4 116.4h0M183.1 102.9h0M188.7 94.8h0M152.1 116.0h0M161.6 122.4h0M180.5 104.3h0M152.8 114.7h0M187.3 103.0h0M167.0 108.0h0M189.1 93.8h0M205.1 107.4h0M189.5 103.6h0M202.4 111.0h0M166.2 106.9h0M204.7 102.6h0M166.0 129.4h0M201.3 98.1h0M159.5 107.2h0M205.7 116.6h0M179.7 100.8h0M200.8 108.7h0M154.9 117.2h0M168.1 101.6h0M202.8 114.4h0M180.0 100.8h0M186.4 95.7h0M172.0 108.9h0M193.3 99.4h0M202.6 103.5h0M161.8 108.1h0M177.4 107.1h0M186.3 101.0h0M203.2 109.0h0M158.6 111.4h0M203.7 102.2h0M205.4 104.5h0M190.7 101.9h0M184.1 100.3h0M193.9 102.5h0M201.8 109.7h0M205.8 109.8h0M159.2 108.9h0M159.7 105.2h0M200.8 110.0h0M154.4 112.4h0M164.6 111.4h0M188.7 99.6h0M166.4 102.8h0M163.6 115.8h0M185.6 102.3h0M204.8 106.2h0M163.9 103.8h0M167.8 103.9h0M161.3 114.6h0M170.5 108.0h0M190.5 97.1h0M205.4 113.6h0M192.7 98.4h0M185.9 101.3h0M193.0 105.1h0M200.6 106.6h0M174.7 112.3h0M199.1 108.8h0M196.8 93.2h0M158.6 119.4h0M190.9 92.4h0M168.3 103.2h0M174.3 100.7h0M176.2 101.4h0M168.0 104.2h0M198.6 105.8h0M206.5 105.1h0M195.5 93.6h0M187.3 95.1h0M187.5 103.4h0M160.6 119.1h0M188.7 93.2h0M158.0 124.8h0M207.1 115.3h0M194.6 92.9h0M202.6 116.1h0M198.5 106.8h0M192.0 104.7h0M167.6 120.9h0M206.0 111.6h0M204.3 117.7h0M204.1 109.1h0M164.9 113.8h0M189.9 104.4h0M159.7 123.0h0M159.2 120.1h0M193.5 97.6h0M158.2 123.3h0M158.1 110.3h0M157.8 117.0h0M189.4 92.9h0M154.4 118.8h0M199.1 96.6h0M203.3 116.0h0M173.7 104.9h0M198.4 105.2h0M159.4 109.8h0M197.4 97.8h0M205.6 117.8h0M193.2 102.9h0M204.1 112.0h0M164.7 104.6h0M157.8 111.9h0M196.6 98.5h0M161.4 123.8h0M160.1 106.7h0M178.9 107.5h0M204.0 111.0h0M186.5 94.8h0M195.0 98.9h0M195.0 94.9h0M173.0 106.5h0M193.0 104.8h0M198.9 108.3h0M159.8 108.6h0M186.7 103.8h0M206.7 120.1h0M201.6 114.9h0M205.7 111.7h0M203.6 105.8h0M189.8 93.0h0M162.4 116.9h0M155.0 111.6h0M203.0 114.4h0M203.1 112.3h0M181.6 102.0h0M161.4 116.6h0M186.0 102.2h0M170.2 102.4h0M164.1 127.6h0M200.2 95.9h0M199.2 99.2h0M160.5 124.6h0M159.4 106.4h0M201.8 113.7h0M187.9 94.8h0M201.8 104.5h0M155.6 112.1h0M189.6 101.4h0M163.8 125.6h0M151.1 118.4h0M195.6 108.2h0M194.1 102.8h0M162.3 102.9h0M160.3 112.0h0M195.6 99.0h0M198.9 97.1h0M165.4 109.8h0M154.8 114.3h0M161.6 106.1h0M203.8 107.4h0M194.9 95.0h0M187.1 101.8h0M192.7 98.4h0M191.0 95.5h0M158.8 125.1h0M153.7 118.9h0M205.3 112.1h0M189.8 98.9h0M170.7 115.9h0M157.3 108.7h0M203.2 112.2h0M194.2 103.5h0M163.3 129.9h0M162.2 104.5h0M160.5 122.2h0M167.9 109.7h0M179.0 100.9h0M159.8 104.1h0M166.4 103.4h0M208.6 118.1h0M172.4 103.2h0M181.7 100.3h0M170.7 114.1h0M155.3 108.7h0M200.4 94.4h0M165.3 109.1h0M207.6 118.2h0M163.4 105.4h0M159.6 126.2h0M155.7 109.5h0M188.7 102.3h0M161.2 108.7h0M205.1 109.0h0M173.9 106.0h0M160.0 117.3h0M196.5 98.4h0M155.3 116.3h0M188.9 93.7h0M152.4 109.6h0M178.4 105.3h0M164.0 125.1h0M176.0 104.5h0M160.7 108.8h0M157.4 123.1h0M186.7 96.5h0M203.8 106.1h0M206.4 104.8h0M172.1 101.9h0M164.8 128.0h0M193.6 97.3h0M193.7 93.5h0" stroke="#27B6BE" stroke-width="1.9" stroke-linecap="round" fill="none"/>
<path d="M153.8 89.3h0M140.5 97.8h0M153.0 92.5h0M173.9 108.2h0M176.9 108.8h0M132.0 126.1h0M164.9 93.4h0M168.7 120.7h0M150.8 87.9h0M174.2 111.7h0M171.8 87.2h0M166.2 114.9h0M185.7 100.0h0M172.8 91.8h0M145.1 88.7h0M133.6 113.0h0M164.1 87.7h0M151.0 108.1h0M163.3 110.2h0M176.9 99.0h0M168.4 117.0h0M176.9 106.3h0M173.8 73.4h0M175.0 112.0h0M146.3 108.5h0M152.4 92.9h0M168.6 77.6h0M172.9 114.3h0M168.4 117.6h0M140.7 92.5h0M150.2 94.0h0M165.6 112.3h0M172.4 111.1h0M162.6 93.3h0M133.9 104.2h0M130.2 109.1h0M162.9 112.0h0M163.7 107.9h0M148.3 113.2h0M170.1 110.4h0M132.3 112.3h0M174.3 108.7h0M130.1 122.2h0M176.2 109.1h0M165.8 112.4h0M164.9 115.1h0M162.8 106.8h0M168.3 118.7h0M163.0 122.5h0M171.0 83.1h0M152.1 108.5h0M175.1 114.2h0M175.4 90.7h0M138.5 105.0h0M166.1 91.3h0M178.7 104.8h0M171.1 82.6h0M170.5 72.8h0M165.5 119.3h0M184.9 100.3h0M171.4 107.5h0M183.5 101.6h0M168.2 98.9h0M172.5 94.9h0M179.2 105.9h0M179.6 107.0h0M185.6 97.1h0M175.6 98.3h0M170.8 113.3h0M184.0 97.3h0M162.7 93.1h0M161.4 99.4h0M166.3 86.6h0M154.4 90.6h0M155.4 91.4h0M168.0 109.5h0M176.5 94.3h0M166.0 86.7h0M166.8 120.5h0M175.6 98.1h0M177.7 95.0h0M172.3 109.3h0M159.8 112.8h0M167.0 103.4h0M137.3 107.0h0M174.5 108.0h0M172.1 110.9h0M161.4 126.7h0M168.8 117.1h0M169.6 112.0h0M172.5 113.3h0M168.7 115.3h0M169.8 105.0h0M175.2 86.8h0M131.1 107.7h0M143.4 113.5h0M170.4 116.0h0M170.5 113.5h0M168.4 95.7h0M172.3 76.0h0M177.3 94.1h0M169.4 104.7h0M174.8 85.1h0M169.3 98.4h0M177.0 97.4h0M141.5 106.7h0M168.8 119.0h0M164.0 102.6h0M168.9 114.6h0M178.3 87.8h0M158.9 118.4h0M153.7 96.8h0M157.6 121.4h0M165.7 119.8h0M163.8 111.9h0M166.0 87.6h0M167.4 119.7h0M143.5 103.9h0M180.4 101.9h0M145.9 93.1h0M173.2 107.4h0M132.7 124.9h0M146.9 96.9h0M144.7 96.7h0M178.4 106.2h0M144.1 109.5h0M153.6 97.7h0M148.4 102.0h0M143.5 99.1h0M136.1 112.4h0M162.0 112.6h0M188.2 102.6h0M142.7 111.3h0M167.3 114.1h0M165.0 120.7h0M159.8 123.4h0M187.5 100.7h0M178.4 106.2h0M161.8 92.8h0M132.4 126.8h0M144.8 110.4h0M162.1 105.1h0M160.9 127.5h0M158.9 93.9h0M171.7 107.6h0M146.0 95.4h0M152.5 115.0h0M131.1 108.9h0M163.1 92.0h0M131.9 105.7h0M167.6 96.1h0M185.9 100.1h0M170.1 75.8h0M172.4 75.8h0M156.0 120.4h0M167.9 121.4h0M146.2 107.7h0M165.3 85.8h0M176.1 111.7h0M136.7 118.5h0M178.3 96.8h0M160.5 91.1h0M150.3 103.9h0M142.3 107.2h0M144.5 104.0h0M150.4 97.4h0M136.6 100.4h0M143.7 91.1h0M167.7 111.3h0M172.5 111.6h0M141.5 103.3h0M173.6 110.5h0M159.8 114.5h0M176.0 104.5h0M136.1 99.3h0M148.3 92.9h0M164.8 100.1h0M174.8 96.7h0M179.3 98.9h0M172.6 87.3h0M175.6 91.8h0M173.3 95.8h0M131.0 107.8h0M161.9 113.4h0M170.0 77.7h0M175.2 108.2h0M181.9 96.3h0M169.4 78.0h0M148.7 107.5h0M166.1 119.5h0M176.3 113.5h0M168.2 87.4h0M166.6 86.7h0M186.0 96.0h0M165.1 102.3h0M169.5 101.6h0M147.6 96.8h0M165.3 116.6h0M149.7 108.5h0M153.0 97.8h0M174.1 81.2h0M185.5 102.5h0M145.7 109.7h0M149.5 110.6h0M162.3 122.7h0M168.2 114.9h0M152.7 92.7h0M165.5 120.4h0M128.8 116.6h0M158.4 123.0h0M142.1 93.7h0M173.2 88.6h0M149.9 111.1h0M167.8 112.4h0M172.2 92.0h0M159.4 93.6h0M174.4 102.5h0M159.1 109.8h0M175.1 107.7h0M139.2 99.5h0M165.3 97.0h0M167.8 115.0h0M175.9 89.2h0M142.6 109.7h0M183.6 98.0h0M183.8 102.7h0M163.4 112.9h0M142.1 96.3h0M176.5 102.9h0M133.5 106.5h0M174.2 98.2h0M132.0 103.0h0M162.9 118.2h0M175.8 95.5h0M150.9 90.2h0M148.6 97.6h0M139.0 102.4h0M146.1 102.5h0M142.7 110.0h0M151.9 109.1h0M164.0 90.9h0M183.6 97.6h0M167.5 107.7h0M158.4 89.4h0M176.4 107.1h0M174.8 104.6h0M173.0 105.4h0M134.7 100.8h0M140.2 93.1h0M156.7 114.1h0M138.6 108.3h0M166.5 108.5h0M163.8 119.6h0M184.3 97.5h0M142.4 107.6h0M134.4 105.1h0M134.8 103.3h0M138.2 97.8h0M148.6 96.3h0M163.8 96.4h0M168.8 97.9h0M156.6 104.7h0M139.7 94.9h0M181.6 99.2h0M174.8 93.4h0M171.5 78.6h0M168.0 83.7h0M176.3 106.9h0M175.4 86.3h0M167.0 122.3h0M130.0 113.0h0M137.9 102.7h0M172.6 100.3h0M134.5 101.4h0M143.6 105.7h0M164.0 119.3h0M133.9 108.9h0M170.5 119.9h0M171.4 114.4h0M172.3 99.0h0M169.4 114.3h0M158.5 121.4h0M131.2 109.7h0M162.9 116.3h0M149.3 94.3h0M170.8 86.9h0M170.9 71.7h0M179.4 103.6h0M129.9 114.2h0M174.3 108.2h0M170.5 108.1h0M172.8 93.4h0M162.9 119.2h0M172.3 85.7h0M172.6 112.1h0M169.8 111.7h0M147.2 95.5h0M140.7 108.4h0M172.9 99.6h0M163.1 92.4h0M145.2 105.0h0M152.0 96.5h0M178.2 102.5h0M143.3 93.8h0M131.0 112.3h0M162.8 88.4h0M129.3 123.2h0M169.4 72.9h0M167.9 111.9h0M171.1 112.8h0M172.0 100.9h0M172.6 92.4h0M146.7 98.8h0M176.3 101.7h0M169.9 114.9h0M162.0 97.1h0M167.3 111.5h0M172.0 82.4h0M175.1 93.6h0M176.2 85.7h0M133.9 110.2h0M137.5 94.3h0M152.6 117.7h0M164.2 119.3h0M168.9 97.4h0M136.5 109.8h0M151.7 94.2h0M174.9 108.5h0M138.1 121.7h0M178.3 101.9h0M176.7 100.3h0M143.9 98.9h0M172.7 106.6h0M167.7 122.0h0M174.8 107.4h0M169.5 100.7h0M172.4 115.1h0M129.7 119.2h0M175.4 108.6h0M169.7 74.7h0M163.5 105.8h0M176.5 89.8h0M156.9 89.0h0M149.4 88.1h0M176.5 109.0h0M177.1 107.2h0M149.4 108.9h0M180.3 106.5h0M145.2 109.4h0M157.6 92.1h0M131.3 123.1h0M160.7 106.9h0M175.5 114.2h0M162.1 101.3h0M134.7 103.7h0M166.4 112.1h0M161.1 100.1h0M176.5 108.5h0M177.4 109.3h0M163.5 118.1h0M159.5 90.8h0M171.0 93.5h0M149.0 103.1h0M185.2 98.2h0M166.3 89.7h0M170.4 74.9h0M144.4 106.2h0M139.8 103.3h0M134.9 106.5h0M133.4 105.0h0M172.8 112.6h0M158.5 89.8h0M172.2 96.8h0M170.5 83.7h0M165.1 120.0h0M185.8 100.0h0M159.5 90.4h0M131.4 122.5h0M159.3 122.0h0M146.6 89.9h0M158.9 114.0h0M163.4 115.4h0M178.7 110.1h0M143.0 107.9h0M173.6 112.8h0M159.5 94.4h0M175.2 83.1h0M179.0 87.8h0M160.3 93.0h0M145.0 97.3h0M175.6 109.6h0M172.3 109.7h0M170.0 105.0h0M168.5 114.7h0M169.6 108.9h0M167.1 84.0h0M165.8 116.4h0M171.9 85.0h0M173.1 87.5h0M168.9 89.1h0M172.6 106.7h0M168.6 107.1h0M172.2 77.8h0M168.6 102.4h0M146.5 112.7h0M171.2 87.5h0M161.8 100.3h0M164.3 115.0h0M132.6 108.5h0M160.9 99.5h0M147.9 87.5h0M174.9 93.1h0M182.9 98.4h0M164.8 98.6h0M140.1 101.9h0M158.5 113.1h0M153.5 114.0h0M161.5 89.0h0M148.9 96.0h0M171.8 110.9h0M168.6 121.0h0M171.2 115.8h0M147.4 90.3h0M172.7 102.1h0M171.5 116.5h0M130.4 122.6h0M159.1 121.8h0M167.9 119.0h0M160.4 107.5h0M167.4 112.6h0M141.9 107.8h0M153.3 93.7h0M167.6 112.6h0M138.1 110.0h0M143.8 96.8h0M170.6 86.4h0M170.3 110.0h0M157.7 90.9h0M162.5 100.2h0M141.1 104.2h0M133.3 125.5h0M139.9 107.7h0M171.6 109.2h0M160.6 104.2h0M166.4 86.3h0M173.9 112.7h0M141.7 103.2h0M173.7 90.8h0M165.4 120.9h0M163.5 92.3h0M146.6 103.8h0M131.4 125.9h0M174.0 112.5h0M134.0 126.9h0M163.0 106.5h0M172.0 115.6h0M175.4 103.9h0M168.9 114.1h0M135.2 101.8h0" stroke="#25A862" stroke-width="1.9" stroke-linecap="round" fill="none"/>
<path d="M148.9 139.6h0M137.1 146.1h0M156.8 140.1h0M140.2 146.3h0M139.3 145.4h0M146.2 135.5h0M136.3 145.1h0M134.4 140.5h0M135.6 144.5h0M151.9 143.0h0M142.7 145.3h0M147.3 130.4h0M146.2 128.2h0M143.0 145.8h0M139.1 146.9h0M146.6 122.3h0M148.7 143.9h0M140.7 145.4h0M153.3 140.2h0M145.4 142.4h0M146.4 133.2h0M149.9 123.6h0M157.6 136.1h0M134.3 140.3h0M156.8 135.0h0M132.8 131.8h0M146.7 137.8h0M154.5 131.3h0M144.5 140.6h0M146.2 126.9h0M132.8 136.3h0M156.5 141.1h0M145.9 135.0h0M146.6 125.2h0M152.1 140.9h0M148.9 136.9h0M154.3 135.4h0M145.7 125.2h0M135.3 139.6h0M144.7 139.0h0M148.8 139.2h0M145.9 144.0h0M145.8 146.9h0M135.6 143.4h0M151.1 129.4h0M133.5 136.9h0M154.8 139.9h0M153.5 136.3h0M148.2 128.2h0M152.5 137.8h0M151.9 136.3h0M152.1 138.5h0M153.1 134.4h0M144.5 140.5h0M149.3 126.6h0M155.9 129.9h0M147.2 146.6h0M151.1 139.0h0M145.8 139.2h0M149.4 137.8h0M142.4 143.2h0M141.2 130.4h0M157.2 132.8h0M138.5 146.7h0M154.1 139.3h0M152.5 137.5h0M142.0 146.3h0M146.9 129.1h0M151.2 129.7h0M141.7 138.3h0M146.2 143.3h0M150.1 132.3h0M138.9 145.2h0M145.2 141.3h0M139.0 144.6h0M154.7 131.3h0M139.0 146.0h0M134.3 136.5h0M148.9 128.1h0M137.6 146.2h0M155.5 138.9h0M148.7 136.7h0M146.5 133.1h0M149.0 124.4h0M137.7 141.8h0M151.4 131.5h0M146.5 121.6h0M137.0 146.0h0M155.2 135.5h0M146.1 135.8h0M149.7 141.3h0M149.2 126.8h0M144.7 136.9h0M142.4 144.9h0M134.4 140.3h0M145.0 130.5h0M151.6 141.1h0M154.7 141.0h0M144.8 136.8h0M153.2 126.8h0M150.4 136.3h0M145.2 145.8h0M137.2 146.1h0M138.9 147.2h0M150.6 134.5h0M158.3 137.3h0M144.4 137.3h0M152.4 132.8h0M149.1 134.5h0M140.1 141.8h0M155.9 137.4h0M134.3 128.8h0M151.7 142.3h0M132.8 132.9h0M133.3 141.9h0M135.9 141.0h0M138.1 142.5h0M150.7 135.9h0M138.1 148.0h0M140.0 144.2h0M152.2 138.3h0M148.5 127.1h0M147.9 134.0h0M143.8 123.1h0M152.0 141.5h0M148.6 130.0h0M157.7 138.3h0M152.1 127.0h0M152.4 138.4h0M150.1 124.9h0M139.2 145.7h0M154.1 130.6h0M135.7 140.8h0M147.1 126.1h0M146.7 135.4h0M135.8 137.8h0M134.0 133.4h0M143.6 147.7h0" stroke="#86B01F" stroke-width="1.9" stroke-linecap="round" fill="none"/>
<path d="M180.3 154.7h0M180.0 144.5h0M180.4 147.7h0" stroke="#CE9512" stroke-width="1.9" stroke-linecap="round" fill="none"/>
<path d="M193.6 148.5h0M194.4 123.3h0M186.7 127.4h0M195.1 112.5h0M196.9 138.7h0M207.7 123.9h0M200.8 150.7h0M195.3 143.6h0M198.5 137.7h0M204.1 121.5h0M171.4 121.6h0M207.9 128.9h0M198.4 139.7h0M189.4 113.6h0M176.4 137.2h0M182.2 122.0h0M202.1 141.7h0M207.4 132.8h0M191.3 115.0h0M205.1 131.1h0M198.9 138.9h0M178.6 115.3h0M196.3 113.4h0M182.4 124.7h0M197.8 122.9h0M175.7 130.7h0M189.3 138.6h0M176.1 127.9h0M172.9 129.8h0M173.6 135.4h0M179.6 119.2h0M183.8 118.1h0M195.2 113.4h0M188.6 121.4h0M164.4 138.6h0M198.2 127.1h0M186.6 138.4h0M196.6 149.9h0M176.7 126.8h0M184.8 119.7h0M183.1 131.2h0M191.3 122.7h0M178.3 126.2h0M181.7 123.0h0M194.8 136.2h0M186.8 131.5h0M188.1 132.0h0M192.1 111.7h0M177.4 132.8h0M184.6 132.2h0M176.3 122.6h0M180.9 128.3h0M168.1 126.6h0M200.1 112.1h0M181.0 139.1h0M192.6 151.7h0M202.3 122.2h0M173.3 126.1h0M178.7 112.5h0M188.7 145.8h0M199.9 111.9h0M198.1 111.8h0M184.5 122.6h0M193.0 123.5h0M197.8 150.2h0M187.6 131.3h0M188.2 118.3h0M207.3 128.7h0M207.0 138.9h0M181.1 139.1h0M200.2 147.2h0M187.6 116.2h0M194.7 139.7h0M181.2 118.2h0M183.5 125.3h0M191.2 135.8h0M182.6 128.1h0M191.8 116.1h0M182.5 117.5h0M191.2 119.0h0M179.5 132.5h0M196.9 122.2h0M200.1 112.2h0M189.5 150.0h0M183.8 128.9h0M175.4 141.7h0M194.8 128.0h0M185.7 135.1h0M200.8 141.8h0M204.1 144.6h0M191.4 118.4h0M192.9 121.5h0M195.1 117.8h0M180.6 117.3h0M188.6 130.1h0M197.6 150.7h0M197.4 137.1h0M173.3 135.4h0M200.6 118.1h0M185.8 112.3h0M200.9 134.8h0M178.6 108.0h0M179.4 130.8h0M177.1 116.3h0M186.0 139.7h0M180.9 131.4h0M194.3 140.9h0M189.2 110.1h0M199.1 131.7h0M179.8 123.0h0M176.2 140.9h0M173.0 135.6h0M181.2 138.7h0M187.5 132.3h0M196.5 119.5h0M202.5 137.6h0M203.6 133.1h0M193.4 116.9h0M190.3 113.6h0M182.3 129.2h0M195.5 141.8h0M180.0 110.9h0M184.4 110.9h0M192.7 127.4h0M198.6 114.8h0M172.2 124.6h0M190.5 122.6h0M170.8 121.2h0M182.8 151.5h0M190.8 136.2h0M174.1 124.8h0M177.8 134.7h0M203.5 127.6h0M198.6 127.6h0M179.6 139.0h0M205.4 136.9h0M185.9 129.0h0M200.6 116.4h0M181.2 115.8h0M196.0 122.6h0M204.1 118.4h0M184.3 137.5h0M189.8 131.2h0M176.8 145.3h0M196.6 142.9h0M197.4 108.1h0M186.2 112.6h0M189.4 121.1h0M192.8 141.4h0M182.8 144.4h0M182.4 121.9h0M185.5 119.7h0M186.3 129.9h0M185.3 119.1h0M194.3 114.0h0M172.7 124.4h0M177.3 134.4h0M179.5 124.9h0M194.1 126.7h0M176.2 117.3h0M177.5 121.0h0M199.3 124.5h0M185.9 118.0h0M180.7 140.9h0M195.4 139.1h0M207.4 132.8h0M185.7 113.2h0M200.3 129.9h0M184.9 146.3h0M180.9 115.4h0M206.9 129.8h0M202.0 134.8h0M180.5 117.4h0M182.3 127.8h0M203.3 140.3h0M189.9 106.9h0M188.9 121.7h0M186.3 120.5h0M191.2 115.1h0M186.2 141.6h0M189.9 148.8h0M190.4 120.9h0M179.0 117.8h0M177.9 134.5h0M194.9 129.4h0M201.2 121.7h0M179.1 132.5h0M202.4 143.3h0M192.0 115.7h0M174.0 125.9h0M182.4 140.5h0M172.9 121.4h0M193.1 141.2h0M179.0 125.6h0M180.2 134.7h0M172.6 125.4h0M178.0 112.4h0M196.4 111.6h0M176.9 130.0h0M185.9 119.5h0M172.8 138.6h0M191.2 119.8h0M181.6 142.0h0M194.0 145.3h0M172.0 130.4h0M191.1 107.4h0M195.8 151.4h0M196.7 115.2h0M192.3 109.9h0M176.9 118.9h0M201.7 138.7h0M198.4 114.8h0M181.0 139.4h0M173.4 130.1h0M189.9 121.7h0M190.7 135.1h0M183.6 118.7h0M192.6 115.2h0M196.4 113.9h0M170.4 127.2h0M193.8 122.8h0M206.7 127.4h0M188.6 135.2h0M189.7 148.4h0M175.7 147.0h0M198.1 119.9h0M202.5 122.3h0M192.6 116.8h0M170.0 127.3h0M183.0 114.7h0M189.6 139.7h0M184.4 134.9h0M189.5 124.8h0M186.1 113.6h0M188.1 107.8h0M171.6 123.2h0M187.9 112.4h0M193.9 147.3h0M201.8 123.0h0M179.1 127.8h0M183.3 132.6h0M177.2 117.4h0M170.2 124.8h0M206.1 131.2h0M184.5 111.2h0M184.3 114.7h0M170.4 132.3h0M194.8 107.1h0M199.6 123.5h0M196.7 124.1h0M177.0 146.4h0M198.6 130.0h0M199.4 127.2h0M199.7 144.9h0M197.1 144.4h0M195.1 117.8h0M173.1 116.0h0M196.4 115.7h0M177.6 116.2h0M185.9 135.6h0M204.3 130.0h0M185.7 135.1h0M204.7 144.4h0M200.5 146.4h0M202.7 123.6h0M195.5 115.7h0M197.1 141.3h0M197.8 114.4h0M191.8 120.9h0M201.8 137.1h0M184.1 149.8h0M185.0 146.3h0M197.0 141.9h0M174.4 132.1h0M188.4 121.3h0M188.8 115.7h0M206.7 141.9h0M188.8 129.4h0M194.4 128.4h0M197.7 131.2h0M186.8 109.0h0M207.9 142.7h0M186.5 121.2h0M197.3 131.9h0M188.9 115.4h0M189.9 105.2h0M191.5 123.7h0M195.1 144.5h0M169.0 138.7h0M203.0 130.6h0M203.5 131.6h0M174.7 119.6h0M189.5 128.3h0M191.5 133.3h0M201.0 132.2h0M189.1 145.1h0M198.6 118.9h0M177.7 147.0h0M199.0 144.8h0M205.5 122.2h0M199.1 115.8h0M163.5 135.7h0M202.7 117.0h0M178.5 134.3h0M177.3 135.9h0M181.7 125.2h0M182.3 130.8h0M198.2 146.5h0M181.2 109.0h0M179.8 139.0h0M182.2 122.9h0M178.5 129.0h0M193.0 110.4h0M210.1 128.3h0M198.2 142.5h0M192.9 126.9h0M174.2 116.5h0M196.1 145.3h0M202.3 117.6h0M188.2 107.8h0M179.0 128.9h0M206.2 146.1h0M169.3 130.3h0M179.1 123.1h0M187.5 130.6h0M184.2 125.2h0M187.2 112.0h0M203.7 129.9h0M183.3 146.1h0M197.7 136.0h0M193.7 136.9h0M196.3 136.5h0M194.9 124.7h0M191.7 146.6h0M184.8 108.5h0M181.4 125.0h0M174.1 122.9h0M179.8 122.2h0M184.2 133.5h0M203.5 148.1h0M186.2 142.1h0M191.9 130.0h0M208.8 127.1h0M200.9 140.1h0M175.1 128.3h0M205.3 126.5h0M198.3 148.1h0M178.8 115.0h0M192.1 141.2h0M187.7 126.5h0M204.2 146.4h0M206.6 130.1h0M204.7 126.4h0M204.4 145.2h0M198.3 115.5h0M181.0 126.5h0M174.5 137.4h0M181.7 112.0h0M199.5 114.8h0M190.2 117.4h0M196.3 147.6h0M180.4 126.9h0M201.2 145.6h0M198.7 146.3h0M180.5 119.5h0M193.0 121.3h0M172.9 120.2h0M192.4 108.1h0M172.2 123.7h0M190.1 129.9h0M179.9 138.3h0M187.5 138.6h0M200.2 146.8h0M197.1 140.0h0M207.3 137.3h0M172.6 127.8h0M187.6 143.8h0M183.7 128.9h0M188.5 126.5h0M186.0 146.4h0M191.0 135.4h0M179.5 141.1h0M172.5 127.6h0M208.2 144.1h0M188.0 148.2h0M208.3 132.7h0M196.5 137.3h0M183.1 112.6h0M188.0 111.9h0M175.5 138.0h0M176.2 118.9h0M190.1 148.5h0M190.8 150.8h0M173.4 135.1h0M184.4 138.2h0M175.5 133.2h0M174.3 139.4h0M196.2 123.7h0M204.4 142.1h0M183.2 140.3h0M201.9 140.3h0M172.0 133.9h0M185.2 116.2h0M185.6 142.8h0M190.9 117.9h0M193.1 136.2h0M178.0 112.7h0M194.4 147.6h0M194.3 130.7h0M199.9 131.2h0M195.2 137.0h0M184.6 117.9h0M189.1 129.0h0M174.4 136.3h0M183.5 118.0h0M203.4 119.3h0M194.0 137.3h0M192.0 150.5h0M197.3 138.9h0M197.0 125.8h0M191.9 132.2h0M195.4 152.1h0M191.5 121.8h0M181.0 137.2h0M195.6 112.5h0M179.8 107.1h0M195.3 114.6h0M193.8 117.7h0M204.6 146.6h0M200.9 127.6h0M178.5 126.9h0M174.2 137.8h0M202.9 145.9h0M201.1 128.4h0M191.4 108.9h0M203.9 136.8h0M188.6 144.4h0M179.8 128.2h0M188.3 117.3h0M176.5 140.5h0M171.4 125.4h0M191.5 108.6h0M186.7 138.7h0M183.2 112.4h0M207.0 136.8h0M200.4 113.5h0M188.4 106.0h0M195.6 143.7h0M199.2 145.9h0M177.4 132.6h0M182.0 141.3h0M175.2 138.2h0M179.0 110.0h0M206.5 132.8h0M181.9 107.0h0M192.6 116.5h0M183.4 145.5h0M182.9 127.7h0M182.0 108.2h0M180.0 133.8h0M195.4 136.9h0M200.8 141.1h0M183.1 120.4h0M204.4 138.6h0M201.2 135.4h0M204.7 117.7h0M162.1 135.3h0M190.2 147.4h0M177.9 134.8h0M206.8 130.2h0M183.6 160.0h0M189.0 134.7h0M197.1 141.5h0M208.1 133.0h0M173.8 117.8h0M192.4 115.9h0M198.6 119.2h0M186.9 127.9h0M181.8 141.9h0M202.8 131.0h0M170.8 121.2h0M191.5 110.7h0M206.1 133.8h0M181.6 131.7h0M194.0 150.1h0M187.4 121.5h0M178.2 129.7h0M187.8 151.2h0M192.0 119.9h0M199.0 126.6h0M190.1 113.6h0M198.2 121.4h0M172.1 119.8h0M210.4 127.4h0M177.6 117.5h0M192.3 113.2h0M204.3 144.8h0M178.9 127.4h0M188.3 121.1h0M207.4 133.0h0M173.1 134.7h0M171.1 130.3h0M186.6 123.2h0M197.4 114.4h0M171.2 132.9h0M197.9 129.0h0M189.0 106.2h0M169.9 122.4h0M184.4 107.1h0M201.2 122.1h0M183.2 135.3h0M197.7 145.9h0M197.7 129.5h0M178.3 141.1h0M200.1 142.1h0M167.7 139.4h0M184.4 127.0h0M199.7 119.6h0M185.5 127.2h0M189.8 114.1h0M201.0 119.5h0M190.9 128.2h0M201.9 117.2h0M177.8 134.2h0M199.0 134.7h0M189.1 108.3h0M203.2 123.6h0M192.9 125.7h0M189.6 131.4h0M202.9 119.5h0M181.1 122.3h0M187.9 128.4h0M184.5 110.0h0M209.0 136.4h0M194.8 148.4h0M186.3 131.5h0M206.5 135.1h0M188.6 112.3h0M182.0 143.7h0M202.1 137.6h0M174.4 128.2h0" stroke="#F0736B" stroke-width="1.9" stroke-linecap="round" fill="none"/>
<path d="M205.3 150.5h0M207.4 147.1h0M205.2 151.0h0M206.2 148.9h0M206.2 149.0h0M205.5 151.9h0M207.7 147.0h0M206.3 147.2h0M207.4 145.9h0M207.5 147.3h0" stroke="#17979B" stroke-width="1.9" stroke-linecap="round" fill="none"/>
<path d="M158.9 72.1h0M151.2 73.8h0M150.4 74.0h0M170.8 71.4h0M154.0 75.4h0M158.9 70.1h0M170.7 68.4h0M156.5 73.4h0M158.9 70.9h0M160.2 70.3h0M153.8 74.7h0M151.6 74.0h0M163.2 68.3h0M158.6 71.4h0M169.4 68.2h0M161.7 68.2h0M152.9 77.2h0M154.9 76.0h0M160.4 69.7h0M169.6 69.3h0M159.8 69.6h0M154.6 74.7h0M169.6 69.5h0M147.4 71.7h0M170.3 69.9h0M154.5 75.8h0M166.1 70.3h0M153.9 76.7h0M160.6 69.5h0" stroke="#A36CB6" stroke-width="2.1" stroke-linecap="round" fill="none"/>
<path d="M183.5 48.0h0M155.0 81.1h0M181.5 53.5h0" stroke="#D04C98" stroke-width="2.3" stroke-linecap="round" fill="none"/>
<path d="M241.3 128.1h0M238.8 132.5h0M251.3 129.1h0M237.9 132.4h0M252.7 133.5h0M251.5 125.1h0M243.8 133.9h0M278.6 133.0h0M272.6 131.6h0M254.2 130.5h0M257.4 127.2h0M243.3 132.4h0M235.9 134.4h0M237.8 133.0h0M261.5 125.4h0M273.8 133.1h0M257.0 127.9h0M248.2 135.2h0M234.0 135.1h0M240.1 133.3h0M270.1 132.2h0M273.2 132.4h0M243.1 133.5h0M240.6 130.9h0M243.1 134.2h0M261.8 131.8h0M240.7 134.1h0M244.2 133.3h0M249.7 127.9h0M257.4 132.7h0M264.5 132.4h0M245.5 135.5h0M276.5 132.8h0M274.4 131.2h0M271.5 131.2h0M239.4 128.9h0M239.2 128.0h0M229.7 137.0h0M278.6 132.9h0M249.7 135.4h0M259.5 132.7h0M272.1 130.4h0M254.3 125.5h0M233.8 134.0h0M276.7 132.5h0" stroke="#3C9BD9" stroke-width="1.9" stroke-linecap="round" fill="none"/>
<path d="M318.8 122.9h0M320.4 129.5h0M353.4 100.3h0M323.7 108.4h0M313.2 120.0h0M356.4 97.9h0M351.9 100.9h0M344.3 94.7h0M320.7 120.5h0M349.5 100.8h0M360.8 108.7h0M349.6 96.1h0M344.9 99.7h0M323.5 122.7h0M323.3 112.8h0M345.6 95.5h0M313.3 111.0h0M325.5 102.1h0M359.0 112.7h0M323.4 117.2h0M316.5 125.4h0M362.8 109.1h0M313.2 124.0h0M345.6 103.8h0M321.0 106.9h0M317.0 103.6h0M364.2 113.1h0M316.4 115.5h0M320.8 107.4h0M346.6 95.7h0M322.7 118.8h0M357.4 103.3h0M317.0 115.3h0M352.6 97.1h0M320.4 118.3h0M363.0 115.4h0M325.6 105.5h0M355.5 100.5h0M356.5 104.8h0M362.0 113.4h0M321.5 122.8h0M352.7 95.5h0M360.7 116.7h0M311.7 117.9h0M320.0 129.8h0M364.9 117.0h0M352.4 97.8h0M324.1 111.8h0M320.5 105.3h0M317.1 115.2h0M331.4 106.3h0M323.1 135.8h0M360.5 110.5h0M312.9 115.2h0M313.7 106.7h0M321.2 113.2h0M312.3 117.9h0M313.9 103.4h0M317.4 113.8h0M314.5 125.3h0M315.5 116.7h0M315.0 123.4h0M312.5 114.4h0M316.8 124.2h0M317.8 119.4h0M318.1 120.2h0M328.5 100.6h0M332.2 105.5h0M326.0 129.6h0M322.8 113.8h0M327.5 96.9h0M360.8 102.9h0M356.8 104.6h0" stroke="#27B6BE" stroke-width="1.9" stroke-linecap="round" fill="none"/>
<path d="M300.3 113.6h0M336.2 99.1h0M324.0 114.7h0M341.6 106.8h0M303.0 96.4h0M301.6 109.8h0M320.5 103.8h0M301.2 112.4h0M301.6 112.1h0M336.6 105.0h0M301.7 94.3h0M304.7 102.3h0M333.0 88.8h0M299.4 101.0h0M327.5 99.3h0M322.7 107.7h0M295.0 80.7h0M332.2 116.7h0M335.4 98.9h0M339.8 100.4h0M298.0 112.2h0M306.6 92.9h0M334.2 107.1h0M293.6 122.2h0M321.0 96.3h0M303.6 109.0h0M294.3 124.6h0M331.0 101.8h0M302.6 112.9h0M304.6 105.5h0M302.0 91.8h0M336.1 98.6h0M333.2 106.4h0M327.1 112.5h0M290.3 120.4h0M324.7 119.6h0M294.8 122.5h0M322.6 98.6h0M326.8 104.8h0M304.5 90.8h0M330.1 108.9h0M300.6 117.4h0M295.9 107.9h0M295.2 132.0h0M290.0 124.5h0M319.9 104.9h0M294.7 110.5h0M330.6 110.4h0M321.1 89.9h0M308.4 91.4h0M293.0 109.6h0M332.8 102.6h0M322.4 110.6h0M325.5 92.7h0M290.3 128.1h0M331.9 95.5h0M320.2 104.9h0M294.7 94.8h0M292.5 123.4h0M311.3 93.8h0M315.8 86.9h0M319.6 85.3h0M295.9 106.8h0M332.5 100.9h0M331.7 94.5h0M300.3 109.6h0M309.3 117.8h0M322.8 88.9h0M300.5 97.3h0M323.2 106.5h0M326.6 106.0h0M328.7 118.4h0M311.5 91.9h0M311.7 92.2h0M297.8 100.5h0M316.6 98.3h0M328.1 116.5h0M307.5 99.4h0M329.2 110.8h0M326.2 123.2h0M327.4 110.4h0M298.7 91.6h0M320.0 85.1h0M335.2 97.1h0M299.5 93.0h0M292.3 109.4h0M332.2 107.4h0M338.2 102.3h0M290.4 122.4h0M309.5 96.8h0M317.7 98.3h0M306.7 96.4h0M305.0 107.3h0M304.2 97.1h0M328.5 113.1h0M323.7 85.9h0M288.5 129.8h0M321.6 93.0h0M323.8 122.6h0M298.1 100.8h0M294.6 115.2h0M307.3 91.8h0M298.1 112.3h0M302.7 95.7h0M296.7 118.7h0M325.8 95.0h0M317.6 93.3h0M339.5 100.2h0M315.5 95.7h0M321.9 95.5h0M319.6 117.4h0M290.8 118.7h0M322.2 119.2h0M334.7 98.3h0M338.2 101.8h0M304.2 98.5h0M331.0 87.8h0M325.4 102.2h0M325.5 113.7h0M326.3 78.8h0M327.9 112.6h0M332.9 113.5h0M316.6 99.5h0M297.3 100.3h0M324.4 101.0h0M323.5 104.1h0M320.4 104.2h0M315.7 90.5h0M288.9 120.5h0M320.5 99.4h0M325.7 87.8h0M293.4 122.0h0M327.0 75.3h0M296.9 95.8h0M306.2 101.8h0M305.1 101.9h0M326.1 117.1h0M327.5 115.3h0M328.4 111.8h0M300.1 97.5h0M297.4 110.1h0M300.8 107.3h0M339.1 100.9h0M323.8 98.4h0M330.0 100.6h0M301.3 110.5h0M323.2 114.3h0M290.9 120.3h0M328.2 75.5h0M323.5 88.6h0M300.9 114.5h0M322.3 92.5h0M325.8 116.9h0M302.1 94.2h0M298.2 110.5h0M328.0 116.4h0M342.1 98.9h0M300.8 111.9h0M307.0 93.2h0M325.5 112.4h0M323.6 111.6h0M319.4 99.2h0M325.9 117.0h0M314.2 97.0h0M332.0 87.5h0M307.5 94.1h0M304.7 102.0h0M329.9 98.6h0M340.5 98.0h0M312.7 89.4h0M324.0 84.6h0M324.5 119.2h0M289.1 118.8h0M326.4 112.3h0M325.1 118.3h0M315.6 99.0h0M313.2 108.5h0M297.8 96.2h0M295.5 125.7h0M303.0 112.0h0M320.9 101.7h0M316.8 88.3h0M302.2 102.3h0M325.4 115.7h0M320.2 103.0h0M298.0 93.5h0M330.0 81.9h0M326.4 115.9h0M304.8 106.2h0M333.9 90.3h0M316.7 95.9h0M322.8 105.2h0M298.6 116.8h0M305.3 103.8h0M318.7 100.6h0M322.3 100.4h0M320.4 117.0h0M293.2 125.3h0M336.8 97.8h0" stroke="#25A862" stroke-width="1.9" stroke-linecap="round" fill="none"/>
<path d="M302.6 147.4h0M304.7 140.7h0M305.9 127.2h0M307.8 138.1h0M298.1 141.4h0M298.4 142.9h0M299.8 138.1h0M313.3 146.2h0M297.1 125.8h0M305.1 153.9h0M291.7 137.9h0M306.9 127.9h0M303.5 133.0h0M304.8 142.4h0M311.0 136.7h0M302.6 131.1h0M313.2 147.4h0M304.4 148.0h0M307.4 131.6h0M308.0 146.7h0M300.8 146.7h0M313.1 141.8h0M296.4 143.5h0M293.7 132.4h0M311.8 138.9h0M300.9 126.2h0M307.1 143.8h0M302.8 141.5h0M299.2 143.9h0M308.6 151.0h0M301.2 151.1h0M300.7 146.1h0M295.9 149.4h0M305.1 134.7h0M309.0 136.0h0M298.7 136.7h0M293.9 138.6h0M299.8 148.6h0M297.7 141.0h0M300.0 139.2h0M310.8 150.1h0M301.5 148.1h0M299.4 149.9h0M303.7 132.3h0M304.2 129.0h0M311.8 141.9h0M309.5 149.7h0M310.4 146.6h0M305.4 129.0h0M304.4 141.5h0M305.1 135.0h0M310.0 143.4h0M312.4 146.6h0M307.4 141.3h0M291.7 134.3h0M306.3 131.9h0M316.7 146.5h0M314.3 146.8h0M312.2 143.3h0M290.6 135.3h0M313.5 138.0h0M295.4 138.0h0M315.4 141.9h0M305.9 141.6h0M307.6 130.4h0M308.5 138.3h0M303.3 149.9h0M314.0 145.7h0M307.1 129.6h0M309.1 133.8h0M293.1 138.2h0M315.4 145.4h0M308.6 131.0h0M302.6 143.5h0M300.2 149.8h0M295.8 148.5h0M301.0 137.8h0M309.3 140.5h0M299.7 140.1h0M296.8 140.8h0M306.8 140.3h0M302.8 132.5h0M302.4 138.3h0M305.7 145.0h0M302.1 143.8h0M304.4 142.1h0M314.0 144.1h0M309.8 138.4h0M303.7 151.6h0M301.8 135.3h0M308.6 150.9h0M314.1 146.9h0M299.1 139.6h0M304.6 151.1h0M295.6 137.8h0M307.6 152.1h0M307.9 132.4h0M301.9 139.9h0M306.7 147.1h0M306.4 139.6h0M311.6 143.8h0M300.3 135.6h0M310.0 135.1h0M301.8 127.6h0M298.5 134.1h0M299.8 135.7h0M305.8 145.5h0M300.0 142.2h0M297.2 137.7h0M308.8 145.2h0M297.0 141.2h0M306.6 141.5h0M310.4 145.9h0M312.9 139.8h0M303.7 146.5h0M308.8 140.4h0" stroke="#86B01F" stroke-width="1.9" stroke-linecap="round" fill="none"/>
<path d="M336.0 151.9h0M318.7 146.7h0M335.3 156.7h0M329.0 147.4h0M341.6 152.3h0M328.5 156.0h0M337.3 163.0h0M322.7 148.9h0M329.5 155.5h0M341.7 151.2h0M329.1 140.6h0M352.5 155.2h0M340.3 148.7h0M327.4 154.3h0M331.3 160.4h0M323.3 146.6h0M334.1 155.2h0M323.6 148.7h0M355.5 156.1h0M326.6 156.0h0M342.9 155.9h0M334.3 151.3h0M347.8 156.3h0M350.2 157.4h0M333.0 153.0h0M328.2 158.2h0M333.6 148.7h0M331.8 155.8h0M355.5 155.8h0M339.4 159.9h0M338.3 154.2h0M332.5 155.3h0M322.8 150.2h0M324.2 142.7h0M333.9 145.9h0M342.9 159.3h0M349.7 153.7h0M329.7 160.7h0M337.8 161.7h0M338.6 163.7h0M328.7 143.9h0M324.0 157.1h0M340.3 152.1h0M347.7 157.9h0M343.3 157.3h0M316.2 150.4h0M339.0 151.4h0M330.2 154.6h0M331.5 149.8h0M346.6 161.1h0M323.1 156.1h0M321.2 151.6h0M353.9 158.2h0M350.0 154.8h0M329.9 152.6h0M324.7 141.1h0M352.1 153.3h0M329.6 138.9h0M319.1 150.5h0M333.6 148.9h0M355.1 157.2h0M329.5 153.8h0M317.0 142.1h0M343.7 157.8h0M323.0 150.7h0M348.4 150.3h0M342.6 156.6h0M334.3 157.0h0M330.5 148.3h0M321.5 151.0h0M317.1 142.8h0M333.5 155.3h0M316.9 142.6h0M326.6 154.9h0M343.2 159.9h0M315.1 144.9h0M330.1 151.1h0M322.6 150.1h0M322.2 149.2h0M327.5 147.1h0M327.1 158.2h0M323.1 154.8h0M318.4 146.8h0M326.9 142.6h0M340.5 152.3h0M341.3 151.2h0M316.7 148.4h0M347.2 158.1h0M324.8 154.6h0M335.6 155.7h0M345.0 157.8h0M331.9 151.5h0M348.7 158.3h0M318.1 145.3h0M353.9 156.7h0M313.2 141.8h0M350.0 153.4h0M329.6 152.2h0M326.2 153.6h0M318.3 139.4h0M343.4 160.4h0M333.3 150.5h0M336.5 150.7h0M326.4 152.8h0M330.1 143.2h0M329.5 140.5h0M325.2 144.6h0M338.1 152.9h0M339.7 160.0h0M321.5 155.1h0M336.9 163.2h0M330.5 156.2h0M326.9 145.3h0M337.6 160.7h0M328.0 145.9h0M331.3 155.8h0M322.9 144.7h0M323.2 151.8h0M328.7 154.4h0M321.4 156.2h0M340.0 151.4h0M325.9 152.4h0M326.5 158.8h0M320.0 143.3h0M338.2 162.3h0M322.5 152.3h0M334.8 154.4h0M340.8 157.2h0M327.8 152.4h0M335.8 164.0h0M318.4 142.7h0M329.1 152.2h0M339.1 153.8h0M330.6 154.1h0M332.0 154.2h0M340.5 160.3h0M335.1 142.8h0M339.9 163.2h0M352.0 154.2h0M343.2 153.8h0M318.7 151.0h0M347.8 154.5h0M349.5 156.4h0M348.8 159.0h0M342.5 152.2h0M342.0 156.2h0M323.1 141.4h0M351.5 153.9h0M336.1 156.7h0M331.7 155.6h0M346.9 160.8h0M353.1 157.4h0M324.0 156.9h0M329.7 153.7h0M335.8 146.6h0M347.0 155.4h0M342.5 155.1h0M326.8 143.1h0M316.4 147.3h0M354.5 153.8h0M333.8 158.9h0M342.2 160.6h0M333.3 154.0h0M331.8 147.8h0M351.3 158.3h0M341.5 156.4h0M340.7 154.0h0M332.0 158.7h0M328.4 149.7h0M325.1 141.8h0M338.7 162.5h0M331.4 151.2h0M332.5 156.9h0M340.1 156.9h0M349.1 155.1h0M329.1 146.7h0M317.8 149.4h0M341.3 157.3h0M324.6 145.7h0M338.6 147.1h0M339.2 159.3h0M327.8 150.2h0M339.4 164.1h0M336.7 151.1h0M325.9 154.3h0M335.8 149.5h0M353.3 156.3h0M337.6 164.8h0M331.7 161.3h0M342.0 154.9h0M347.7 157.9h0M337.6 149.3h0M340.0 161.8h0M347.3 158.7h0M326.7 147.5h0M325.6 155.0h0M335.0 161.7h0M352.3 158.7h0M329.6 158.1h0M345.6 161.7h0M331.6 149.8h0M318.3 141.0h0M326.2 141.3h0M323.6 141.6h0M326.5 153.5h0M336.3 148.7h0M335.9 160.1h0M322.4 138.9h0M333.5 145.3h0M334.0 153.7h0M332.3 154.6h0M340.9 156.1h0M315.9 147.3h0M331.1 145.5h0" stroke="#CE9512" stroke-width="1.9" stroke-linecap="round" fill="none"/>
<path d="M331.0 124.0h0M344.0 143.1h0M346.0 135.0h0M342.5 150.2h0M355.9 123.2h0M326.4 129.4h0M334.7 129.0h0M354.0 147.1h0M340.1 131.0h0M357.5 150.9h0M353.8 147.1h0M354.3 121.2h0M329.8 133.0h0M336.2 122.5h0M332.3 120.0h0M330.1 119.3h0M336.2 119.0h0M363.8 137.5h0M345.7 146.0h0M341.3 105.8h0M360.6 118.1h0M358.7 141.6h0M340.8 130.6h0M347.2 129.3h0M346.4 131.2h0M347.6 120.9h0M338.3 144.5h0M355.2 125.9h0M359.6 139.1h0M358.5 126.7h0M343.7 139.3h0M357.0 124.1h0M362.5 135.1h0M344.6 129.3h0M352.6 118.5h0M350.2 149.8h0M349.4 123.1h0M348.9 119.9h0M346.3 152.3h0M342.6 128.9h0M341.9 135.2h0M333.7 113.1h0M358.4 133.3h0M345.0 143.3h0M336.4 122.0h0M330.8 134.3h0M329.1 128.4h0M334.4 115.2h0M342.4 130.2h0M351.2 121.1h0M340.7 139.2h0M331.1 141.5h0M335.8 129.7h0M327.1 125.8h0M360.5 142.3h0M348.0 138.1h0M350.6 146.9h0M337.7 149.8h0M325.9 137.2h0M357.1 149.2h0M338.5 142.2h0M352.5 149.0h0M338.7 115.0h0M344.3 145.5h0M325.7 127.1h0M342.5 140.8h0M356.4 138.0h0M328.7 124.6h0M332.5 138.0h0M353.0 143.1h0M333.1 128.6h0M353.4 128.1h0M340.9 129.1h0M334.0 122.6h0M337.5 116.6h0M349.8 145.3h0M338.8 116.1h0M332.0 131.1h0M362.1 131.9h0M334.0 132.8h0M337.4 146.7h0M329.3 136.2h0M357.1 129.8h0M347.1 151.0h0M346.0 123.2h0M358.6 135.9h0M350.2 142.9h0M354.6 147.4h0M347.5 139.1h0M360.7 146.1h0M340.7 142.2h0M326.6 124.7h0M355.0 125.4h0M339.0 140.6h0M350.2 150.2h0M356.0 119.3h0M349.0 131.9h0M325.5 132.2h0M361.5 134.0h0M358.5 145.6h0M347.1 142.2h0M348.5 131.6h0M343.6 119.1h0M342.4 123.8h0M348.1 147.2h0M355.0 121.7h0M353.0 114.8h0M351.2 147.6h0M351.0 142.1h0M356.7 131.3h0M354.9 150.1h0M362.9 141.2h0M343.6 121.1h0M340.5 130.3h0M350.5 145.4h0M334.5 120.0h0M361.2 126.5h0M358.0 124.2h0M340.6 147.5h0M355.3 134.6h0M341.8 134.6h0M360.0 129.3h0M344.6 115.7h0M327.9 127.5h0M331.6 132.0h0M358.5 133.8h0M337.0 126.3h0M344.1 149.3h0M334.1 147.6h0M330.2 130.9h0M340.6 137.0h0M354.7 129.1h0M357.8 147.8h0M335.6 137.7h0M331.6 131.8h0M341.1 147.2h0M330.2 124.7h0M337.7 143.0h0M335.3 136.9h0M349.7 134.0h0M360.8 132.5h0M362.7 137.8h0M355.1 143.2h0M329.9 142.4h0M357.8 148.7h0M335.3 125.5h0M327.3 127.5h0M337.7 121.3h0M340.3 115.0h0M355.3 120.6h0M341.6 113.0h0M352.9 140.4h0M341.9 150.1h0M343.1 124.0h0M337.1 148.2h0M348.0 129.0h0M342.7 112.8h0M356.7 122.5h0M342.0 119.5h0M339.3 117.9h0M348.4 138.4h0M358.0 148.1h0M358.4 141.8h0M349.7 144.1h0M358.2 147.2h0M353.4 135.9h0M339.6 126.5h0M349.8 144.6h0M360.3 128.0h0M342.4 126.9h0M351.4 145.6h0M348.3 132.2h0M349.2 153.7h0M350.3 124.1h0M336.0 123.5h0M340.4 120.6h0M352.2 132.4h0M360.3 134.5h0M331.8 124.3h0M353.6 150.4h0M360.0 143.0h0M348.1 120.2h0M349.0 110.4h0M342.0 152.4h0M338.0 143.0h0M362.4 126.5h0M330.3 132.1h0M363.6 130.2h0M336.8 145.2h0M360.1 142.8h0M353.7 127.0h0M328.7 130.7h0M329.2 136.8h0M337.9 140.4h0M341.8 135.2h0M353.7 152.0h0M342.9 108.3h0M342.8 124.1h0M331.5 144.4h0M336.8 111.4h0M348.8 122.6h0M347.9 137.6h0M346.4 149.6h0M346.1 151.0h0M357.3 143.9h0M343.5 148.7h0M333.1 129.6h0M351.4 130.0h0M350.4 124.9h0M328.2 128.1h0M353.3 138.7h0M351.2 115.6h0M348.9 143.2h0M352.6 135.3h0M353.0 150.1h0M363.7 130.3h0M350.5 135.6h0M357.2 148.0h0M346.9 147.5h0M337.0 133.6h0M332.5 134.1h0M360.9 125.3h0M351.6 113.4h0" stroke="#F0736B" stroke-width="1.9" stroke-linecap="round" fill="none"/>
<path d="M360.1 151.2h0M363.1 150.3h0M363.7 150.2h0M363.0 119.0h0" stroke="#17979B" stroke-width="1.9" stroke-linecap="round" fill="none"/>
<path d="M309.2 75.3h0M326.1 72.7h0M324.1 70.0h0M306.0 73.0h0M326.3 73.9h0M310.6 78.3h0M321.8 68.0h0M305.7 72.0h0M325.5 67.3h0M326.3 67.7h0M309.1 76.9h0M311.3 74.3h0M323.5 67.5h0M322.9 68.7h0M313.3 72.9h0M313.4 73.7h0M315.2 71.9h0M310.2 78.0h0M323.0 69.7h0M324.1 71.5h0M317.0 70.5h0M328.3 69.3h0M315.0 72.7h0M307.2 73.4h0" stroke="#A36CB6" stroke-width="2.1" stroke-linecap="round" fill="none"/>
<path d="M341.1 43.3h0M336.7 51.7h0" stroke="#D04C98" stroke-width="2.3" stroke-linecap="round" fill="none"/>
<path d="M241.3 130.7h0M241.3 131.8h0M242.2 135.3h0M237.1 133.6h0M237.2 133.5h0M230.4 136.5h0M256.9 132.9h0M251.2 133.5h0M230.7 135.5h0M258.8 130.7h0M273.8 132.0h0M242.0 133.0h0M269.6 129.9h0M280.7 134.1h0M234.7 134.2h0M280.0 133.2h0M241.4 131.0h0M239.5 128.6h0M283.8 131.3h0M233.2 135.2h0M249.9 124.9h0M256.5 136.1h0M242.4 131.7h0M247.7 131.1h0M240.1 130.9h0M236.3 133.5h0M230.8 137.4h0M242.3 127.3h0M254.7 130.1h0M275.5 133.6h0M254.8 128.5h0M259.3 132.1h0M258.0 141.0h0M249.0 129.7h0M282.0 131.6h0M241.3 132.9h0M270.2 130.9h0M242.7 134.5h0M270.0 131.4h0M250.2 135.4h0M278.9 135.1h0M249.4 126.9h0M245.5 130.9h0M244.7 130.7h0M265.0 137.0h0" stroke="#3C9BD9" stroke-width="1.9" stroke-linecap="round" fill="none"/>
<path d="M357.0 103.0h0M360.4 113.5h0M360.2 111.9h0M349.5 96.9h0M309.9 119.1h0M325.3 119.7h0M316.2 132.0h0M350.3 94.9h0M315.3 121.5h0M363.1 110.7h0M309.8 105.2h0M310.4 116.4h0M326.6 105.9h0M354.5 100.6h0M322.6 115.0h0M353.3 99.3h0M352.0 107.3h0M317.6 124.7h0M331.9 97.7h0M319.3 126.5h0M320.5 114.1h0M349.4 94.4h0M363.8 114.9h0M360.2 117.2h0M358.5 112.3h0M316.8 111.9h0M311.9 117.7h0M352.5 108.2h0M359.2 106.4h0M314.6 129.0h0M310.3 120.8h0M333.0 102.5h0M358.8 105.2h0M358.6 110.9h0M321.6 117.7h0M363.0 111.0h0M352.9 103.4h0M317.2 123.9h0M347.1 92.6h0M323.2 112.8h0M360.3 107.8h0M324.7 117.1h0M313.9 106.8h0M349.7 95.6h0M320.3 108.8h0M313.2 101.0h0M359.5 100.7h0M353.8 100.9h0M361.0 111.5h0M366.1 115.4h0M329.0 103.1h0M309.4 116.2h0M319.2 114.4h0M362.6 118.9h0M328.3 137.2h0M357.4 107.2h0M324.9 135.7h0M330.9 101.3h0M324.0 110.8h0M314.1 127.1h0M359.6 106.2h0M357.0 99.3h0M319.0 122.1h0M322.8 105.8h0M347.4 98.1h0M319.8 103.8h0M363.9 114.6h0M334.1 105.5h0M314.6 122.0h0M354.7 97.8h0M314.1 108.6h0M358.0 102.3h0M310.8 106.1h0" stroke="#27B6BE" stroke-width="1.9" stroke-linecap="round" fill="none"/>
<path d="M299.0 109.4h0M323.5 116.1h0M327.8 91.1h0M305.4 95.4h0M328.5 107.1h0M304.6 110.9h0M301.7 100.2h0M316.0 90.1h0M301.2 104.6h0M331.5 91.5h0M341.3 98.5h0M308.4 98.8h0M305.0 92.1h0M294.2 102.5h0M311.4 98.5h0M322.5 115.2h0M291.1 115.6h0M304.8 101.5h0M324.4 91.5h0M304.9 99.2h0M328.9 103.0h0M293.4 110.1h0M300.6 96.9h0M340.0 100.6h0M338.7 98.1h0M294.5 111.1h0M300.3 94.8h0M322.5 103.3h0M320.1 90.9h0M291.0 120.4h0M323.8 101.3h0M331.5 111.8h0M310.4 102.2h0M326.9 102.7h0M299.3 102.3h0M309.5 101.0h0M338.9 94.6h0M324.2 100.3h0M301.0 109.9h0M310.3 90.6h0M307.0 102.0h0M296.1 117.8h0M329.0 113.6h0M319.5 103.7h0M289.8 125.7h0M304.8 98.3h0M332.9 99.2h0M311.3 119.9h0M296.1 115.0h0M329.9 91.0h0M330.7 111.6h0M322.2 107.5h0M293.5 80.0h0M331.8 87.5h0M300.7 111.5h0M331.4 101.0h0M323.8 99.2h0M332.6 107.5h0M338.4 101.2h0M322.2 85.0h0M331.1 91.4h0M296.3 105.2h0M291.3 112.2h0M328.0 116.4h0M310.4 93.1h0M290.6 127.4h0M323.5 89.1h0M297.8 99.2h0M327.1 118.9h0M303.5 107.9h0M289.5 125.5h0M310.9 117.0h0M301.8 90.8h0M335.4 97.7h0M312.7 100.2h0M334.9 93.8h0M332.8 101.6h0M322.0 126.0h0M324.6 107.2h0M329.6 107.1h0M309.0 94.6h0M325.2 98.6h0M309.5 91.1h0M299.8 91.0h0M296.7 116.1h0M307.9 99.0h0M322.1 95.6h0M323.5 96.9h0M293.2 128.0h0M291.4 125.1h0M338.4 113.3h0M317.4 95.9h0M325.8 111.2h0M334.5 109.2h0M303.8 91.0h0M336.1 94.2h0M292.5 106.5h0M294.2 114.5h0M295.6 95.1h0M334.8 100.5h0M307.2 99.3h0M296.4 115.0h0M326.5 108.2h0M305.4 92.4h0M326.5 89.6h0M322.3 115.6h0M296.4 119.1h0M320.3 102.9h0M291.3 118.9h0M328.7 119.0h0M301.1 107.5h0M334.8 111.8h0M334.3 100.6h0M322.3 100.4h0M295.1 119.6h0M300.4 97.8h0M303.4 101.9h0M318.5 121.3h0M327.7 112.0h0M321.9 90.3h0M321.8 112.9h0M300.2 99.4h0M319.7 104.6h0M296.3 119.5h0M306.8 106.3h0M313.4 92.5h0M308.8 117.4h0M329.9 77.9h0M305.3 106.8h0M293.8 123.7h0M295.6 100.5h0M316.3 120.5h0M323.9 108.2h0M338.5 100.0h0M304.4 110.6h0M291.6 125.3h0M341.8 100.2h0M298.7 96.8h0M315.6 118.1h0M333.3 106.1h0M322.1 111.5h0M321.8 93.1h0M330.5 114.5h0M318.5 88.8h0M327.8 81.6h0M327.3 80.7h0M335.8 100.6h0M298.4 95.0h0M320.5 114.7h0M322.2 114.3h0M326.8 91.9h0M301.5 110.5h0M326.2 76.1h0M294.9 112.1h0M294.8 99.6h0M308.7 100.5h0M334.5 104.6h0M330.2 97.2h0M331.5 97.3h0M327.2 94.3h0M328.0 103.0h0M325.6 100.6h0M320.8 99.4h0M290.3 127.1h0M294.5 116.7h0M322.7 115.9h0M298.7 96.0h0M327.0 113.0h0M311.0 91.9h0M313.0 100.1h0M331.8 103.2h0M297.3 114.2h0M315.7 115.4h0M337.8 94.1h0M329.8 84.4h0M332.0 99.3h0M291.7 120.2h0M305.5 106.4h0M300.8 91.6h0M327.3 104.9h0M318.8 123.7h0M297.8 95.7h0M290.3 128.8h0M321.4 96.2h0M319.5 95.9h0M290.0 123.0h0M334.6 107.1h0M301.7 95.9h0M310.4 100.4h0M326.8 86.9h0M312.2 93.6h0M336.3 108.2h0M312.3 99.6h0M296.1 116.5h0M334.9 108.9h0M330.4 111.6h0M303.9 104.3h0M299.8 102.2h0M304.1 107.0h0" stroke="#25A862" stroke-width="1.9" stroke-linecap="round" fill="none"/>
<path d="M298.8 142.1h0M303.9 143.6h0M311.3 142.8h0M301.9 148.8h0M308.0 141.5h0M302.4 141.5h0M301.1 131.0h0M305.3 131.8h0M312.4 148.4h0M291.4 132.0h0M299.7 139.7h0M309.1 139.8h0M306.5 146.6h0M300.7 135.4h0M307.6 150.5h0M302.5 148.2h0M299.3 150.9h0M313.9 140.7h0M311.5 144.6h0M314.4 143.1h0M306.8 144.4h0M301.3 144.9h0M313.7 141.0h0M308.8 138.5h0M303.7 131.8h0M315.3 139.3h0M315.4 142.5h0M305.2 130.8h0M295.4 134.4h0M304.6 131.3h0M312.9 140.1h0M308.5 134.4h0M301.9 125.6h0M306.2 150.5h0M304.1 136.8h0M307.9 133.6h0M309.0 139.6h0M308.9 131.6h0M309.5 150.8h0M312.0 146.0h0M306.8 135.4h0M298.2 136.6h0M309.4 146.5h0M310.6 147.3h0M307.3 146.6h0M306.9 143.4h0M315.1 144.7h0M314.0 149.8h0M296.3 128.9h0M315.7 143.4h0M303.9 136.4h0M306.7 138.3h0M303.7 140.6h0M306.7 129.6h0M304.5 130.3h0M297.1 146.3h0M302.8 130.4h0M313.6 150.1h0M291.8 135.8h0M303.9 143.2h0M298.6 143.5h0M307.7 151.1h0M300.6 141.8h0M312.2 137.4h0M312.8 136.0h0M305.1 137.3h0M306.5 136.8h0M298.1 149.1h0M301.1 147.6h0M309.1 134.4h0M299.6 137.3h0M298.4 136.1h0M298.7 147.6h0M305.3 127.0h0M292.1 139.5h0M299.0 140.4h0M313.3 139.7h0M314.1 140.1h0M307.3 150.3h0M292.1 133.9h0M301.4 145.0h0M303.4 130.1h0M300.0 148.9h0M313.6 138.2h0M313.2 149.1h0M303.9 132.3h0M306.2 136.3h0M308.5 147.5h0M299.8 141.5h0M306.0 146.5h0M305.7 133.3h0M307.3 146.5h0M309.3 144.9h0M312.8 145.9h0M310.3 151.4h0M299.3 144.1h0M292.2 137.4h0M314.2 146.8h0M303.8 126.6h0M304.4 143.2h0M310.0 139.4h0M306.6 132.3h0M300.7 139.7h0M302.3 142.8h0M302.1 151.0h0M292.2 139.1h0M297.6 143.5h0M303.3 151.1h0M290.7 136.1h0M298.7 136.3h0M308.5 146.7h0M310.0 134.6h0M302.0 132.1h0M306.4 139.1h0M314.1 142.5h0M306.3 136.6h0M307.0 131.7h0" stroke="#86B01F" stroke-width="1.9" stroke-linecap="round" fill="none"/>
<path d="M340.3 163.8h0M317.4 141.1h0M321.7 149.8h0M326.9 149.5h0M346.3 159.4h0M339.2 156.2h0M345.7 152.7h0M337.3 149.8h0M335.2 146.1h0M327.6 157.4h0M352.9 157.3h0M354.3 155.0h0M347.9 153.7h0M342.1 152.9h0M322.3 149.7h0M325.3 156.6h0M347.0 150.6h0M337.1 151.4h0M338.5 159.8h0M346.7 148.5h0M341.7 151.2h0M343.6 153.4h0M325.8 146.3h0M329.8 150.2h0M339.8 154.0h0M336.7 157.6h0M324.3 152.0h0M331.6 155.8h0M347.3 150.8h0M344.3 158.8h0M326.3 146.2h0M356.1 153.2h0M349.5 157.6h0M327.8 148.2h0M354.1 157.8h0M319.8 139.1h0M338.5 154.0h0M330.4 158.8h0M341.8 159.4h0M326.3 143.3h0M314.1 144.6h0M315.9 141.4h0M344.5 157.7h0M352.8 157.4h0M331.7 156.8h0M338.6 151.7h0M317.7 140.5h0M321.9 145.4h0M341.8 151.8h0M321.4 152.6h0M328.4 152.8h0M321.7 152.3h0M349.8 161.4h0M346.3 158.3h0M330.4 153.1h0M329.2 139.1h0M339.2 157.8h0M335.8 148.4h0M326.4 152.2h0M329.7 145.5h0M341.9 151.2h0M347.5 156.5h0M346.3 158.9h0M331.3 152.7h0M352.0 159.5h0M348.5 157.2h0M341.2 155.1h0M342.1 158.0h0M341.6 151.6h0M353.8 156.8h0M335.4 163.5h0M345.0 156.6h0M334.9 152.6h0M332.4 151.3h0M330.4 157.9h0M323.8 140.3h0M344.0 156.8h0M338.2 162.2h0M336.2 161.8h0M321.8 144.4h0M334.2 159.3h0M347.5 155.6h0M355.7 154.3h0M338.7 160.4h0M317.8 141.8h0M347.1 161.0h0M325.2 142.3h0M330.1 153.7h0M338.6 163.9h0M323.1 141.0h0M336.0 157.9h0M337.4 152.4h0M320.2 137.5h0M323.0 146.0h0M345.6 155.9h0M346.1 153.7h0M324.5 150.2h0M343.5 160.4h0M318.9 146.1h0M324.5 150.1h0M317.1 148.5h0M330.9 157.5h0M324.7 152.5h0M343.5 159.3h0M344.2 151.3h0M346.6 156.0h0M330.8 148.4h0M339.4 154.1h0M353.5 154.8h0M352.4 150.5h0M318.8 150.5h0M334.2 147.3h0M331.5 144.1h0M346.7 160.5h0M341.0 163.9h0M331.0 143.8h0M337.4 164.1h0M349.7 154.1h0M325.7 152.8h0M325.6 156.2h0M342.8 158.2h0M350.0 155.4h0M325.9 147.5h0M325.5 151.2h0M349.6 154.2h0M344.1 157.9h0M331.0 146.1h0M350.2 154.4h0M343.0 162.7h0M334.4 146.0h0M319.6 149.2h0M325.2 156.2h0M318.4 143.0h0M338.3 154.2h0M342.0 154.3h0M344.8 149.9h0M322.8 144.3h0M326.0 143.8h0M322.7 136.2h0M331.7 148.6h0M330.7 146.2h0M325.4 149.8h0M349.5 153.9h0M329.3 146.1h0M318.4 148.4h0M344.0 153.1h0M336.1 160.6h0M346.8 151.0h0M316.9 148.8h0M324.8 155.7h0M321.3 155.2h0M330.2 158.0h0M322.6 147.8h0M351.2 158.6h0M335.4 153.6h0M315.7 143.4h0M323.8 142.6h0M316.3 144.1h0M344.8 153.4h0M338.5 151.8h0M327.1 150.5h0M346.8 157.3h0M324.4 142.6h0M332.4 146.5h0M340.6 162.4h0M329.9 146.2h0M323.8 150.9h0M319.4 150.9h0M350.6 154.1h0M321.1 142.7h0M331.7 150.2h0M349.4 158.8h0M346.1 153.5h0M336.1 160.9h0M323.5 142.6h0M332.4 146.1h0M337.3 150.0h0M325.8 150.1h0M335.8 156.4h0M328.5 145.8h0M345.1 161.0h0M341.7 158.5h0M336.2 163.3h0M342.1 151.4h0M338.4 159.7h0M326.6 152.2h0M327.4 147.0h0M314.8 141.8h0M332.2 145.8h0M347.6 157.5h0M328.4 153.2h0M340.8 159.1h0M345.7 162.2h0M326.0 150.3h0M326.4 148.5h0M328.8 152.1h0M319.4 143.8h0M330.6 146.1h0M335.8 151.8h0M354.0 158.1h0M317.6 149.7h0M336.0 155.5h0M321.4 143.8h0M346.6 161.0h0M321.1 153.6h0M346.6 161.2h0M319.0 148.2h0M321.7 140.5h0M334.0 155.8h0M328.5 145.4h0M317.2 147.4h0M316.3 136.6h0M331.0 160.0h0M343.8 151.4h0M353.6 156.1h0" stroke="#CE9512" stroke-width="1.9" stroke-linecap="round" fill="none"/>
<path d="M337.5 142.5h0M326.8 126.1h0M329.8 118.5h0M356.5 128.4h0M328.9 137.1h0M356.0 149.2h0M348.3 131.8h0M338.3 130.9h0M348.2 109.8h0M345.5 124.7h0M337.2 113.0h0M340.3 146.9h0M335.8 120.4h0M347.1 110.1h0M331.1 123.4h0M359.7 139.5h0M351.4 141.5h0M344.3 128.1h0M356.2 143.8h0M345.8 139.0h0M331.0 142.5h0M355.3 129.1h0M345.3 150.4h0M343.6 147.6h0M329.8 131.5h0M353.7 141.3h0M346.3 147.5h0M327.5 124.3h0M327.6 125.1h0M333.9 144.2h0M361.4 133.4h0M338.7 110.4h0M363.1 130.2h0M358.9 133.5h0M362.0 149.5h0M347.1 130.9h0M335.7 143.9h0M342.7 134.0h0M329.5 118.4h0M352.4 117.9h0M349.7 120.3h0M335.1 129.1h0M354.4 138.7h0M359.4 137.3h0M331.3 117.5h0M340.5 120.1h0M363.6 133.7h0M335.5 134.4h0M335.1 122.6h0M356.2 125.8h0M346.8 151.1h0M353.9 120.4h0M361.7 121.3h0M351.4 138.9h0M362.1 142.3h0M344.3 114.0h0M345.8 140.2h0M356.3 125.5h0M329.1 127.9h0M354.6 149.1h0M349.9 140.7h0M359.7 134.8h0M339.1 110.1h0M363.4 132.2h0M330.2 139.3h0M351.4 144.6h0M348.6 153.6h0M345.7 120.8h0M348.8 114.6h0M353.9 128.4h0M359.1 120.4h0M345.7 104.1h0M343.0 146.7h0M327.8 126.6h0M353.9 137.0h0M344.5 122.4h0M327.4 127.8h0M349.1 114.0h0M361.8 131.9h0M353.8 115.1h0M341.5 137.3h0M328.7 128.9h0M352.0 129.8h0M353.6 145.5h0M339.9 114.0h0M350.9 129.0h0M355.5 138.1h0M345.9 130.0h0M351.9 142.4h0M338.7 147.3h0M337.1 114.4h0M349.3 117.0h0M331.6 116.4h0M357.3 117.7h0M352.0 125.6h0M325.5 131.5h0M348.8 152.3h0M344.3 113.0h0M345.3 137.6h0M328.8 120.6h0M346.9 109.3h0M352.9 123.4h0M331.3 138.1h0M347.1 128.9h0M328.0 136.5h0M326.2 132.8h0M363.5 131.8h0M347.3 133.5h0M342.0 142.8h0M359.6 140.8h0M354.5 131.8h0M349.8 149.6h0M363.0 131.8h0M355.2 143.8h0M350.2 134.3h0M351.9 140.2h0M346.8 142.9h0M328.0 140.5h0M329.8 136.4h0M339.0 130.5h0M335.5 117.3h0M349.8 108.2h0M334.5 142.7h0M338.5 110.5h0M352.2 129.7h0M353.3 134.8h0M345.8 128.2h0M330.9 132.3h0M347.8 132.1h0M355.7 115.3h0M339.7 112.0h0M357.7 149.2h0M360.9 136.3h0M354.5 114.9h0M358.2 118.8h0M351.5 120.5h0M329.7 119.2h0M340.5 134.8h0M350.1 123.0h0M361.4 132.9h0M332.1 114.9h0M355.2 152.2h0M358.8 124.7h0M351.9 136.1h0M351.5 118.4h0M354.2 142.9h0M357.5 134.4h0M343.3 117.7h0M344.1 125.8h0M353.2 120.9h0M351.3 130.0h0M333.4 116.0h0M345.2 122.8h0M342.0 147.6h0M332.4 121.9h0M339.1 114.9h0M347.4 111.0h0M347.8 147.0h0M335.7 134.7h0M326.4 127.3h0M351.5 128.3h0M354.9 148.9h0M339.2 116.0h0M333.6 131.7h0M346.9 139.6h0M345.1 108.2h0M346.8 128.9h0M333.2 128.2h0M347.8 149.9h0M336.1 137.6h0M342.9 113.4h0M349.7 119.4h0M339.6 117.6h0M353.5 143.0h0M325.4 129.0h0M359.8 128.2h0M351.5 150.0h0M339.7 118.6h0M344.8 114.0h0M341.5 111.6h0M362.3 125.9h0M352.7 151.7h0M342.6 114.3h0M339.1 121.9h0M339.4 139.3h0M344.5 152.8h0M335.0 126.9h0M334.3 119.6h0M339.4 126.6h0M355.0 131.5h0M349.1 124.2h0M343.4 110.9h0M328.3 127.0h0M338.7 140.6h0M336.7 135.0h0M340.8 121.8h0M361.4 135.7h0M342.9 111.9h0M328.2 121.1h0M359.8 125.2h0M329.3 116.9h0M331.2 128.6h0M333.3 124.3h0M334.8 143.7h0M337.9 123.0h0M348.4 116.4h0M356.5 143.9h0M342.3 111.5h0M351.3 117.9h0M361.0 131.4h0M350.5 113.8h0M356.3 134.9h0M335.0 132.2h0M332.6 124.4h0M339.0 129.3h0M329.0 119.1h0M339.3 114.1h0M351.1 141.0h0M338.6 121.3h0M343.9 115.7h0M347.2 127.5h0M351.7 123.6h0M327.9 134.4h0" stroke="#F0736B" stroke-width="1.9" stroke-linecap="round" fill="none"/>
<path d="M364.2 149.7h0M362.3 149.8h0M363.3 150.2h0M362.3 150.7h0" stroke="#17979B" stroke-width="1.9" stroke-linecap="round" fill="none"/>
<path d="M322.2 69.4h0M325.2 74.0h0M308.6 76.2h0M328.8 69.4h0M311.7 74.6h0M327.9 71.1h0M315.2 72.6h0M329.3 70.5h0M327.2 68.1h0M315.2 72.2h0M327.0 67.1h0M309.2 76.0h0M320.2 69.9h0M317.3 70.1h0M310.6 74.6h0M309.8 76.1h0M317.1 70.9h0M316.6 70.8h0M327.1 70.9h0M305.8 71.6h0M308.0 75.6h0M325.2 73.5h0M307.5 74.0h0M314.2 73.7h0" stroke="#A36CB6" stroke-width="2.1" stroke-linecap="round" fill="none"/>
<path d="M310.9 79.6h0M340.8 50.0h0" stroke="#D04C98" stroke-width="2.3" stroke-linecap="round" fill="none"/>
<path d="M237.3 134.0h0M234.9 134.6h0M254.7 133.1h0M281.0 133.9h0M238.1 134.1h0M246.9 135.8h0M283.6 132.5h0M246.7 126.1h0M247.9 125.4h0M252.9 123.8h0M242.1 130.7h0M280.9 133.3h0M236.2 134.3h0M255.9 124.5h0M263.1 127.3h0M280.8 134.7h0M243.1 134.4h0M260.0 141.5h0M248.8 132.3h0M229.8 136.7h0M254.7 131.7h0M262.4 131.6h0M229.6 136.2h0M264.8 132.1h0M263.1 127.4h0M251.3 126.6h0M261.0 126.4h0M229.4 136.5h0M235.0 134.5h0M278.8 132.3h0M278.6 132.9h0M252.5 123.9h0M240.8 133.5h0M260.9 127.3h0M253.6 132.8h0M240.5 131.0h0M279.7 133.3h0M273.3 131.4h0M271.5 129.8h0M231.4 134.8h0M272.6 132.7h0M244.1 132.7h0M233.7 134.4h0M231.9 135.1h0M239.6 132.8h0M280.6 132.0h0" stroke="#3C9BD9" stroke-width="1.9" stroke-linecap="round" fill="none"/>
<path d="M349.9 97.6h0M354.9 101.7h0M346.1 95.3h0M364.0 108.9h0M360.0 107.3h0M317.1 126.2h0M346.5 99.1h0M321.8 124.2h0M321.9 122.4h0M310.3 120.7h0M320.4 123.2h0M352.3 99.2h0M353.5 105.1h0M317.4 119.1h0M316.8 125.6h0M322.1 113.2h0M312.5 111.3h0M364.6 112.7h0M324.9 108.9h0M308.8 107.8h0M313.5 105.3h0M316.9 122.0h0M322.2 111.4h0M348.4 105.8h0M363.6 113.4h0M328.0 108.2h0M317.9 119.8h0M364.7 115.9h0M320.0 101.9h0M334.5 105.5h0M313.9 122.1h0M316.7 127.3h0M352.1 107.5h0M364.7 115.9h0M318.6 111.0h0M350.1 101.7h0M316.2 126.4h0M333.3 106.7h0M357.8 115.1h0M323.1 110.0h0M315.1 105.4h0M321.0 126.1h0M309.5 106.0h0M323.4 106.8h0M314.2 116.3h0M351.2 107.2h0M351.2 99.6h0M307.4 113.7h0M352.0 95.9h0M356.0 103.8h0M328.0 112.5h0M357.9 104.9h0M349.3 101.7h0M357.8 110.4h0M351.7 106.8h0M317.6 134.4h0M353.8 100.4h0M328.1 99.7h0M348.5 95.0h0M360.9 117.5h0M334.8 106.3h0M320.9 116.0h0M320.8 104.5h0M315.4 117.3h0M352.4 95.3h0M332.6 99.0h0M352.1 98.0h0M316.2 118.3h0M348.7 94.7h0M350.8 99.2h0M317.1 108.5h0M351.6 103.5h0M319.8 119.2h0M315.2 100.5h0" stroke="#27B6BE" stroke-width="1.9" stroke-linecap="round" fill="none"/>
<path d="M308.3 116.2h0M305.8 127.4h0M314.7 98.7h0M326.8 104.9h0M296.7 118.6h0M312.1 126.1h0M324.1 112.4h0M328.9 97.3h0M295.0 120.9h0M315.0 89.1h0M320.7 98.0h0M321.1 108.8h0M322.1 100.5h0M300.1 115.4h0M336.5 104.3h0M331.2 86.9h0M322.0 94.7h0M313.5 99.4h0M313.3 90.0h0M331.0 102.5h0M337.8 112.7h0M328.7 109.9h0M296.0 111.5h0M322.7 109.3h0M326.7 88.6h0M329.8 79.4h0M307.8 96.9h0M322.8 100.0h0M296.3 115.0h0M328.2 81.8h0M338.3 103.0h0M290.0 128.2h0M291.3 108.9h0M306.8 95.8h0M325.0 114.0h0M328.0 76.0h0M324.9 111.3h0M328.5 114.0h0M301.6 94.6h0M329.0 98.0h0M298.6 114.0h0M326.2 119.9h0M295.7 98.3h0M328.4 119.9h0M326.0 84.5h0M306.8 97.9h0M328.8 99.5h0M303.5 93.3h0M326.6 118.6h0M322.0 116.9h0M322.6 109.6h0M290.8 129.2h0M318.4 91.1h0M325.0 110.2h0M331.4 105.6h0M304.1 105.3h0M308.8 109.0h0M302.9 98.2h0M308.5 113.2h0M299.6 104.0h0M320.6 93.8h0M288.0 118.5h0M292.6 126.9h0M321.8 83.2h0M342.3 107.0h0M306.3 92.2h0M306.0 98.1h0M293.7 120.2h0M335.3 113.1h0M326.8 100.3h0M288.5 108.2h0M316.9 112.1h0M298.5 92.9h0M301.3 112.8h0M333.9 102.2h0M326.3 119.9h0M338.6 101.4h0M340.9 105.7h0M324.4 112.7h0M291.9 115.5h0M335.3 94.2h0M330.5 95.7h0M306.6 90.4h0M328.9 115.0h0M298.0 82.0h0M296.5 81.3h0M306.9 101.4h0M325.9 112.9h0M325.2 84.4h0M333.6 109.5h0M299.7 99.7h0M307.1 99.2h0M309.7 115.4h0M289.6 110.1h0M327.0 84.8h0M327.6 103.0h0M329.6 106.3h0M326.9 112.1h0M297.2 103.8h0M307.3 98.3h0M326.2 112.9h0M305.4 91.4h0M340.1 101.9h0M320.4 103.6h0M326.2 92.0h0M302.6 88.2h0M308.6 105.5h0M326.8 112.5h0M340.1 100.8h0M294.1 121.3h0M329.4 111.9h0M325.1 101.3h0M337.2 102.4h0M321.5 103.5h0M305.2 111.0h0M314.2 100.7h0M296.4 99.9h0M334.4 112.3h0M310.6 99.4h0M333.1 94.3h0M288.2 120.4h0M330.0 83.0h0M301.3 97.5h0M322.7 116.8h0M325.0 115.6h0M336.2 104.6h0M295.9 115.7h0M290.1 121.2h0M308.2 95.0h0M327.0 106.3h0M297.4 94.5h0M325.8 103.9h0M321.0 107.4h0M311.8 117.3h0M331.7 85.1h0M292.5 132.8h0M317.4 102.7h0M326.2 112.2h0M312.0 99.8h0M328.0 109.2h0M297.8 117.5h0M307.6 101.5h0M317.8 90.9h0M321.5 112.4h0M302.2 110.6h0M320.2 89.3h0M296.8 115.7h0M322.3 98.6h0M290.9 123.5h0M320.9 110.0h0M322.9 97.5h0M309.4 90.5h0M333.6 104.9h0M335.2 103.2h0M325.3 122.7h0M320.5 99.1h0M331.8 84.2h0M340.6 100.0h0M290.8 106.1h0M291.1 130.6h0M289.3 123.9h0M330.6 114.4h0M334.6 99.4h0M299.7 113.8h0M287.7 121.9h0M330.7 105.4h0M325.6 119.1h0M322.4 95.3h0M303.0 91.3h0M303.1 110.4h0M298.8 93.1h0M325.1 116.8h0M320.4 115.7h0M289.8 121.1h0M305.1 98.7h0M308.8 110.5h0M321.9 97.4h0M314.1 102.4h0M319.8 101.5h0M297.0 92.1h0M327.7 114.4h0M320.1 93.5h0M331.6 102.1h0M292.7 117.1h0M311.4 100.5h0M340.9 98.6h0M324.3 101.8h0M330.7 108.0h0M301.2 111.1h0M320.8 108.4h0M339.3 101.0h0M341.8 103.2h0M322.6 87.7h0M299.9 113.9h0M336.4 98.0h0M329.7 115.6h0M327.4 97.5h0M300.8 112.5h0M332.1 98.4h0M328.7 109.7h0" stroke="#25A862" stroke-width="1.9" stroke-linecap="round" fill="none"/>
<path d="M290.9 135.4h0M304.0 129.7h0M304.1 147.0h0M305.6 134.8h0M299.8 132.6h0M297.2 144.1h0M313.2 142.0h0M313.5 149.0h0M291.2 139.2h0M306.6 145.2h0M309.0 130.2h0M301.7 139.3h0M305.0 151.2h0M311.0 148.9h0M308.5 151.0h0M295.1 140.6h0M301.5 146.6h0M311.4 140.9h0M305.6 143.1h0M309.1 138.4h0M302.8 152.0h0M301.0 128.1h0M312.5 149.8h0M308.0 144.5h0M296.1 134.6h0M299.0 140.6h0M297.3 149.3h0M302.8 142.7h0M302.3 141.4h0M304.4 146.4h0M311.8 150.9h0M306.0 134.8h0M300.8 147.3h0M309.1 135.9h0M291.6 135.7h0M312.3 138.6h0M303.7 149.0h0M314.3 140.8h0M303.4 126.8h0M303.1 134.0h0M305.2 133.2h0M300.9 133.9h0M313.6 146.7h0M308.2 145.5h0M311.3 135.6h0M301.3 150.6h0M302.2 130.3h0M300.8 127.4h0M310.5 143.3h0M300.7 150.9h0M306.3 130.5h0M298.7 149.6h0M307.8 139.8h0M304.9 128.9h0M312.0 137.4h0M303.4 145.8h0M301.2 140.4h0M306.7 137.8h0M308.6 133.7h0M307.1 141.7h0M315.3 144.0h0M305.0 136.3h0M312.0 145.0h0M297.9 135.3h0M301.3 138.9h0M302.5 152.0h0M304.2 128.6h0M309.3 147.6h0M309.5 139.3h0M303.0 150.1h0M301.9 136.9h0M301.5 129.9h0M302.7 142.3h0M311.9 145.4h0M306.4 132.1h0M309.6 143.1h0M307.3 148.8h0M310.7 139.8h0M314.9 146.1h0M301.5 150.9h0M302.5 136.7h0M290.9 137.7h0M303.5 132.8h0M299.2 137.5h0M301.3 127.4h0M299.1 134.7h0M307.5 128.7h0M303.3 149.9h0M310.7 135.0h0M312.2 138.3h0M306.3 140.8h0M309.2 143.9h0M311.0 145.4h0M306.1 144.4h0M295.8 133.2h0M312.6 145.4h0M298.7 144.5h0M304.5 143.2h0M304.9 128.6h0M305.5 134.5h0M294.8 142.9h0M306.7 131.7h0M302.2 140.3h0M311.0 139.8h0M310.0 136.1h0M296.4 146.5h0M307.8 132.2h0M307.2 140.7h0M313.4 144.4h0M301.6 134.5h0M301.5 146.3h0M312.7 142.2h0M301.9 147.6h0M307.1 142.7h0M304.2 133.1h0M308.5 135.4h0M308.4 140.3h0" stroke="#86B01F" stroke-width="1.9" stroke-linecap="round" fill="none"/>
<path d="M326.5 147.9h0M318.0 151.1h0M339.3 151.5h0M350.8 158.5h0M323.2 152.6h0M336.4 153.2h0M337.7 156.5h0M338.4 151.5h0M323.5 152.3h0M340.9 163.4h0M337.3 158.4h0M338.6 150.5h0M342.9 155.1h0M328.4 152.3h0M337.8 159.3h0M334.6 151.5h0M332.6 148.5h0M331.3 157.1h0M336.0 156.4h0M337.7 160.8h0M320.2 148.8h0M322.6 144.5h0M322.4 140.9h0M340.2 152.8h0M349.0 152.2h0M351.7 158.6h0M341.9 154.7h0M322.9 139.9h0M335.3 153.6h0M318.2 139.7h0M331.4 161.4h0M340.6 160.4h0M353.2 153.2h0M329.5 146.7h0M334.9 164.3h0M322.9 154.7h0M323.6 141.0h0M348.0 151.7h0M335.6 159.7h0M334.5 149.4h0M324.2 153.1h0M332.8 150.0h0M339.1 155.0h0M322.8 152.3h0M351.0 154.2h0M324.6 156.3h0M340.9 160.0h0M339.1 152.1h0M327.9 148.7h0M339.4 149.8h0M324.0 143.0h0M333.2 153.5h0M344.4 154.1h0M331.8 148.0h0M352.7 158.1h0M328.6 145.2h0M327.7 145.0h0M335.5 153.1h0M320.9 141.1h0M337.4 152.6h0M321.3 145.6h0M324.7 139.7h0M340.5 159.8h0M323.0 141.3h0M323.3 143.2h0M318.1 149.3h0M335.8 145.3h0M327.3 144.4h0M329.4 143.0h0M355.1 154.5h0M335.4 151.8h0M343.0 152.2h0M314.9 143.9h0M324.2 152.4h0M333.5 142.0h0M339.4 162.4h0M337.5 148.1h0M344.1 161.4h0M351.7 153.5h0M323.0 150.2h0M336.1 159.4h0M336.8 160.6h0M338.7 157.0h0M331.1 153.9h0M337.0 153.1h0M344.2 160.7h0M324.6 146.3h0M318.8 141.6h0M343.2 156.9h0M349.0 153.3h0M354.1 154.8h0M335.0 154.3h0M327.4 159.2h0M347.1 160.8h0M330.1 144.9h0M334.6 151.2h0M346.0 159.3h0M336.3 150.2h0M334.3 160.1h0M334.4 151.8h0M326.4 144.2h0M330.6 146.6h0M327.0 145.6h0M341.8 157.4h0M317.6 151.3h0M332.3 155.1h0M342.7 157.0h0M327.5 147.8h0M337.1 155.7h0M338.2 160.1h0M327.3 152.0h0M326.4 156.0h0M345.6 157.2h0M339.6 153.4h0M341.5 162.9h0M316.0 144.8h0M316.6 150.2h0M349.1 152.4h0M337.0 150.8h0M347.2 156.0h0M319.8 148.8h0M338.7 161.4h0M342.0 153.3h0M340.2 152.1h0M331.1 158.4h0M318.9 142.2h0M326.0 146.7h0M321.3 146.1h0M327.0 158.7h0M345.8 159.3h0M347.0 155.5h0M338.2 163.2h0M343.0 149.2h0M343.8 158.6h0M330.0 147.9h0M331.3 158.1h0M323.9 153.2h0M341.0 155.9h0M344.0 156.6h0M339.0 150.6h0M322.9 143.6h0M317.7 146.5h0M327.0 151.5h0M352.0 156.6h0M323.2 142.9h0M348.7 158.0h0M336.9 151.4h0M319.3 149.5h0M342.9 162.1h0M335.1 159.2h0M333.0 147.6h0M337.8 162.5h0M341.1 159.7h0M339.2 157.9h0M341.4 163.2h0M325.7 157.8h0M322.5 151.0h0M330.3 153.8h0M323.7 141.8h0M341.1 152.9h0M326.7 157.3h0M331.4 156.9h0M347.6 160.8h0M337.2 148.1h0M346.9 153.5h0M338.3 158.3h0M329.0 155.8h0M346.3 158.9h0M320.3 149.6h0M327.3 156.4h0M327.6 149.3h0M327.3 151.6h0M323.0 139.2h0M337.0 160.3h0M336.0 151.1h0M320.2 147.4h0M336.5 149.3h0M335.4 158.0h0M351.0 158.7h0M343.5 157.3h0M320.7 143.6h0M338.6 149.9h0M344.8 152.9h0M331.7 151.9h0M347.5 153.7h0M330.3 152.0h0M330.6 153.3h0M333.4 147.6h0M320.9 140.0h0M343.9 155.0h0M320.5 144.0h0M331.5 152.3h0M321.5 155.3h0M328.1 159.4h0M352.8 156.2h0M324.5 144.9h0M342.8 159.3h0M333.2 151.6h0M343.6 160.5h0M330.9 160.5h0M347.9 160.5h0M327.4 152.9h0M327.2 157.8h0M328.4 149.1h0M329.8 145.8h0M334.3 156.6h0M338.5 149.8h0M316.6 140.7h0M325.2 141.0h0M331.7 163.8h0M319.0 146.4h0M323.6 148.3h0M341.5 149.5h0M331.7 152.9h0M321.3 140.9h0" stroke="#CE9512" stroke-width="1.9" stroke-linecap="round" fill="none"/>
<path d="M346.5 119.0h0M340.9 124.5h0M336.5 131.2h0M340.8 121.7h0M347.1 131.0h0M353.9 144.7h0M362.2 134.7h0M357.0 149.9h0M352.8 115.9h0M332.9 137.4h0M349.8 146.8h0M336.3 142.3h0M349.2 115.3h0M342.2 127.4h0M357.8 137.5h0M337.5 129.3h0M347.2 145.7h0M356.3 144.0h0M349.5 142.7h0M344.8 128.3h0M342.7 119.6h0M329.6 127.6h0M348.4 115.2h0M341.8 108.2h0M337.7 133.9h0M339.5 148.8h0M351.4 132.2h0M335.5 124.2h0M354.0 142.2h0M352.0 127.5h0M350.0 144.5h0M341.4 111.6h0M338.5 146.9h0M337.2 117.4h0M330.9 126.3h0M348.8 131.4h0M332.6 138.4h0M336.7 111.3h0M351.6 140.0h0M353.5 124.4h0M329.4 136.4h0M334.4 119.7h0M360.6 130.5h0M333.1 137.0h0M359.3 136.7h0M343.8 118.0h0M347.2 131.1h0M334.7 136.9h0M341.7 112.0h0M336.6 110.6h0M336.2 108.2h0M347.4 126.1h0M338.9 137.1h0M335.7 134.8h0M326.5 125.9h0M363.0 141.1h0M330.4 125.6h0M346.8 128.3h0M329.7 123.6h0M343.9 142.7h0M348.6 145.5h0M330.8 121.2h0M350.2 128.9h0M348.4 130.4h0M329.7 122.4h0M325.9 133.8h0M350.9 123.4h0M351.0 140.3h0M331.4 136.0h0M345.1 117.7h0M350.2 121.6h0M355.4 131.7h0M335.2 140.4h0M340.5 151.3h0M334.9 134.7h0M337.6 111.8h0M357.3 141.7h0M361.0 144.5h0M349.3 135.8h0M348.5 120.2h0M330.5 136.5h0M360.9 142.2h0M361.4 126.7h0M359.6 138.1h0M357.6 128.8h0M349.6 141.6h0M342.4 115.6h0M353.0 142.0h0M358.7 140.2h0M353.1 155.4h0M352.7 130.2h0M353.0 126.2h0M358.3 124.8h0M329.8 132.0h0M328.9 122.0h0M341.4 118.4h0M342.8 111.3h0M361.0 125.6h0M354.8 122.6h0M332.9 123.1h0M348.9 140.2h0M348.1 140.1h0M339.6 107.0h0M343.6 110.7h0M336.0 128.0h0M350.2 118.8h0M335.2 136.9h0M347.1 143.9h0M334.0 132.9h0M347.1 148.6h0M360.7 131.1h0M339.0 138.7h0M326.9 130.2h0M350.6 124.9h0M357.7 140.7h0M359.2 142.3h0M355.0 113.7h0M342.8 146.2h0M346.1 117.0h0M327.6 121.7h0M338.2 146.3h0M346.9 123.4h0M348.8 137.2h0M351.9 145.9h0M356.3 128.6h0M361.2 121.4h0M331.5 128.1h0M342.2 122.5h0M357.6 143.5h0M362.3 137.1h0M328.7 129.2h0M351.0 115.2h0M336.0 134.9h0M342.1 148.8h0M336.2 140.0h0M359.0 123.9h0M325.2 130.8h0M327.3 132.0h0M337.3 147.9h0M336.3 145.7h0M333.2 118.1h0M356.3 148.6h0M349.3 122.8h0M347.7 120.3h0M349.2 123.9h0M338.7 150.4h0M339.4 113.4h0M341.9 132.7h0M354.8 125.0h0M334.5 130.0h0M344.6 113.7h0M350.4 144.5h0M344.1 149.8h0M350.5 118.1h0M350.6 125.9h0M334.8 130.5h0M331.2 123.3h0M338.7 135.2h0M340.4 149.8h0M350.4 121.2h0M358.2 125.4h0M336.6 128.7h0M341.1 125.2h0M333.0 140.4h0M342.3 117.3h0M341.6 143.2h0M330.2 140.1h0M346.3 120.9h0M350.5 149.7h0M361.3 123.4h0M345.7 150.5h0M349.6 127.1h0M357.0 137.1h0M348.4 146.6h0M345.2 149.3h0M362.9 130.7h0M342.7 132.7h0M335.9 131.3h0M362.3 130.4h0M359.7 123.3h0M340.4 123.6h0M358.8 119.5h0M348.1 134.8h0M336.4 112.1h0M332.2 138.7h0M335.4 114.0h0M354.5 126.4h0M350.2 111.5h0M329.4 125.7h0M364.0 134.2h0M347.5 148.0h0M327.0 127.8h0M359.9 122.8h0M344.5 121.3h0M340.9 123.6h0M358.5 131.9h0M340.6 143.2h0M353.8 126.4h0M358.5 130.1h0M352.2 147.0h0M332.2 126.7h0M358.0 149.3h0M340.7 150.9h0M331.3 125.2h0M337.5 122.8h0M365.7 135.0h0M347.4 138.5h0M354.2 126.4h0M331.7 136.7h0M363.3 129.9h0M333.0 135.6h0M354.8 137.0h0M354.0 148.9h0M344.7 151.9h0M332.2 113.3h0M337.0 106.7h0M341.2 143.7h0M361.2 126.3h0M342.3 111.2h0M328.6 138.9h0M354.2 118.9h0M359.5 140.8h0M351.1 124.9h0M342.7 121.1h0" stroke="#F0736B" stroke-width="1.9" stroke-linecap="round" fill="none"/>
<path d="M364.0 149.9h0M365.6 147.7h0M362.2 120.0h0M361.0 151.9h0" stroke="#17979B" stroke-width="1.9" stroke-linecap="round" fill="none"/>
<path d="M316.7 71.0h0M324.9 72.4h0M310.6 78.4h0M314.7 71.9h0M308.1 75.0h0M321.8 69.5h0M306.5 72.8h0M310.0 78.5h0M317.8 70.2h0M327.2 73.3h0M317.1 70.6h0M322.4 67.7h0M307.6 73.8h0M310.8 78.6h0M309.6 78.1h0M310.6 74.4h0M307.4 75.8h0M323.4 69.6h0M327.2 73.9h0M325.1 66.7h0M318.7 69.1h0M305.9 73.2h0M316.6 70.3h0M319.8 69.6h0" stroke="#A36CB6" stroke-width="2.1" stroke-linecap="round" fill="none"/>
<path d="M338.0 51.0h0M341.1 47.5h0M341.1 45.6h0" stroke="#D04C98" stroke-width="2.3" stroke-linecap="round" fill="none"/>
<path d="M94.5 334.3h0M112.1 331.0h0M102.9 332.5h0M96.5 322.9h0M115.7 329.7h0M95.6 332.4h0M97.7 326.9h0M95.3 326.0h0M105.6 338.1h0M93.0 326.4h0M128.6 327.4h0M93.7 326.7h0M101.1 331.2h0M98.9 322.3h0M102.9 327.9h0M101.8 322.0h0M98.8 327.9h0M99.2 321.0h0M94.3 324.6h0M97.1 326.9h0M111.2 328.0h0M93.8 323.5h0M128.0 324.3h0M103.5 331.4h0M116.8 328.6h0M94.5 324.7h0M95.8 333.3h0M108.1 327.8h0M88.6 325.7h0M105.0 326.2h0M128.0 326.9h0M99.2 334.7h0M120.4 329.8h0M100.1 323.3h0M109.9 331.6h0M93.6 322.7h0M79.6 332.4h0M105.4 337.9h0M88.0 328.8h0M125.6 329.5h0M103.9 327.4h0M94.0 330.1h0M107.5 327.7h0M85.9 329.4h0M100.2 321.8h0M109.4 331.8h0M98.3 334.5h0M79.9 332.2h0M94.3 327.2h0M104.2 324.9h0M115.9 327.9h0M88.6 327.9h0M101.1 329.5h0M112.8 329.9h0M92.3 330.7h0M109.6 327.7h0M97.1 320.8h0M120.7 329.6h0M110.4 328.6h0M112.8 327.4h0M108.2 328.6h0M98.9 334.6h0M102.1 324.0h0M105.8 326.9h0M124.9 327.5h0M94.7 320.6h0M101.6 326.7h0M97.5 334.8h0M116.2 328.1h0M94.7 322.4h0M120.8 327.9h0M121.8 327.8h0M98.8 331.8h0M108.8 327.4h0M93.2 331.6h0M85.5 332.5h0M91.4 329.9h0M104.3 328.6h0M106.6 326.5h0M96.7 321.1h0M106.9 328.5h0M90.7 329.5h0M92.6 325.4h0M104.9 336.7h0M111.7 329.0h0M87.0 327.7h0M92.7 330.3h0M96.9 330.3h0M105.1 329.2h0M100.6 321.6h0M89.4 330.2h0M95.3 334.8h0M100.8 328.6h0M91.6 328.3h0M111.4 328.7h0M100.9 326.3h0M99.9 328.8h0M86.6 328.4h0M80.7 331.3h0M102.5 333.9h0M123.9 328.7h0M107.8 328.8h0M82.7 329.4h0M126.9 328.2h0M93.5 332.9h0M97.8 327.7h0M115.5 330.0h0M94.7 329.6h0M92.9 333.3h0M126.6 326.0h0M128.7 326.5h0M82.5 330.8h0M92.6 332.3h0M88.9 326.4h0M99.2 325.7h0M95.9 332.7h0M107.0 330.5h0M94.6 330.3h0M95.2 329.3h0M103.7 333.7h0M94.8 323.2h0M101.5 322.1h0M128.4 327.1h0M94.1 324.7h0M93.6 325.8h0M98.3 332.1h0M86.3 333.5h0M109.6 328.1h0M89.0 327.0h0M95.6 329.4h0M104.2 327.6h0M103.0 325.1h0M101.8 331.7h0M110.8 328.0h0M82.4 331.0h0M106.5 327.0h0M87.0 332.4h0M102.6 323.5h0M92.0 325.9h0M107.3 327.4h0M114.3 328.2h0M105.8 329.1h0M106.9 325.3h0M99.7 324.5h0M90.5 325.4h0M100.0 321.8h0M102.0 324.4h0M91.3 328.9h0M102.9 322.5h0M101.2 333.1h0M95.9 332.1h0M106.6 331.2h0M119.2 327.3h0M90.6 322.5h0M114.6 327.7h0M82.8 330.2h0M93.7 324.8h0M106.6 327.3h0M91.3 328.5h0M109.2 330.1h0M101.0 323.6h0M90.3 332.3h0M114.9 327.5h0M100.3 333.0h0M91.8 326.0h0M100.0 321.8h0M119.1 327.1h0M95.8 331.8h0M112.7 328.2h0M95.8 331.9h0M86.0 331.7h0M102.1 322.2h0M90.0 324.8h0M91.5 325.8h0M99.0 320.3h0M91.2 322.6h0M103.6 323.6h0M101.2 322.6h0M95.7 321.6h0M103.9 331.7h0M91.3 331.4h0M98.9 328.1h0M107.1 326.9h0M105.3 325.7h0M105.3 336.3h0M89.5 333.8h0M101.5 321.4h0M101.5 322.0h0M91.9 331.1h0M112.3 328.8h0M105.8 326.0h0M98.0 326.2h0M93.3 328.4h0M91.2 321.8h0M104.9 328.1h0M102.5 328.3h0M102.0 320.2h0M109.4 330.5h0M105.3 330.8h0M100.2 326.2h0M101.0 326.2h0M76.8 334.1h0M104.3 325.0h0M118.4 327.3h0M114.3 329.0h0M87.6 327.7h0M91.1 330.1h0M94.9 323.8h0M91.9 326.5h0M124.9 328.6h0M106.7 326.4h0M103.1 334.3h0M91.1 328.9h0M113.9 327.9h0M89.0 327.2h0M106.0 328.7h0M103.9 326.2h0M118.7 327.9h0M92.7 330.0h0M96.8 330.0h0M120.0 328.7h0M88.4 329.8h0M89.3 334.5h0M92.4 329.2h0M98.5 331.7h0M89.1 324.7h0M86.4 332.0h0M87.0 324.1h0M100.5 328.1h0M100.0 330.8h0M104.4 329.1h0M90.9 331.0h0M91.3 331.9h0M112.0 329.0h0M88.4 324.5h0M97.4 323.3h0M93.9 331.6h0M123.1 329.5h0M95.1 330.2h0M98.2 325.1h0M83.4 329.8h0M101.4 324.7h0M84.6 329.2h0M101.5 325.0h0M108.6 328.9h0M103.8 334.3h0M95.8 322.2h0M124.3 328.5h0M85.3 332.0h0M104.2 332.0h0M90.5 323.9h0M105.8 329.5h0M106.9 331.4h0M85.1 328.2h0M117.4 329.8h0M97.8 330.6h0M91.7 333.0h0M104.3 323.0h0M86.2 328.7h0M90.4 329.6h0M94.7 325.3h0M90.6 325.0h0M96.7 322.5h0M78.0 333.3h0M124.5 328.4h0M96.2 324.8h0M102.1 328.5h0M112.8 328.8h0M80.4 332.5h0M94.2 322.5h0M91.3 329.8h0M101.1 330.2h0M100.8 327.8h0M99.6 327.0h0M92.7 328.9h0M97.0 323.4h0M96.8 334.3h0M93.8 329.7h0M125.2 327.7h0M100.2 333.5h0M90.8 323.9h0M110.7 328.4h0M103.3 324.5h0M76.3 334.5h0M83.2 331.1h0M94.8 329.9h0M81.0 331.8h0M89.7 332.0h0M106.7 327.3h0M79.1 332.1h0M110.1 328.3h0M126.3 325.3h0M109.3 328.5h0M100.0 332.9h0M103.7 329.4h0M83.3 330.0h0M100.4 327.7h0M112.7 326.6h0M81.4 331.9h0M105.4 337.2h0M100.1 322.2h0M95.9 332.2h0M101.6 323.1h0M100.1 333.9h0M97.4 329.8h0M92.0 323.6h0M75.5 333.3h0M109.3 330.0h0M125.4 326.6h0M115.0 329.0h0M99.6 328.2h0M109.9 328.9h0M110.5 328.8h0M111.0 328.8h0M91.3 332.3h0M106.0 329.7h0M107.2 331.2h0M97.0 329.3h0M94.5 322.0h0M108.1 327.7h0M95.2 325.2h0M88.5 324.9h0M93.9 329.4h0M108.1 329.3h0M90.8 328.0h0M101.8 332.8h0M93.7 334.1h0M106.4 332.1h0M101.1 326.8h0M104.4 328.9h0M81.2 331.7h0M108.9 329.4h0M95.7 328.3h0M100.5 331.2h0M87.4 330.0h0M88.1 324.9h0M88.2 328.6h0M91.7 328.9h0M103.2 330.2h0M110.1 327.3h0M105.7 329.6h0M113.6 328.2h0M99.6 326.8h0M109.9 328.5h0M97.1 321.0h0M98.0 324.7h0M77.3 333.7h0M95.2 333.9h0M103.1 334.8h0M102.4 332.2h0M89.8 329.0h0M93.3 329.1h0M76.5 333.8h0M99.8 330.1h0M91.8 329.4h0M91.4 329.5h0M98.8 328.5h0M95.3 330.8h0M96.2 329.6h0M94.2 330.7h0M88.0 332.5h0M120.9 327.7h0M101.3 322.2h0M92.8 321.6h0M96.7 320.6h0M93.6 333.6h0M99.2 332.7h0M103.9 326.9h0M103.6 329.3h0M93.8 326.3h0M99.5 323.9h0M98.2 330.9h0M101.8 321.6h0M97.1 320.3h0M100.4 327.1h0M92.2 329.9h0M90.4 331.2h0M98.1 336.5h0M91.3 324.2h0M104.8 324.4h0M113.3 327.9h0M98.7 325.9h0M103.3 332.8h0M111.2 328.7h0M102.6 327.2h0M103.3 331.9h0M130.2 327.9h0M107.2 328.5h0M86.9 327.2h0M94.7 332.4h0M101.7 330.7h0M95.3 323.7h0M93.7 332.5h0M90.0 326.1h0M103.7 334.5h0M95.3 321.5h0M98.6 330.5h0M97.5 321.5h0M109.3 326.9h0M116.3 327.2h0M91.0 334.2h0M95.2 335.5h0M102.5 332.1h0M93.6 327.3h0M101.4 322.6h0M98.7 330.6h0M98.1 323.3h0M92.7 325.2h0M105.3 328.6h0M106.3 329.9h0M75.3 333.5h0M102.8 330.0h0M107.7 330.8h0M102.0 333.9h0M90.0 328.4h0M101.7 326.6h0M97.3 323.5h0M91.3 323.8h0M88.3 332.1h0M83.0 330.3h0M114.4 328.7h0M102.9 331.7h0M91.3 325.2h0M100.7 319.8h0M102.5 327.6h0M104.1 327.8h0M90.8 335.6h0M100.5 320.0h0M90.9 325.3h0M98.3 330.8h0M111.1 327.6h0M102.7 333.8h0M105.6 329.3h0M99.0 330.7h0M99.9 323.5h0M106.0 336.3h0M95.5 331.1h0M102.1 321.2h0M93.5 328.9h0M97.2 322.4h0M86.6 332.1h0M102.9 331.0h0M95.5 331.0h0M91.5 332.1h0M99.8 323.2h0M109.8 328.3h0M88.9 325.8h0M104.4 329.1h0M101.6 323.1h0M86.5 328.6h0M92.6 330.8h0M98.1 334.4h0M94.8 322.4h0M101.0 328.7h0M106.1 329.7h0M119.4 327.9h0M83.0 331.0h0M94.1 331.8h0M98.1 322.0h0M103.7 331.9h0M104.0 335.5h0M91.8 329.4h0M92.6 328.6h0M103.1 325.7h0M102.9 328.8h0M76.6 335.0h0M122.5 328.0h0M88.5 323.3h0M102.8 335.1h0M113.1 326.6h0M87.8 328.7h0M99.5 321.8h0M96.9 333.5h0M103.8 330.6h0M86.2 329.0h0M151.4 270.9h0M150.5 267.4h0M148.5 266.0h0M152.1 270.3h0M155.5 265.7h0M145.3 264.8h0M149.7 267.0h0M165.5 262.2h0M162.6 263.3h0M159.0 261.0h0M157.6 263.2h0M162.9 263.3h0M152.9 267.4h0M167.3 264.5h0M151.8 267.7h0M155.5 264.8h0M152.6 267.5h0M166.8 265.4h0M151.3 267.1h0M151.8 269.9h0M156.4 262.9h0M151.2 271.0h0M165.3 260.2h0M156.8 263.9h0M154.9 264.9h0M163.1 263.1h0M146.6 265.5h0M152.5 267.8h0M166.9 262.7h0M152.9 268.1h0M148.6 267.1h0M166.1 260.9h0M149.0 266.5h0M157.9 262.2h0M148.9 266.3h0M166.8 260.7h0M162.7 263.0h0M163.8 263.6h0M156.9 262.9h0M162.3 261.5h0M167.3 261.2h0M166.2 262.1h0M167.4 264.3h0M156.5 263.7h0M156.5 262.7h0M157.8 262.6h0M155.7 265.7h0M158.4 261.8h0M145.9 264.6h0M156.0 264.4h0M166.7 261.9h0M151.4 267.5h0M152.1 269.0h0M155.8 265.4h0M166.2 262.3h0M157.3 261.8h0M152.4 268.9h0M149.3 266.8h0M148.9 266.9h0M157.2 262.4h0M154.2 266.4h0M156.8 262.2h0M146.1 264.5h0M157.4 262.3h0M153.8 266.9h0M166.8 262.3h0M152.2 273.1h0M150.8 266.9h0M153.0 267.0h0M166.5 260.8h0M153.6 267.1h0M152.1 267.5h0M148.6 265.7h0M160.4 261.0h0M162.5 262.8h0M154.3 266.0h0M152.7 267.5h0M158.0 262.3h0M156.5 265.1h0M151.9 268.5h0M163.6 262.1h0M146.2 265.3h0M163.2 262.6h0M156.2 264.3h0M152.7 269.1h0M152.3 268.5h0M150.9 270.4h0M175.1 243.6h0M152.1 275.5h0M177.2 245.5h0M152.8 274.5h0M179.1 238.1h0M179.7 242.9h0M179.0 239.7h0M178.9 241.2h0M179.3 234.5h0M171.2 285.8h0M166.9 277.7h0M165.1 283.5h0M153.9 301.4h0M133.5 300.3h0M151.5 282.1h0M160.0 302.2h0M151.6 296.0h0M171.1 291.0h0M160.9 306.9h0M179.8 297.2h0M171.7 286.1h0M172.6 283.7h0M181.1 293.9h0M148.2 306.1h0M171.4 303.3h0M171.3 278.9h0M173.4 283.3h0M164.9 312.2h0M174.9 302.4h0M172.4 304.8h0M131.1 318.7h0M164.1 309.2h0M159.6 289.5h0M146.7 308.3h0M136.0 294.8h0M138.7 304.1h0M139.0 294.7h0M143.1 302.8h0M142.9 300.0h0M167.2 315.0h0M142.8 293.0h0M184.1 293.0h0M164.8 317.7h0M171.1 304.1h0M146.0 299.7h0M144.5 287.2h0M169.9 305.4h0M156.3 299.5h0M163.2 295.4h0M156.9 307.7h0M142.8 304.4h0M136.8 292.2h0M144.5 291.9h0M132.1 322.6h0M167.4 266.5h0M169.8 291.1h0M162.6 316.0h0M131.3 299.4h0M166.8 267.2h0M132.6 302.1h0M172.1 296.2h0M171.7 286.8h0M179.2 296.6h0M144.0 284.5h0M163.1 316.1h0M168.2 312.4h0M165.5 292.2h0M167.8 293.3h0M170.2 307.4h0M150.1 284.5h0M159.2 299.7h0M162.1 311.3h0M171.0 302.1h0M146.6 294.4h0M148.7 287.2h0M147.2 292.8h0M167.4 295.3h0M161.6 304.5h0M167.6 276.1h0M148.9 282.0h0M168.6 297.9h0M153.8 284.7h0M134.0 295.9h0M137.3 317.3h0M158.9 314.0h0M131.7 297.6h0M164.7 278.4h0M170.6 307.9h0M169.7 298.2h0M147.6 288.5h0M179.8 292.3h0M172.6 303.4h0M162.6 313.1h0M170.3 304.1h0M133.1 301.2h0M182.6 291.4h0M143.4 289.5h0M171.3 302.5h0M166.6 270.9h0M175.3 284.5h0M130.1 316.4h0M163.1 314.8h0M173.8 294.4h0M163.4 305.5h0M145.6 284.7h0M166.0 302.4h0M159.8 310.2h0M138.2 290.2h0M151.1 290.4h0M167.4 264.6h0M153.2 293.7h0M159.4 311.6h0M184.8 296.1h0M143.7 282.5h0M171.6 278.5h0M174.5 283.1h0M151.0 285.5h0M139.1 290.6h0M167.6 275.5h0M151.8 297.2h0M148.9 300.3h0M177.0 294.7h0M171.3 306.8h0M152.7 315.4h0M138.3 290.7h0M133.0 299.2h0M174.3 300.8h0M130.1 318.3h0M165.9 303.8h0M160.1 285.3h0M174.3 281.6h0M157.7 290.1h0M166.6 285.8h0M162.0 307.1h0M149.0 281.6h0M170.1 285.4h0M131.8 311.2h0M167.2 312.6h0M167.8 292.3h0M171.1 287.4h0M140.4 307.0h0M167.0 266.2h0M175.2 298.2h0M143.2 291.6h0M164.3 301.4h0M147.3 297.7h0M152.0 285.8h0M151.0 292.1h0M164.3 265.1h0M169.6 302.2h0M164.7 303.5h0M169.2 307.6h0M147.7 292.2h0M164.6 307.4h0M139.5 310.9h0M164.5 314.9h0M182.3 293.0h0M168.5 313.9h0M170.4 305.2h0M165.7 315.1h0M179.6 292.6h0M169.1 304.7h0M181.7 293.2h0M143.4 290.7h0M167.9 309.5h0M149.7 284.1h0M160.1 313.6h0M173.0 285.0h0M171.0 299.2h0M151.2 281.8h0M136.2 293.1h0M148.1 285.0h0M154.4 305.0h0M167.5 281.0h0M165.4 301.8h0M160.8 310.2h0M170.0 283.6h0M131.1 321.6h0M148.6 291.7h0M150.7 302.8h0M159.9 309.4h0M151.8 282.0h0M130.5 308.9h0M155.8 308.7h0M140.6 303.3h0M141.8 289.6h0M138.9 307.8h0M166.5 299.6h0M164.7 318.7h0M168.8 304.6h0M150.1 285.6h0M141.0 306.9h0M131.4 312.0h0M150.2 287.3h0M144.8 303.3h0M156.8 287.6h0M145.7 293.4h0M151.5 301.1h0M134.4 301.2h0M149.8 300.3h0M140.3 312.3h0M168.6 279.0h0M168.8 271.5h0M166.8 312.3h0M166.6 280.4h0M147.0 290.5h0M165.4 301.9h0M167.4 286.9h0M172.5 301.7h0M183.4 297.1h0M146.8 297.1h0M143.6 297.7h0M167.2 280.1h0M168.3 302.9h0M169.3 287.7h0M165.2 289.9h0M159.9 305.2h0M151.5 309.1h0M173.8 304.2h0M169.6 282.9h0M148.5 303.4h0M144.3 285.8h0M142.1 299.0h0M165.9 298.1h0M166.5 279.4h0M158.1 318.7h0M178.5 292.7h0M162.2 289.7h0M146.2 293.8h0M164.5 282.8h0M171.6 284.6h0M167.2 280.0h0M168.9 273.8h0M164.5 294.8h0M173.3 289.5h0M156.3 304.8h0M152.6 282.6h0M158.7 293.8h0M158.5 301.2h0M164.3 317.9h0M161.0 286.9h0M166.8 274.3h0M137.4 292.0h0M173.4 304.2h0M161.3 308.1h0M158.5 309.1h0M165.9 269.8h0M173.7 292.9h0M172.9 296.4h0M158.1 298.5h0M163.6 289.2h0M132.3 320.8h0M148.4 288.0h0M131.8 321.0h0M137.7 299.7h0M149.4 288.3h0M169.5 289.5h0M138.9 311.9h0M172.6 303.9h0M165.6 281.7h0M158.0 282.7h0M146.3 292.8h0M169.0 294.7h0M150.0 303.6h0M167.2 308.9h0M169.9 280.9h0M169.3 287.0h0M151.6 303.0h0M156.7 315.8h0M183.9 295.4h0M170.0 297.2h0M164.5 285.9h0M173.3 304.8h0M148.9 303.7h0M160.4 314.0h0M173.8 291.1h0M134.2 299.9h0M168.0 271.8h0M152.1 286.9h0M168.3 281.6h0M164.7 304.4h0M164.7 305.5h0M148.0 284.0h0M163.9 316.2h0M165.5 289.6h0M162.8 312.4h0M168.9 307.4h0M157.6 300.6h0M136.0 292.5h0M170.3 297.3h0M164.1 312.3h0M167.1 308.7h0M168.5 273.5h0M182.9 298.3h0M166.4 278.9h0M159.9 300.5h0M165.7 310.4h0M169.4 300.1h0M163.7 305.8h0M145.7 289.7h0M170.3 280.8h0M159.6 281.6h0M164.7 311.5h0M167.7 290.8h0M147.2 292.5h0M141.1 302.6h0M140.2 300.9h0M168.9 289.0h0M143.2 298.6h0M137.9 309.3h0M162.6 307.4h0M172.3 283.6h0M167.4 308.4h0M154.6 282.8h0M171.2 278.5h0M141.8 283.2h0M160.9 290.6h0M166.3 303.8h0M169.1 282.2h0M167.6 269.8h0M159.8 293.7h0M166.3 270.3h0M180.6 292.5h0M159.8 282.6h0M154.1 309.9h0M166.8 314.4h0M133.1 322.6h0M167.2 312.4h0M165.0 312.7h0M129.8 311.6h0M167.4 304.1h0M167.7 279.5h0M169.6 297.5h0M166.1 300.9h0M151.9 284.7h0M172.0 283.0h0M165.4 303.0h0M167.6 276.9h0M136.8 315.3h0M149.9 288.3h0M161.5 309.9h0M165.7 273.9h0M145.2 306.8h0M156.6 315.0h0M148.8 302.9h0M158.7 288.2h0M142.3 298.5h0M159.9 310.1h0M173.6 300.5h0M166.0 292.7h0M174.2 302.8h0M137.8 289.5h0M170.7 301.4h0M165.6 309.3h0M161.3 305.6h0M174.3 281.9h0M178.8 300.2h0M158.5 288.6h0M158.6 305.6h0M130.5 321.8h0M152.1 282.2h0M128.2 308.7h0M180.7 290.7h0M170.3 302.1h0M151.8 283.2h0M174.0 303.1h0M156.2 285.2h0M162.5 314.7h0M162.3 279.5h0M162.4 324.1h0M157.7 299.2h0M151.3 287.6h0M157.5 292.5h0M161.3 309.1h0M168.3 281.0h0M165.8 310.8h0M137.9 301.8h0M160.0 299.1h0M176.4 299.5h0M172.7 300.0h0M142.2 302.9h0M151.2 282.8h0M169.9 290.0h0M156.5 306.8h0M164.4 305.2h0M175.6 297.9h0M173.2 302.0h0M170.8 297.9h0M150.1 302.4h0M173.1 291.6h0M162.3 302.2h0M138.8 289.1h0M168.8 306.3h0M140.4 303.2h0M163.0 316.8h0M145.5 301.7h0M133.0 303.3h0M141.8 288.9h0M171.2 307.0h0M167.0 311.2h0M168.6 303.3h0M138.9 297.9h0M165.3 304.8h0M175.9 293.8h0M139.3 292.2h0M168.2 312.9h0M168.8 296.6h0M137.7 303.1h0M140.5 297.8h0M168.5 302.8h0M159.2 308.7h0M168.0 302.7h0M169.0 278.4h0M162.3 301.0h0M166.0 305.1h0M147.0 291.8h0M165.1 303.0h0M171.2 306.6h0M163.6 308.5h0M138.3 293.8h0M145.8 296.0h0M160.8 303.2h0M138.9 301.9h0M174.6 302.6h0M162.1 281.7h0M132.3 324.6h0M148.7 306.8h0M175.8 295.6h0M167.4 299.2h0M164.0 308.4h0M147.1 299.1h0M143.1 298.8h0M162.7 294.6h0M153.5 296.8h0M166.1 299.4h0M183.8 296.2h0M143.1 300.9h0M162.7 289.6h0M135.9 298.7h0M151.4 303.8h0M174.8 302.4h0M166.7 302.8h0M138.2 296.9h0M167.1 309.1h0M167.2 301.9h0M133.1 322.2h0M166.4 280.9h0M145.1 298.4h0M151.6 295.1h0M167.2 303.6h0M173.8 289.1h0M165.7 314.1h0M160.0 304.8h0M172.4 281.6h0M163.6 304.8h0M154.3 299.3h0M146.7 287.0h0M161.0 295.3h0M161.2 305.8h0M151.7 299.6h0M164.9 281.3h0M139.9 299.7h0M165.8 279.2h0M151.6 280.2h0M169.0 308.2h0M159.9 311.3h0M162.3 285.4h0M169.5 297.9h0M165.9 314.1h0M175.5 286.0h0M160.3 286.4h0M130.9 311.4h0M167.1 284.8h0M163.0 315.7h0M136.9 320.0h0M154.4 309.2h0M171.5 277.7h0M163.0 280.4h0M167.1 306.2h0M164.9 311.3h0M149.8 289.3h0M140.8 307.6h0M170.7 302.8h0M168.2 305.1h0M148.9 286.3h0M154.6 309.2h0M138.5 299.6h0M161.3 314.7h0M166.5 314.5h0M171.4 280.0h0M171.8 304.5h0M173.5 289.9h0M158.7 322.5h0M158.0 292.5h0M143.1 306.9h0M143.2 285.2h0M135.5 293.7h0M159.4 283.9h0M170.4 305.0h0M174.1 296.2h0M147.6 299.1h0M141.6 302.5h0M170.5 275.5h0M169.8 301.4h0M166.9 311.1h0M157.3 307.9h0M178.3 300.0h0M167.8 285.3h0M163.9 317.9h0M177.4 291.6h0M128.3 317.7h0M162.2 284.9h0M144.8 293.0h0M143.5 308.3h0M165.8 311.5h0M158.7 293.8h0M168.5 310.8h0M160.3 286.0h0M148.7 280.9h0M172.4 290.7h0M159.1 294.7h0M162.1 296.9h0M164.8 302.8h0M160.1 311.5h0M151.6 291.0h0M169.0 277.0h0M143.4 291.0h0M171.8 289.5h0M134.4 313.9h0M135.9 317.9h0M167.4 312.3h0M163.2 305.5h0M160.1 310.8h0M133.9 299.8h0M161.5 290.0h0M146.0 288.1h0M141.6 295.5h0M169.2 302.3h0M167.4 272.4h0M163.0 314.7h0M166.7 287.0h0M164.2 315.3h0M171.6 303.5h0M170.8 293.9h0M135.3 314.9h0M164.6 277.3h0M165.0 309.8h0M138.1 286.5h0M181.6 296.4h0M168.9 283.9h0M148.5 298.5h0M172.8 279.6h0M167.8 294.8h0M149.7 303.0h0M166.8 266.8h0M166.4 276.5h0M144.7 297.0h0M165.1 305.4h0M174.9 281.5h0M166.7 299.7h0M162.8 307.5h0M139.1 296.4h0M161.6 302.5h0M166.8 313.2h0M156.1 316.9h0M171.6 298.9h0M164.6 312.6h0M153.2 284.5h0M169.6 279.0h0M169.8 282.0h0M170.3 280.5h0M180.0 295.6h0M169.2 305.1h0M136.0 300.3h0M172.2 286.9h0M144.6 307.8h0M170.5 308.2h0M143.9 285.2h0M173.2 294.0h0M174.3 291.0h0M160.2 287.0h0M145.4 295.8h0M159.6 296.1h0M170.9 294.9h0M158.5 291.4h0M172.2 299.1h0M141.6 306.2h0M179.6 292.7h0M155.1 316.4h0M159.6 283.2h0M169.0 301.4h0M153.1 286.3h0M160.3 289.7h0M174.3 296.4h0M130.6 309.2h0M128.6 305.3h0M146.0 283.9h0M168.9 306.1h0M149.8 299.2h0M163.7 308.2h0M131.2 304.4h0M163.4 283.0h0M167.7 310.9h0M174.3 301.0h0M166.2 303.8h0M158.9 315.2h0M163.6 283.7h0M165.8 299.6h0M162.8 311.7h0M149.6 287.3h0M171.6 283.2h0M141.6 290.8h0M160.5 291.4h0M133.4 301.7h0M160.3 306.3h0M169.2 287.5h0M157.0 288.5h0M140.3 290.9h0M170.5 292.5h0M162.6 309.9h0M134.1 296.2h0M167.0 306.4h0M170.6 288.0h0M167.9 268.6h0M168.9 292.2h0M153.5 319.0h0M161.0 314.0h0M149.4 284.6h0M169.9 289.7h0M167.4 305.1h0M179.1 291.8h0M141.8 302.8h0M164.3 286.7h0M167.5 307.9h0M168.4 278.6h0M171.2 279.2h0M160.0 287.1h0M158.7 308.3h0M163.2 295.6h0M166.4 267.8h0M168.3 305.9h0M167.1 266.9h0M177.6 290.5h0M145.1 283.8h0M166.5 279.2h0M163.0 311.2h0M169.3 276.2h0M166.7 305.6h0M168.7 305.9h0M166.7 267.5h0M168.4 287.8h0M133.6 322.2h0M179.4 293.0h0M165.5 299.0h0M165.0 309.6h0M173.7 293.8h0M142.4 300.4h0M158.8 282.8h0M162.4 314.8h0M167.1 308.4h0M165.6 304.8h0M153.8 304.8h0M165.6 291.7h0M169.0 311.4h0M163.9 312.8h0M139.2 287.1h0M172.3 279.3h0M143.6 293.9h0M163.7 316.6h0M160.2 305.7h0M173.1 298.2h0M162.9 306.8h0M151.3 287.8h0M181.9 290.6h0M168.5 304.5h0M172.4 308.6h0M168.4 315.0h0M160.9 314.0h0M171.6 294.2h0M169.1 281.0h0M143.0 298.8h0M154.2 309.7h0M165.8 283.0h0M169.7 272.7h0M147.8 291.9h0M161.8 314.8h0M171.4 307.6h0M162.7 288.1h0M131.9 306.3h0M162.7 313.9h0M161.0 294.9h0M159.2 282.6h0M139.7 286.5h0M146.3 299.2h0M129.4 307.9h0M142.6 293.3h0M175.3 288.8h0M129.2 318.8h0M151.7 286.2h0M171.7 309.4h0M161.8 306.2h0M165.5 310.5h0M159.3 295.7h0M164.4 307.7h0M159.6 302.7h0M151.5 301.2h0M172.0 307.9h0M129.8 310.7h0M170.4 294.5h0M166.6 288.1h0M157.0 284.3h0M165.4 316.1h0M168.6 271.1h0M159.5 296.3h0M164.7 312.5h0M166.2 299.9h0M160.9 293.0h0M142.3 289.6h0M167.9 279.3h0M150.7 280.2h0M166.9 315.6h0M138.2 314.1h0M131.2 312.7h0M147.2 290.2h0M163.7 307.0h0M165.2 295.1h0M150.4 299.0h0M161.2 281.5h0M166.1 267.8h0M166.5 290.3h0M169.0 307.2h0M173.7 282.7h0M172.7 286.5h0M145.0 288.7h0M139.1 274.4h0M127.8 316.7h0M165.0 281.2h0M161.1 284.8h0M143.6 284.4h0M157.7 287.0h0M142.8 297.6h0M155.8 302.5h0M168.5 267.4h0M166.0 285.7h0M148.9 300.3h0M164.6 307.5h0M166.4 281.2h0M168.3 277.9h0M175.5 292.0h0M170.0 284.7h0M156.8 317.6h0M170.3 300.6h0M165.9 305.5h0M178.1 296.0h0M133.0 299.7h0M169.5 289.6h0M171.4 303.0h0M164.3 287.6h0M174.6 285.9h0M170.5 306.7h0M166.0 303.2h0M172.3 298.0h0M149.1 302.9h0M170.7 291.9h0M156.6 317.3h0M160.7 292.1h0M138.3 291.5h0M166.9 304.9h0M157.5 292.7h0M160.6 294.7h0M145.8 301.5h0M170.3 303.0h0M164.1 317.6h0M142.7 304.3h0M164.1 295.6h0M141.9 292.7h0M181.1 291.4h0M164.1 283.3h0M177.7 292.9h0M148.1 286.8h0M165.0 293.2h0M164.5 306.3h0M158.1 301.7h0M139.6 288.9h0M166.8 292.0h0M146.9 289.4h0M143.4 297.2h0M169.2 289.6h0M170.6 303.0h0M165.6 305.1h0M138.2 286.9h0M168.7 306.8h0M130.9 303.8h0M140.7 301.9h0M152.4 280.3h0M168.2 303.3h0M160.5 305.2h0M171.3 289.0h0M169.6 281.2h0M139.9 286.0h0M163.5 280.4h0M166.0 309.0h0M155.2 286.0h0M151.2 293.0h0M158.1 291.5h0M170.2 290.1h0M174.3 305.9h0M164.2 314.5h0M172.0 302.6h0M169.9 308.6h0M154.7 305.3h0M164.9 311.7h0M145.2 290.7h0M157.9 285.0h0M140.1 289.2h0M146.9 289.5h0M164.8 304.4h0M146.4 307.6h0M139.7 294.4h0M143.9 308.3h0M163.2 307.9h0M177.7 299.6h0M132.1 321.9h0M149.4 284.4h0M167.2 311.3h0M136.6 301.8h0M179.1 297.7h0M141.4 294.4h0M147.1 302.3h0M166.5 307.9h0M164.9 309.0h0M137.1 297.2h0M168.0 270.8h0M177.7 298.8h0M170.5 286.1h0M162.3 298.5h0M138.1 301.3h0M159.3 283.6h0M168.0 311.8h0M168.2 299.3h0M154.8 315.8h0M164.1 310.0h0M167.7 311.1h0M164.4 287.3h0M166.1 288.2h0M140.8 291.5h0M133.5 322.7h0M164.3 315.2h0M170.1 304.2h0M179.9 297.0h0M163.9 316.0h0M170.5 281.7h0M143.5 302.8h0M149.7 294.8h0M164.7 306.9h0M167.1 279.9h0M159.8 322.2h0M152.9 287.4h0M141.7 289.4h0M169.2 310.7h0M162.6 309.0h0M162.8 314.9h0M169.1 294.7h0M129.3 315.0h0M160.9 287.6h0M180.3 294.7h0M184.0 292.3h0M145.1 301.3h0M164.6 317.5h0M162.9 281.4h0M143.9 302.7h0M170.4 279.1h0M141.6 308.0h0M175.3 298.3h0M166.9 291.9h0M177.2 297.8h0M171.8 282.4h0M179.6 299.5h0M160.0 309.5h0M168.3 289.4h0M144.1 304.2h0M132.5 302.1h0M132.1 308.8h0M173.4 300.9h0M149.9 289.5h0M138.9 293.1h0M169.3 294.0h0M161.7 298.5h0M161.2 313.9h0M166.9 269.6h0M141.7 290.1h0M167.3 267.0h0M168.0 289.3h0M159.5 318.3h0M161.8 305.7h0M160.0 282.2h0M141.7 300.1h0M171.8 292.6h0M130.2 318.2h0M156.5 315.2h0M159.8 294.6h0M164.0 315.2h0M170.9 300.3h0M141.8 307.5h0M166.1 304.9h0M146.6 289.6h0M162.8 291.7h0M136.0 298.8h0M165.1 314.1h0M153.0 304.1h0M161.3 299.9h0M167.0 304.1h0M128.8 311.8h0M164.8 283.8h0M134.9 304.2h0M167.9 302.3h0M167.4 293.3h0M165.4 316.5h0M136.3 272.7h0M169.0 307.8h0M166.4 311.1h0M167.2 310.5h0M144.3 304.6h0M132.1 303.4h0M155.4 282.7h0M166.7 305.3h0M174.6 305.0h0M163.7 316.0h0M148.0 285.4h0M162.2 298.2h0M177.0 292.8h0M175.5 287.0h0M132.8 302.6h0M172.3 306.3h0M162.8 315.3h0M168.3 264.7h0M165.4 270.9h0M131.5 322.2h0M153.8 315.9h0M152.7 285.3h0M132.3 322.9h0M170.6 300.4h0M173.3 295.5h0M134.2 298.3h0M148.6 290.9h0M167.8 308.0h0M141.5 310.6h0M168.7 279.3h0M144.8 302.9h0M181.9 296.9h0M147.1 299.3h0M182.4 295.1h0M143.2 300.3h0M157.8 306.2h0M128.7 311.4h0M166.5 306.7h0M169.8 308.4h0M145.8 290.3h0M165.3 302.7h0M170.1 307.4h0M149.8 294.4h0M164.7 284.9h0M129.6 314.6h0M169.1 301.3h0M168.0 277.4h0M163.3 308.3h0M150.6 310.2h0M169.4 277.7h0M156.8 307.4h0M168.4 285.3h0M130.5 303.0h0M168.7 293.4h0M173.8 287.4h0M151.7 290.3h0M169.1 276.9h0M142.1 304.6h0M153.1 301.3h0M169.2 285.8h0M168.1 288.2h0M164.2 312.1h0M156.6 304.7h0M172.3 306.7h0M162.2 313.1h0M167.1 302.4h0M159.6 311.9h0M163.4 305.2h0M165.4 304.5h0M147.9 303.8h0M134.3 320.0h0M167.1 282.4h0M145.0 307.7h0M165.6 303.2h0M169.0 292.7h0M162.3 311.9h0M177.3 293.1h0M134.0 299.9h0M164.7 282.8h0M160.4 293.3h0M144.8 302.5h0M133.5 303.7h0M177.0 296.2h0M164.2 307.6h0M167.5 278.7h0M164.5 279.8h0M173.4 303.6h0M166.2 307.0h0M141.4 305.2h0M168.7 304.2h0M167.3 279.2h0M172.4 300.1h0M164.9 308.3h0M165.4 280.3h0M153.7 297.8h0M150.5 286.9h0M167.9 279.8h0M165.2 315.8h0M169.9 305.5h0M160.7 307.6h0M151.9 284.3h0M159.3 307.6h0M142.9 286.8h0M163.0 307.7h0M129.9 319.6h0M162.6 303.1h0M144.4 303.1h0M169.1 307.9h0M149.1 284.0h0M147.3 306.4h0M156.1 308.2h0M165.2 268.2h0M168.2 311.7h0M168.8 290.7h0M165.6 284.0h0M159.6 311.7h0M169.1 275.4h0M166.1 308.8h0M162.0 310.3h0M158.4 319.8h0M140.8 290.3h0M164.6 297.6h0M152.4 302.1h0M144.3 297.0h0M161.0 315.1h0M139.8 298.8h0M130.5 316.4h0M146.2 283.9h0M157.0 285.1h0M168.7 268.1h0M171.4 276.6h0M173.7 297.4h0M167.2 272.9h0M132.2 302.6h0M181.3 290.2h0M161.4 310.2h0M150.3 289.2h0M161.3 302.6h0M151.7 281.5h0M162.3 290.2h0M132.6 303.7h0M172.6 281.1h0M134.6 308.9h0M131.5 307.5h0M165.3 297.3h0M143.8 300.3h0M166.0 314.0h0M146.3 281.2h0M151.6 294.2h0M151.0 291.5h0M164.7 314.3h0M138.2 294.3h0M162.4 297.6h0M172.3 288.1h0M139.0 314.4h0M179.5 294.5h0M161.5 291.6h0M169.4 294.8h0M179.9 293.8h0M161.6 314.6h0M164.9 312.0h0M161.4 291.7h0M176.7 299.5h0M159.6 303.2h0M142.3 304.3h0M170.3 306.5h0M131.8 315.0h0M173.0 303.3h0M130.1 303.9h0M165.7 313.9h0M172.1 285.9h0M154.2 283.4h0M145.3 289.7h0M137.4 297.0h0M169.0 303.2h0M145.7 303.1h0M133.4 309.1h0M130.6 310.9h0M162.9 290.3h0M130.9 302.5h0M173.8 279.7h0M170.4 268.4h0M151.6 283.6h0M179.6 297.7h0M145.3 282.8h0M157.1 288.4h0M151.0 286.5h0M142.9 289.4h0M147.0 303.7h0M171.5 303.3h0M165.3 312.5h0M165.9 310.9h0M152.8 297.1h0M162.1 283.2h0M169.8 300.0h0M142.6 299.0h0M160.2 301.3h0M131.2 313.1h0M150.6 296.0h0M130.3 310.9h0M167.6 308.3h0M149.6 299.4h0M151.9 302.6h0M133.4 301.5h0M159.8 314.8h0M173.1 294.5h0M162.8 313.8h0M148.4 292.6h0M162.9 307.1h0M168.3 312.1h0M150.1 290.8h0M151.7 298.8h0M158.9 291.5h0M167.4 310.3h0M144.2 294.0h0M155.5 314.6h0M165.6 309.7h0M175.2 294.6h0M157.2 314.1h0M147.0 296.9h0M147.3 282.0h0M164.4 283.5h0M153.5 298.6h0M140.0 296.4h0M167.1 278.9h0M177.1 292.8h0M160.2 318.1h0M166.3 305.6h0M164.3 302.5h0M167.3 270.5h0M163.1 315.4h0M174.3 301.0h0M172.5 285.2h0M167.5 298.4h0M173.3 288.1h0M163.9 301.9h0M163.6 288.2h0M166.5 267.7h0M165.6 286.6h0M158.5 303.0h0M159.1 305.7h0M163.6 314.1h0M141.2 302.0h0M135.7 299.2h0M141.0 290.5h0M175.1 303.2h0M167.1 303.3h0M129.7 309.0h0M159.3 282.8h0M169.3 309.5h0M143.3 297.4h0M161.8 305.8h0M174.6 299.4h0M141.4 289.7h0M138.5 290.0h0M140.2 312.3h0M173.1 304.3h0M165.0 310.0h0M174.7 285.6h0M144.1 284.1h0M158.8 283.9h0M131.3 321.2h0M154.8 285.9h0M168.4 275.9h0M135.6 321.1h0M160.6 313.5h0M164.9 281.7h0M162.8 277.7h0M176.2 293.8h0M159.5 322.3h0M173.4 303.3h0M162.0 310.3h0M150.5 293.6h0M158.2 307.3h0M168.1 304.1h0M171.6 298.5h0M151.6 292.0h0M168.7 315.6h0M166.7 279.2h0M141.3 302.4h0M166.2 307.8h0M167.0 305.8h0M141.5 303.6h0M171.0 293.3h0M166.1 296.4h0M146.6 289.2h0M150.7 289.4h0M155.9 282.3h0M140.7 294.7h0M173.7 291.2h0M168.9 274.6h0M140.8 289.3h0M145.6 288.2h0M181.3 294.5h0M160.1 291.3h0M143.3 305.0h0M134.3 297.9h0M129.7 316.3h0M141.5 284.4h0M168.6 276.2h0M143.6 296.3h0M172.4 292.3h0M139.5 304.4h0M164.0 300.7h0M142.6 287.0h0M167.0 265.8h0M166.3 307.6h0M170.6 310.2h0M159.4 299.7h0M162.5 277.3h0M161.1 311.1h0M137.7 291.2h0M131.7 303.9h0M168.5 299.1h0M145.7 289.4h0M169.4 278.8h0M157.8 285.2h0M131.0 320.2h0M164.6 307.9h0M146.8 296.5h0M146.0 284.5h0M168.9 313.0h0M169.6 277.7h0M174.4 306.0h0M136.1 313.8h0M146.9 309.5h0M173.8 287.4h0M143.9 303.3h0M168.2 302.4h0M179.5 291.6h0M145.8 305.7h0M137.3 304.9h0M167.3 311.8h0M150.0 300.1h0M141.0 287.5h0M162.5 314.9h0M179.8 292.0h0M166.7 308.4h0M156.8 300.9h0M147.8 305.6h0M157.3 319.0h0M145.8 307.0h0M162.5 312.3h0M158.4 288.5h0M166.0 311.5h0M167.3 311.6h0M130.0 302.9h0M130.5 322.0h0M172.5 300.0h0M176.2 294.0h0M143.6 291.6h0M162.0 293.9h0M149.7 289.4h0M172.2 297.5h0M140.0 301.8h0M165.8 270.8h0M168.9 268.9h0M150.2 285.3h0M166.8 268.9h0M169.5 301.7h0M165.4 273.2h0M149.8 288.3h0M151.3 297.4h0M131.8 304.0h0M127.7 313.9h0M169.6 297.4h0M146.2 281.8h0M138.6 290.9h0M160.7 312.7h0M151.6 287.1h0M175.8 296.2h0M164.6 306.3h0M169.5 286.2h0M150.0 296.4h0M140.8 302.6h0M163.3 280.0h0M167.2 295.7h0M151.0 287.5h0M161.6 289.6h0M163.4 282.5h0M177.0 300.9h0M131.9 321.1h0M167.0 269.9h0M140.7 292.8h0M138.1 297.8h0M174.5 303.5h0M143.7 305.2h0M167.1 265.8h0M143.7 299.6h0M157.3 301.6h0M129.7 313.0h0M131.4 308.5h0M141.5 304.9h0M139.7 303.2h0M159.0 306.1h0M166.6 288.3h0M166.0 315.5h0M169.4 290.2h0M136.2 296.0h0M145.3 284.5h0M141.5 291.9h0M163.8 297.9h0M158.2 307.7h0M166.5 287.3h0M169.4 306.5h0M152.8 290.9h0M169.7 302.3h0M159.1 286.8h0M163.9 301.7h0M162.6 305.9h0M137.3 292.1h0M172.4 296.2h0M172.2 301.5h0M164.7 303.7h0M142.6 291.0h0M172.5 301.9h0M167.6 311.7h0M150.7 313.0h0M160.8 304.9h0M140.7 297.7h0M131.8 304.8h0M139.6 292.0h0M143.7 304.5h0M156.1 302.4h0M160.5 313.9h0M155.8 323.4h0M190.8 294.1h0M199.1 304.9h0M194.2 292.0h0M157.0 302.0h0M158.1 303.6h0M155.0 304.0h0M199.2 299.2h0M181.3 298.2h0M195.4 292.3h0M199.0 307.7h0M168.4 296.7h0M193.9 299.1h0M200.8 308.1h0M181.7 289.9h0M196.5 299.5h0M196.3 305.1h0M199.1 307.6h0M192.4 295.3h0M182.6 298.2h0M200.8 310.5h0M154.1 308.7h0M175.4 301.6h0M193.4 297.7h0M155.7 316.7h0M168.9 299.7h0M193.1 303.8h0M171.6 297.4h0M186.2 290.0h0M172.8 295.4h0M191.8 300.9h0M170.6 298.9h0M167.9 312.1h0M188.6 300.0h0M160.0 314.3h0M196.2 308.2h0M181.4 295.8h0M199.4 306.7h0M189.1 294.5h0M193.5 293.6h0M161.4 299.1h0M156.0 312.9h0M196.5 312.3h0M197.7 306.0h0M174.7 299.7h0M171.3 296.2h0M184.5 298.2h0M156.4 306.1h0M159.8 308.5h0M181.2 291.9h0M158.5 326.7h0M157.7 307.0h0M198.3 316.5h0M193.6 304.8h0M188.4 293.8h0M153.5 314.8h0M197.2 307.3h0M174.2 300.0h0M154.3 311.9h0M191.7 288.2h0M153.4 307.1h0M188.1 293.8h0M169.4 301.3h0M188.3 290.8h0M189.9 293.1h0M165.7 299.0h0M199.7 306.6h0M169.0 302.4h0M163.9 306.5h0M156.7 319.8h0M189.4 296.4h0M198.8 307.7h0M169.8 298.0h0M195.4 292.4h0M160.4 318.1h0M160.3 304.2h0M191.2 295.5h0M182.5 292.2h0M185.1 293.7h0M158.9 318.4h0M190.2 301.1h0M191.9 300.7h0M159.7 307.7h0M196.3 295.4h0M187.0 293.2h0M169.2 302.1h0M192.9 300.5h0M192.9 297.1h0M192.2 302.8h0M192.7 291.8h0M192.3 290.9h0M158.8 325.0h0M174.0 298.9h0M199.6 308.1h0M159.5 297.5h0M159.7 299.4h0M195.7 301.9h0M193.5 290.2h0M168.7 298.1h0M191.1 291.8h0M166.2 302.2h0M164.8 298.9h0M184.4 289.3h0M193.6 299.3h0M187.1 293.3h0M178.9 296.5h0M183.9 285.6h0M156.8 321.1h0M190.3 292.1h0M170.0 299.5h0M187.0 296.5h0M196.0 302.3h0M196.1 298.0h0M187.1 288.8h0M195.4 291.1h0M186.8 292.3h0M186.0 289.6h0M158.7 311.9h0M192.6 300.8h0M194.1 295.1h0M193.3 293.8h0M155.7 320.3h0M198.1 309.4h0M195.4 305.9h0M189.5 289.2h0M196.2 290.4h0M155.8 308.4h0M183.4 296.8h0M161.4 305.5h0M197.6 299.1h0M180.1 294.9h0M192.9 292.3h0M187.5 292.0h0M158.7 324.7h0M193.9 304.4h0M188.8 286.6h0M196.2 305.0h0M192.4 298.9h0M196.6 310.6h0M196.2 310.1h0M157.2 299.9h0M187.4 296.3h0M182.3 291.3h0M197.8 301.0h0M191.9 297.2h0M167.1 302.8h0M175.5 297.4h0M180.6 296.6h0M186.1 291.8h0M161.8 323.9h0M164.6 298.5h0M185.7 296.4h0M195.8 301.2h0M197.3 303.1h0M175.4 309.0h0M183.3 299.4h0M183.8 287.2h0M197.4 303.1h0M195.2 296.2h0M155.7 309.1h0M154.9 321.1h0M156.5 316.3h0M191.9 293.8h0M194.8 301.3h0M189.5 290.9h0M196.2 299.5h0M163.0 299.3h0M183.2 290.5h0M161.8 304.1h0M199.7 312.6h0M158.8 312.7h0M196.8 309.6h0M185.5 297.2h0M154.2 314.3h0M180.8 290.9h0M159.5 315.8h0M192.8 294.7h0M191.3 295.9h0M151.7 314.3h0M182.4 299.6h0M158.4 321.5h0M187.6 297.3h0M182.4 289.6h0M188.8 292.7h0M200.9 306.4h0M162.3 319.3h0M168.6 299.6h0M181.0 296.3h0M188.3 295.6h0M190.2 286.7h0M189.0 292.9h0M185.7 287.2h0M165.9 302.1h0M200.9 314.6h0M161.3 324.2h0M158.1 322.6h0M160.9 299.0h0M186.3 300.1h0M191.0 296.7h0M195.4 295.8h0M180.3 298.5h0M164.4 316.4h0M195.7 309.3h0M163.2 300.0h0M173.2 300.1h0M190.5 299.4h0M188.1 298.2h0M187.6 296.3h0M160.2 301.8h0M157.3 298.2h0M153.7 315.8h0M161.9 308.9h0M156.9 306.6h0M152.9 306.6h0M196.7 296.1h0M172.5 299.5h0M163.1 301.6h0M156.2 306.9h0M197.9 309.8h0M195.9 299.2h0M191.7 292.1h0M195.9 304.6h0M192.8 289.8h0M196.2 293.6h0M181.9 293.3h0M162.6 322.5h0M183.4 289.3h0M173.7 298.3h0M195.8 311.0h0M187.0 296.7h0M199.2 314.9h0M182.5 297.5h0M197.2 303.9h0M185.2 298.7h0M197.1 296.7h0M157.4 319.9h0M196.8 305.8h0M187.9 297.5h0M196.0 309.2h0M186.5 296.9h0M192.9 306.4h0M181.6 295.4h0M166.6 300.7h0M167.9 299.0h0M193.0 304.5h0M182.1 297.8h0M186.5 289.1h0M162.9 324.3h0M170.0 296.6h0M163.3 298.6h0M157.4 313.0h0M183.3 294.7h0M181.3 293.6h0M199.3 313.1h0M162.0 322.8h0M199.2 303.3h0M175.8 295.3h0M190.6 302.0h0M160.5 305.9h0M187.4 300.3h0M187.6 294.9h0M197.6 309.3h0M192.4 293.8h0M154.6 311.4h0M160.4 310.3h0M151.5 310.3h0M150.6 310.7h0M159.8 319.0h0M155.7 316.8h0M191.7 291.3h0M198.5 297.5h0M179.3 295.8h0M196.3 292.1h0M156.0 299.9h0M186.8 286.8h0M200.3 315.6h0M199.3 299.9h0M189.8 295.8h0M181.6 291.1h0M192.2 294.5h0M160.4 303.9h0M157.8 304.8h0M178.8 292.8h0M190.2 303.0h0M198.6 310.2h0M180.5 292.0h0M184.1 287.9h0M173.4 301.9h0M167.7 295.1h0M195.0 309.5h0M170.9 297.1h0M192.8 301.2h0M198.5 312.6h0M197.9 311.8h0M184.5 286.9h0M171.8 300.7h0M178.5 295.6h0M160.6 311.3h0M195.7 302.6h0M168.3 298.5h0M155.0 303.6h0M158.4 311.4h0M158.8 320.4h0M189.8 293.2h0M196.4 297.0h0M194.5 293.0h0M194.2 294.6h0M190.2 287.0h0M169.6 296.9h0M184.8 287.0h0M193.1 301.8h0M195.9 299.0h0M161.9 326.1h0M177.3 296.5h0M195.2 295.8h0M182.1 288.9h0M195.9 298.1h0M164.5 312.8h0M197.7 304.1h0M162.1 296.1h0M176.8 296.7h0M195.3 310.3h0M166.7 312.1h0M153.3 311.7h0M200.8 306.9h0M159.6 312.2h0M159.0 304.0h0M187.5 297.2h0M165.1 297.8h0M185.0 288.4h0M195.2 306.0h0M188.1 299.4h0M188.2 299.0h0M155.8 309.4h0M181.0 295.0h0M156.9 304.7h0M168.5 303.8h0M197.9 306.0h0M161.4 310.5h0M167.3 302.1h0M198.6 298.7h0M197.7 295.7h0M200.7 311.5h0M157.5 312.6h0M177.0 298.4h0M196.5 293.6h0M167.5 305.3h0M157.7 318.6h0M193.2 291.7h0M158.0 314.9h0M186.1 293.4h0M165.6 303.1h0M190.1 287.6h0M197.9 298.4h0M174.7 295.8h0M157.5 311.6h0M189.5 292.7h0M200.9 309.7h0M183.7 298.8h0M155.7 302.0h0M177.1 295.9h0M185.3 296.7h0M159.4 299.2h0M164.0 301.1h0M186.5 289.1h0M187.0 299.9h0M191.3 290.0h0M199.2 311.7h0M194.8 293.0h0M167.7 299.0h0M163.9 302.8h0M156.1 307.3h0M186.3 295.9h0M194.9 303.5h0M161.3 303.2h0M193.3 291.2h0M152.2 306.0h0M166.6 296.2h0M180.2 295.2h0M192.0 303.0h0M170.9 302.3h0M157.5 301.4h0M194.9 307.0h0M176.8 300.3h0M183.8 288.5h0M194.5 294.1h0M198.1 309.2h0M159.1 302.9h0M189.1 296.1h0M199.4 305.1h0M187.0 288.8h0M196.7 301.6h0M186.6 299.7h0M155.7 316.1h0M184.1 291.0h0M183.7 295.4h0M185.9 287.2h0M157.8 306.3h0M170.7 300.7h0M186.8 291.6h0M201.3 313.5h0M179.4 294.8h0M193.0 305.3h0M159.8 311.4h0M169.3 297.5h0M156.3 309.6h0M188.9 298.5h0M162.3 296.3h0M196.5 301.6h0M157.1 322.0h0M153.1 303.5h0M199.0 307.0h0M149.2 313.8h0M156.9 313.3h0M186.7 292.3h0M180.8 291.7h0M184.2 288.9h0M162.7 302.5h0M184.1 294.4h0M158.3 311.5h0M197.2 310.1h0M183.9 296.9h0M166.4 295.0h0M185.5 300.4h0M199.7 314.3h0M196.6 311.3h0M172.1 299.2h0M166.9 296.9h0M186.4 295.3h0M197.1 300.9h0M193.8 294.5h0M195.7 306.7h0M196.8 292.8h0M185.9 287.5h0M198.6 301.0h0M180.0 303.7h0M186.4 287.0h0M186.8 301.1h0M169.9 308.9h0M168.5 298.2h0M162.4 304.0h0M181.4 297.0h0M158.9 306.9h0M179.2 299.5h0M186.7 298.2h0M191.0 292.7h0M189.6 289.0h0M196.6 309.7h0M191.8 292.1h0M155.6 312.9h0M169.5 297.2h0M185.7 291.0h0M198.2 313.0h0M193.1 293.3h0M202.6 311.1h0M174.8 302.3h0M163.0 298.9h0M197.5 300.5h0M192.0 302.8h0M158.6 315.5h0M184.1 288.0h0M191.0 289.4h0M182.3 290.0h0M199.2 307.6h0M201.7 310.1h0M199.4 302.7h0M176.2 300.1h0M172.0 302.1h0M184.5 292.9h0M194.2 304.8h0M157.9 320.3h0M199.3 303.5h0M195.6 310.8h0M158.8 315.5h0M191.6 290.3h0M166.2 298.5h0M198.9 303.8h0M196.9 298.3h0M191.9 290.0h0M200.1 305.1h0M196.4 310.1h0M199.4 311.9h0M193.3 297.2h0M160.1 302.0h0M171.9 297.2h0M184.7 297.7h0M183.7 295.0h0M184.1 294.4h0M187.4 286.8h0M186.2 291.0h0M193.7 295.7h0M198.6 307.9h0M196.6 298.1h0M186.5 293.8h0M159.1 322.8h0M200.9 309.1h0M175.5 295.3h0M187.2 290.3h0M167.5 302.1h0M196.4 309.8h0M180.0 294.7h0M185.9 293.2h0M189.2 299.2h0M153.2 311.5h0M165.8 296.2h0M184.1 297.5h0M179.5 297.3h0M197.6 296.8h0M171.9 299.5h0M182.6 288.1h0M173.0 301.3h0M165.1 301.4h0M151.8 316.1h0M152.9 313.1h0M158.2 319.0h0M156.3 320.8h0M200.5 315.0h0M198.9 315.7h0M194.7 291.4h0M171.5 300.8h0M157.1 318.6h0M158.6 309.7h0M198.5 305.1h0M167.9 299.6h0M173.1 298.5h0M191.5 292.5h0M152.6 307.9h0M192.4 305.1h0M185.8 291.5h0M199.8 315.5h0M156.9 320.7h0M160.9 321.3h0M174.5 294.8h0M197.7 302.0h0M188.0 299.0h0M189.6 291.9h0M190.4 295.7h0M168.9 298.6h0M199.0 315.3h0M191.5 297.3h0M187.8 293.3h0M177.4 294.7h0M174.9 295.3h0M194.2 298.0h0M194.3 289.4h0M198.2 294.2h0M181.7 294.3h0M186.8 299.4h0M189.8 289.8h0M184.7 295.9h0M161.2 306.5h0M161.8 299.9h0M161.9 300.3h0M180.6 290.1h0M166.0 300.4h0M176.3 298.9h0M195.4 296.6h0M182.3 297.8h0M189.1 286.3h0M168.2 300.2h0M168.8 301.5h0M195.6 304.0h0M187.5 292.8h0M153.0 316.5h0M194.5 300.9h0M171.9 303.0h0M164.1 302.3h0M186.3 287.4h0M156.1 305.0h0M188.9 300.2h0M193.2 291.4h0M188.2 289.3h0M187.5 292.7h0M193.5 295.0h0M184.8 293.2h0M198.8 313.9h0M195.8 308.8h0M192.9 301.4h0M177.5 298.7h0M188.8 300.9h0M182.3 293.7h0M185.0 292.6h0M194.1 308.2h0M158.7 319.4h0M188.6 286.0h0M198.4 311.6h0M169.2 298.1h0M192.5 300.3h0M160.0 321.7h0M159.8 305.7h0M158.2 304.4h0M156.3 315.5h0M154.3 304.3h0M160.4 319.8h0M192.9 293.6h0M190.5 291.8h0M192.0 287.1h0M184.5 288.0h0M195.3 298.8h0M190.1 293.4h0M200.2 307.1h0M191.5 303.1h0M166.4 309.4h0M202.2 310.8h0M165.9 305.3h0M197.8 297.3h0M195.7 310.0h0M179.6 294.7h0M152.2 306.8h0M176.6 295.1h0M157.2 298.7h0M195.6 291.6h0M186.8 300.7h0M168.2 311.6h0M188.5 294.2h0M186.2 300.7h0M158.7 305.5h0M159.2 319.2h0M179.0 297.1h0M198.9 305.9h0M157.8 308.6h0M197.6 295.1h0M160.8 311.1h0M178.5 299.5h0M177.7 298.2h0M156.1 314.8h0M153.8 313.5h0M180.6 296.8h0M198.0 307.0h0M188.5 294.9h0M181.2 295.8h0M175.5 301.6h0M177.3 298.9h0M197.3 308.2h0M194.6 299.5h0M200.1 299.5h0M193.1 291.9h0M186.9 287.5h0M199.0 301.5h0M197.4 293.3h0M195.9 310.3h0M185.6 297.8h0M189.4 291.3h0M197.6 309.4h0M166.3 311.7h0M175.5 307.8h0M177.2 297.5h0M183.4 295.0h0M191.5 303.7h0M186.4 297.9h0M196.2 309.6h0M182.7 292.7h0M161.5 308.2h0M197.7 300.8h0M191.9 293.8h0M191.3 302.1h0M154.0 313.2h0M157.9 309.3h0M152.8 308.6h0M168.3 308.2h0M161.3 321.0h0M183.3 290.4h0M192.7 297.8h0M189.8 296.8h0M152.8 313.9h0M155.1 310.5h0M194.2 293.2h0M197.2 298.7h0M196.2 292.4h0M189.7 297.0h0M189.0 298.3h0M185.6 295.3h0M188.7 290.6h0M159.3 308.2h0M198.1 305.7h0M184.3 287.1h0M166.3 312.2h0M197.8 300.3h0M198.1 296.4h0M183.2 290.5h0M158.8 320.1h0M151.4 312.5h0M195.4 311.6h0M182.1 297.3h0M188.0 298.1h0M160.5 325.8h0M156.0 312.9h0M167.4 300.9h0M196.3 298.3h0M179.4 291.8h0M199.4 306.6h0M196.4 306.0h0M194.9 301.2h0M196.1 308.3h0M180.0 295.0h0M177.0 302.1h0M166.9 313.8h0M171.0 301.5h0M174.4 300.0h0M151.3 313.1h0M195.7 296.9h0M183.6 288.2h0M194.6 288.5h0M188.5 294.4h0M159.4 318.3h0M194.0 293.4h0M201.2 343.4h0M201.0 343.9h0M201.2 343.4h0M201.1 342.3h0M201.6 342.3h0M198.9 348.1h0M199.6 346.9h0M199.3 349.0h0M198.9 346.2h0M199.1 347.6h0M201.0 342.7h0M199.5 345.2h0M201.1 344.2h0M201.1 346.2h0M200.1 345.4h0M199.9 348.3h0M201.1 345.9h0M200.0 344.1h0M201.3 343.8h0M199.3 347.5h0M199.4 347.3h0M199.2 347.5h0M198.7 348.4h0M198.9 347.8h0M201.1 344.7h0M201.6 342.1h0M201.3 344.8h0M199.9 346.0h0M201.0 346.8h0M199.9 345.9h0M181.8 342.9h0M183.9 341.0h0M173.0 328.8h0M191.6 306.7h0M197.8 333.1h0M198.0 323.4h0M201.9 332.4h0M187.7 315.1h0M178.1 312.8h0M179.2 342.3h0M200.0 333.9h0M182.5 340.8h0M175.6 311.8h0M177.7 324.7h0M185.1 345.4h0M172.6 316.6h0M198.2 326.0h0M176.0 306.0h0M189.6 315.8h0M176.9 316.7h0M195.2 332.6h0M176.3 332.6h0M201.3 331.3h0M176.7 333.5h0M195.1 327.2h0M179.1 307.1h0M183.2 326.1h0M180.8 331.1h0M171.8 326.8h0M201.2 321.9h0M194.6 308.6h0M180.0 310.5h0M185.1 325.9h0M170.8 333.8h0M191.5 341.1h0M173.1 340.0h0M191.5 341.2h0M180.5 328.9h0M186.6 343.4h0M192.2 318.5h0M181.2 325.6h0M186.3 347.4h0M169.8 313.3h0M186.9 315.4h0M176.1 312.9h0M183.9 325.0h0M184.5 310.1h0M177.9 319.1h0M187.5 321.3h0M200.2 323.6h0M183.1 345.1h0M199.9 335.3h0M171.7 336.3h0M195.9 318.8h0M178.1 337.0h0M181.8 332.6h0M189.3 336.2h0M168.9 323.4h0M192.3 343.0h0M178.5 323.5h0M181.8 338.5h0M184.2 303.2h0M168.2 325.1h0M184.6 327.5h0M178.1 330.5h0M161.5 335.1h0M180.9 303.6h0M191.5 347.8h0M186.5 341.9h0M194.3 325.6h0M190.5 330.6h0M184.0 338.1h0M196.1 334.0h0M170.9 333.3h0M196.7 312.2h0M189.0 311.5h0M182.2 333.7h0M189.0 330.6h0M183.5 311.2h0M197.6 331.3h0M186.5 303.5h0M199.2 336.2h0M177.8 318.5h0M174.2 328.1h0M194.0 329.1h0M185.2 337.8h0M196.8 341.5h0M198.6 331.7h0M184.1 304.6h0M188.1 312.2h0M181.6 316.9h0M177.3 309.0h0M197.2 318.4h0M192.7 348.6h0M180.6 311.5h0M179.2 314.2h0M171.4 313.6h0M199.8 316.6h0M187.6 340.0h0M200.9 322.2h0M183.8 342.6h0M181.3 343.3h0M186.2 314.4h0M174.1 336.6h0M201.7 329.1h0M174.3 301.7h0M179.4 339.4h0M192.9 325.9h0M171.3 336.2h0M171.9 317.9h0M189.7 343.3h0M192.9 323.4h0M175.6 318.6h0M167.0 328.4h0M192.3 317.9h0M192.2 309.8h0M176.1 312.1h0M185.3 338.0h0M201.7 340.8h0M180.1 328.2h0M181.8 342.3h0M171.1 330.1h0M171.5 319.9h0M183.2 358.0h0M195.3 317.2h0M189.1 348.1h0M200.5 324.0h0M167.3 325.6h0M191.3 333.6h0M178.9 342.9h0M198.3 338.7h0M200.3 323.3h0M194.1 327.2h0M189.3 317.4h0M184.7 326.9h0M193.2 335.3h0M190.0 333.3h0M183.7 331.5h0M173.9 307.4h0M183.5 312.6h0M190.6 342.1h0M177.4 307.8h0M184.3 321.4h0M192.6 345.0h0M172.6 337.1h0M173.4 332.1h0M174.4 328.5h0M172.8 322.5h0M190.6 331.6h0M186.4 329.4h0M167.0 323.1h0M199.1 333.2h0M183.2 309.0h0M171.1 329.0h0M170.6 335.9h0M192.5 340.5h0M191.8 347.3h0M184.9 345.8h0M200.1 318.2h0M187.6 323.2h0M183.4 302.6h0M182.3 320.6h0M179.9 315.2h0M171.6 327.5h0M186.1 320.1h0M178.2 304.5h0M170.3 322.6h0M199.5 339.9h0M199.4 340.5h0M179.1 341.4h0M184.3 305.0h0M190.5 345.6h0M193.2 315.8h0M184.7 345.3h0M178.5 315.7h0M180.9 330.9h0M185.7 331.3h0M174.5 328.1h0M180.9 324.1h0M176.3 316.1h0M191.4 317.8h0M195.7 335.1h0M187.2 324.4h0M202.5 326.1h0M175.2 335.8h0M172.7 319.8h0M188.9 327.0h0M179.9 305.0h0M191.2 348.4h0M195.5 319.0h0M190.4 348.5h0M176.3 323.6h0M191.5 348.6h0M169.3 318.2h0M187.8 305.4h0M183.4 314.7h0M200.1 336.1h0M169.2 335.0h0M166.6 323.1h0M172.3 314.3h0M200.1 325.5h0M194.4 348.8h0M188.8 346.9h0M184.6 333.5h0M182.1 334.4h0M184.0 312.9h0M193.9 315.0h0M173.7 312.9h0M171.1 325.5h0M189.4 345.4h0M182.7 335.0h0M183.1 342.5h0M195.7 345.7h0M169.5 311.2h0M168.8 318.6h0M202.3 336.2h0M175.3 308.1h0M179.9 305.8h0M177.3 338.6h0M185.8 324.1h0M188.9 340.6h0M194.7 346.4h0M186.1 310.3h0M196.9 317.3h0M177.7 303.0h0M191.6 307.3h0M197.9 344.0h0M182.1 303.8h0M173.1 327.7h0M192.5 339.2h0M170.1 317.6h0M181.2 313.4h0M184.0 329.5h0M201.5 340.4h0M174.5 334.6h0M188.3 304.2h0M183.7 314.0h0M166.7 318.8h0M196.9 319.8h0M173.4 331.1h0M193.4 344.0h0M186.3 303.7h0M170.5 311.8h0M172.6 331.1h0M198.5 341.2h0M181.7 327.5h0M178.7 338.0h0M183.7 317.0h0M186.7 337.8h0M174.6 317.4h0M192.1 332.3h0M174.9 310.2h0M178.7 327.2h0M173.9 336.3h0M187.6 343.0h0M183.6 321.2h0M168.2 321.9h0M194.2 333.1h0M198.9 327.1h0M179.0 311.2h0M191.5 319.0h0M186.4 305.6h0M200.0 330.7h0M173.1 326.7h0M192.0 337.6h0M194.4 346.8h0M177.5 320.0h0M185.6 320.5h0M202.0 336.5h0M189.3 318.0h0M190.8 308.5h0M169.7 330.6h0M172.2 315.7h0M189.8 321.2h0M183.4 341.1h0M177.2 320.8h0M193.3 330.9h0M181.3 314.9h0M181.6 338.6h0M180.9 323.0h0M182.7 326.6h0M190.6 341.9h0M197.9 342.2h0M172.4 324.9h0M192.6 323.6h0M175.3 324.0h0M174.0 335.1h0M175.6 322.3h0M186.2 335.4h0M180.2 306.5h0M171.9 322.0h0M181.9 335.1h0M181.5 338.1h0M187.1 308.4h0M191.4 335.1h0M194.4 310.4h0M176.1 304.8h0M197.3 314.7h0M192.3 327.6h0M180.2 329.7h0M175.5 336.1h0M190.6 320.1h0M187.2 330.6h0M175.1 316.6h0M177.8 313.4h0M182.3 323.5h0M181.4 303.8h0M190.4 337.2h0M200.2 331.4h0M202.2 330.8h0M194.6 313.4h0M182.7 316.9h0M178.4 348.6h0M194.3 338.7h0M198.4 333.3h0M198.0 313.6h0M191.1 310.1h0M188.2 315.4h0M168.2 328.1h0M181.0 339.4h0M203.5 324.2h0M185.9 331.6h0M187.5 323.2h0M194.6 311.8h0M166.5 317.9h0M175.8 307.3h0M190.3 340.6h0M194.5 345.4h0M176.6 324.2h0M193.0 342.3h0M181.2 327.4h0M178.2 323.9h0M184.1 330.9h0M187.5 329.5h0M169.1 320.1h0M190.6 311.0h0M177.4 321.0h0M175.8 335.4h0M182.3 333.4h0M173.9 307.8h0M183.5 315.4h0M193.6 339.7h0M172.3 323.8h0M177.0 312.0h0M186.0 310.8h0M168.4 326.2h0M191.2 325.2h0M192.8 309.4h0M192.7 314.0h0M171.3 326.3h0M178.5 345.9h0M172.7 315.0h0M181.1 311.7h0M181.1 304.6h0M179.3 313.4h0M167.0 329.3h0M183.9 343.3h0M184.1 334.7h0M176.6 330.2h0M167.4 327.7h0M180.3 325.9h0M180.3 312.8h0M175.5 314.6h0M181.0 300.2h0M174.7 327.0h0M193.8 342.4h0M191.9 316.9h0M195.5 335.2h0M175.0 323.7h0M184.8 327.2h0M171.0 341.6h0M190.0 327.6h0M177.7 337.4h0M174.5 310.4h0M180.0 341.6h0M194.9 347.7h0M177.9 326.8h0M171.5 332.7h0M182.2 323.8h0M195.9 339.2h0M191.1 346.9h0M181.2 325.0h0M173.7 325.6h0M165.7 335.1h0M199.8 333.7h0M186.6 309.8h0M186.2 314.8h0M190.0 349.2h0M194.5 336.3h0M179.8 309.8h0M170.7 324.1h0M201.5 332.2h0M188.7 338.9h0M191.7 328.0h0M192.2 332.6h0M179.1 321.0h0M172.6 335.0h0M178.1 336.9h0M190.9 306.6h0M189.4 306.1h0M177.6 337.8h0M175.1 310.9h0M192.4 327.3h0M195.8 317.9h0M171.8 325.2h0M175.7 324.1h0M180.8 317.4h0M186.7 340.6h0M200.0 327.6h0M198.3 336.5h0M186.8 323.7h0M175.8 336.9h0M192.1 325.5h0M180.4 308.8h0M187.7 316.8h0M201.6 329.8h0M197.9 313.8h0M175.2 319.4h0M183.3 313.7h0M201.8 339.1h0M179.1 314.1h0M194.8 311.7h0M190.7 319.3h0M198.7 328.9h0M194.0 319.0h0M192.1 342.6h0M193.2 337.2h0M190.1 338.4h0M190.1 312.2h0M187.6 313.3h0M201.2 326.8h0M196.7 312.1h0M190.8 332.8h0M189.7 310.8h0M185.1 323.2h0M189.1 344.5h0M172.2 317.8h0M160.3 333.7h0M183.2 315.6h0M193.0 310.0h0M173.8 317.5h0M189.9 305.0h0M166.2 328.3h0M176.1 330.3h0M194.1 307.0h0M184.2 332.0h0M195.6 318.6h0M183.0 326.8h0M176.4 322.0h0M170.8 332.2h0M183.8 341.1h0M191.2 306.7h0M168.6 320.3h0M189.2 336.1h0M169.6 332.1h0M185.7 332.4h0M194.3 307.3h0M171.8 327.0h0M188.4 345.5h0M174.2 325.6h0M176.8 303.5h0M183.3 307.7h0M180.7 327.1h0M180.4 337.0h0M188.9 339.4h0M186.3 344.3h0M175.4 328.6h0M190.0 335.6h0M169.0 318.4h0M188.9 313.2h0M180.9 320.9h0M185.2 325.8h0M197.1 339.7h0M175.0 309.9h0M169.5 312.8h0M182.0 325.6h0M182.8 332.2h0M190.1 339.3h0M180.5 349.3h0M196.6 320.1h0M195.1 328.3h0M172.5 328.4h0M191.4 321.6h0M195.0 330.0h0M189.7 347.2h0M176.6 310.7h0M173.0 323.7h0M182.6 326.0h0M175.1 320.6h0M184.2 324.9h0M192.7 336.2h0M176.7 327.4h0M174.9 313.2h0M191.9 333.9h0M186.1 325.9h0M187.8 315.2h0M187.9 332.5h0M182.0 323.3h0M183.6 324.0h0M181.0 302.7h0M188.4 333.2h0M181.7 301.9h0M177.1 322.8h0M188.2 316.9h0M177.2 327.6h0M199.6 317.9h0M186.5 318.1h0M189.3 308.9h0M182.3 318.2h0M190.0 333.3h0M198.7 338.5h0M168.0 330.2h0M193.5 323.7h0M174.6 338.8h0M184.1 328.0h0M186.8 311.6h0M167.9 331.0h0M198.7 339.2h0M190.1 325.2h0M178.9 320.3h0M182.4 305.4h0M187.3 328.4h0M180.4 323.9h0M174.3 317.4h0M193.6 320.2h0M185.8 317.2h0M190.9 329.1h0M195.1 326.6h0M187.4 348.8h0M194.1 336.2h0M190.9 309.0h0M177.2 347.0h0M173.0 307.3h0M174.9 304.9h0M181.4 308.8h0M173.0 325.7h0M190.3 306.9h0M166.9 320.5h0M177.0 318.9h0M173.4 328.7h0M187.4 318.2h0M185.8 332.5h0M196.3 312.9h0M194.5 315.7h0M177.1 326.7h0M183.9 316.1h0M171.3 317.7h0M181.9 327.5h0M171.5 333.1h0M179.7 315.5h0M177.5 302.3h0M193.3 327.8h0M198.2 341.9h0M195.8 333.4h0M190.2 325.7h0M194.8 340.9h0M181.0 308.3h0M202.4 332.7h0M184.6 320.7h0M175.5 318.3h0M199.8 327.2h0M189.3 329.8h0M200.9 333.7h0M187.4 310.4h0M186.7 316.4h0M189.0 327.2h0M189.9 304.5h0M198.9 315.6h0M181.7 319.6h0M200.2 320.7h0M188.8 336.0h0M197.3 323.2h0M174.8 333.2h0M180.2 339.0h0M200.5 332.2h0M193.5 327.6h0M177.4 316.3h0M196.8 333.5h0M185.9 332.8h0M179.9 329.0h0M187.5 342.8h0M183.7 326.1h0M177.9 334.2h0M196.6 319.9h0M185.4 323.8h0M176.3 312.7h0M200.9 336.1h0M194.7 343.3h0M202.9 329.8h0M184.0 301.2h0M191.6 336.5h0M193.7 313.5h0M193.3 325.5h0M179.5 320.3h0M191.0 314.9h0M174.1 305.9h0M188.9 310.5h0M191.7 314.1h0M167.4 316.7h0M182.6 337.9h0M185.8 326.3h0M189.4 301.9h0M172.1 335.1h0M181.4 339.6h0M187.5 312.0h0M189.9 313.5h0M191.9 335.6h0M168.5 330.1h0M172.3 337.4h0M198.3 326.8h0M202.4 334.6h0M171.9 330.2h0M172.5 325.8h0M184.0 321.1h0M175.8 309.0h0M174.5 321.4h0M197.2 319.3h0M181.3 331.8h0M181.7 337.2h0M176.0 330.9h0M178.9 324.7h0M169.7 331.3h0M168.3 316.2h0M188.5 325.8h0M173.5 328.9h0M176.5 333.8h0M171.3 325.3h0M182.0 306.3h0M173.0 338.4h0M183.5 336.2h0M179.1 324.2h0M191.8 347.3h0M167.4 316.7h0M193.7 348.0h0M178.9 304.5h0M196.1 343.1h0M191.1 310.8h0M179.5 320.6h0M187.1 304.8h0M184.8 333.3h0M175.7 337.1h0M192.5 322.9h0M199.9 337.9h0M188.1 329.3h0M175.6 338.5h0M176.6 332.3h0M178.0 317.6h0M198.6 313.0h0M175.6 331.0h0M160.2 336.9h0M165.8 341.4h0M176.2 339.4h0M200.6 325.8h0M186.3 322.4h0M200.2 327.0h0M178.9 336.7h0M189.0 307.3h0M197.2 315.5h0M170.8 321.4h0M182.5 307.0h0M168.3 323.8h0M202.9 325.7h0M183.9 311.0h0M192.5 306.8h0M166.4 343.0h0M171.8 332.1h0M172.5 325.4h0M203.3 326.9h0M189.2 309.0h0M172.0 335.5h0M193.4 311.1h0M195.1 320.4h0M169.6 317.4h0M189.8 338.3h0M195.4 318.6h0M176.8 313.8h0M175.6 315.5h0M198.4 337.7h0M199.2 314.5h0M166.7 328.9h0M174.1 310.2h0M181.5 307.6h0M176.2 315.0h0M181.3 318.8h0M190.4 314.5h0M171.5 333.6h0M198.4 320.5h0M184.5 323.3h0M183.6 322.3h0M184.4 316.6h0M164.5 335.9h0M191.5 337.9h0M187.3 336.6h0M200.2 326.1h0M183.8 341.9h0M185.6 336.5h0M172.0 324.9h0M181.8 308.5h0M191.6 326.0h0M169.2 319.8h0M182.1 327.5h0M196.9 322.8h0M176.7 335.8h0M175.1 319.3h0M179.1 357.5h0M196.9 345.0h0M169.5 326.1h0M169.5 330.4h0M187.4 303.9h0M173.8 330.4h0M184.8 345.1h0M201.8 331.8h0M196.1 327.1h0M192.0 347.8h0M177.9 325.1h0M193.7 320.3h0M198.3 328.9h0M166.9 326.8h0M188.9 303.5h0M199.2 333.9h0M182.1 300.3h0M168.5 326.4h0M189.4 305.0h0M176.9 311.3h0M189.0 309.2h0M194.4 309.5h0M175.9 330.0h0M190.6 330.5h0M176.2 313.0h0M188.0 334.0h0M172.3 312.6h0M186.5 343.9h0M193.5 325.8h0M198.7 330.7h0M178.8 316.9h0M177.0 309.5h0M186.7 311.3h0M191.1 335.2h0M188.6 309.7h0M183.2 306.9h0M175.8 320.4h0M192.9 311.6h0M200.1 339.3h0M189.5 332.5h0M169.4 331.9h0M176.2 322.7h0M198.3 335.0h0M194.3 307.1h0M175.0 321.3h0M186.9 330.3h0M189.6 339.2h0M185.0 302.5h0M191.3 303.4h0M180.1 319.1h0M195.3 338.5h0M201.5 330.5h0M179.2 300.6h0M174.6 321.5h0M183.5 324.0h0M190.9 309.1h0M181.1 331.8h0M189.0 339.0h0M187.2 316.4h0M183.4 305.7h0M177.4 307.0h0M171.3 322.7h0M179.5 318.0h0M179.0 312.0h0M189.7 341.2h0M173.9 308.2h0M181.8 318.9h0M189.7 313.1h0M178.8 321.3h0M167.9 317.1h0M174.5 330.5h0M176.1 345.4h0M177.1 310.5h0M171.0 328.4h0M172.5 333.5h0M181.7 326.4h0M169.5 326.9h0M201.5 339.3h0M184.9 299.8h0M177.8 304.9h0M176.8 306.9h0M176.2 306.0h0M168.0 321.1h0M200.4 326.2h0M184.4 316.8h0M179.9 300.4h0M197.4 345.0h0M193.3 330.8h0M177.0 337.2h0M192.6 314.2h0M198.0 317.0h0M199.1 319.2h0M170.1 315.9h0M194.8 335.2h0M171.3 332.0h0M180.8 310.0h0M178.8 313.8h0M196.8 343.6h0M191.7 328.9h0M190.4 316.7h0M197.3 331.6h0M186.1 345.6h0M173.8 330.9h0M194.8 325.9h0M173.4 328.8h0M177.4 318.6h0M178.4 341.1h0M179.9 327.0h0M194.8 313.4h0M176.3 303.6h0M190.2 309.0h0M174.0 330.2h0M198.2 323.3h0M177.9 309.6h0M182.5 347.3h0M189.1 319.0h0M181.9 306.4h0M194.9 315.7h0M196.8 327.1h0M173.6 323.9h0M183.9 301.3h0M177.1 301.2h0M170.9 333.3h0M170.1 326.4h0M174.2 307.0h0M181.2 338.3h0M192.4 321.0h0M176.4 332.3h0M194.7 332.5h0M189.2 322.5h0M202.7 326.6h0M177.3 339.2h0M197.5 331.3h0M174.1 326.9h0M181.7 306.2h0M184.1 317.2h0M178.7 309.0h0M166.6 322.8h0M200.4 330.0h0M166.0 328.6h0M184.7 304.3h0M182.0 305.5h0M191.5 321.7h0M187.6 338.0h0M187.9 337.8h0M190.9 310.9h0M173.7 343.9h0M177.4 339.9h0M190.8 305.0h0M169.2 342.4h0M174.6 332.8h0M174.6 329.3h0M187.9 322.3h0M191.8 335.4h0M201.0 328.9h0M191.4 310.9h0M175.3 326.0h0M172.9 342.1h0M175.8 338.7h0M200.2 322.1h0M172.5 336.8h0M192.5 323.3h0M179.9 334.6h0M198.6 341.6h0M190.8 344.5h0M182.0 319.7h0M184.7 341.3h0M168.6 328.4h0M179.7 351.9h0M184.9 317.2h0M190.3 328.3h0M186.4 329.1h0M191.8 333.4h0M180.8 305.5h0M183.0 348.3h0M182.8 311.5h0M190.4 311.2h0M194.9 314.7h0M200.7 335.3h0M190.5 319.7h0M184.1 326.3h0M177.9 317.5h0M183.2 325.9h0M186.1 316.5h0M201.9 337.3h0M188.1 315.1h0M193.9 331.8h0M182.5 319.1h0M185.0 311.4h0M197.2 312.1h0M182.2 303.0h0M201.5 324.9h0M180.6 334.9h0M181.5 322.6h0M183.8 328.9h0M183.8 323.3h0M186.5 304.4h0M199.1 324.1h0M175.3 327.3h0M191.7 310.7h0M185.3 308.7h0M192.1 337.5h0M191.1 334.6h0M184.8 344.4h0M184.0 341.5h0M199.1 322.3h0M195.5 344.4h0M192.8 323.2h0M186.6 332.7h0M186.5 305.0h0M182.7 317.1h0M181.7 344.2h0M195.8 332.4h0M192.7 335.4h0M184.6 324.2h0M171.8 323.7h0M177.0 333.1h0M171.7 332.9h0M180.3 318.0h0M176.9 298.3h0M184.5 310.0h0M196.0 336.8h0M178.1 299.0h0M173.2 311.6h0M180.4 343.1h0M196.1 339.2h0M174.7 322.3h0M196.0 330.2h0M176.0 326.8h0M189.4 323.9h0M186.1 340.5h0M192.1 327.2h0M171.2 312.4h0M194.2 343.9h0M190.1 326.3h0M196.5 334.0h0M199.3 316.5h0M168.3 329.3h0M186.6 338.6h0M171.9 343.8h0M175.7 301.9h0M182.4 334.3h0M184.5 339.8h0M184.3 336.1h0M185.9 311.6h0M166.3 319.6h0M183.1 324.2h0M197.6 333.6h0M184.3 340.7h0M176.7 326.3h0M174.3 322.0h0M191.9 310.5h0M170.9 327.7h0M172.9 326.0h0M201.3 319.5h0M195.6 327.1h0M188.6 342.1h0M166.6 326.5h0M178.9 335.5h0M188.8 342.0h0M185.9 325.5h0M183.6 308.0h0M192.8 309.4h0M191.9 348.6h0M195.6 338.9h0M200.4 322.2h0M178.9 328.7h0M170.6 314.8h0M196.1 338.3h0M176.5 337.4h0M198.1 341.6h0M192.1 311.6h0M177.6 309.5h0M182.4 333.3h0M175.8 334.7h0M189.9 306.2h0M178.6 307.6h0M173.1 343.2h0M190.1 308.1h0M177.2 305.5h0M177.3 327.7h0M185.7 340.5h0M195.2 330.5h0M183.7 316.4h0M181.7 316.0h0M169.0 331.6h0M175.0 318.8h0M201.7 337.5h0M187.3 311.1h0M169.5 331.0h0M175.5 314.6h0M183.3 302.6h0M186.3 313.7h0M192.9 314.3h0M171.9 324.3h0M181.2 307.3h0M183.1 320.4h0M168.6 319.4h0M189.4 330.2h0M188.1 343.6h0M196.6 338.7h0M189.0 347.7h0M175.0 336.1h0M200.7 333.1h0M180.6 302.7h0M189.7 329.0h0M170.1 323.8h0M180.3 306.3h0M177.8 304.3h0M195.8 332.8h0M196.2 326.7h0M190.5 318.2h0M199.9 339.4h0M186.8 347.5h0M177.2 335.2h0M197.0 330.3h0M175.8 306.3h0M192.3 309.6h0M188.6 308.4h0M192.7 339.7h0M197.2 316.3h0M172.2 333.1h0M183.3 323.5h0M172.4 326.1h0M175.5 336.6h0M178.4 331.5h0M169.4 315.6h0M195.3 331.6h0M191.6 342.8h0M172.5 319.9h0M169.5 322.7h0M189.7 338.0h0M179.8 317.6h0M194.7 332.0h0M182.7 315.9h0M191.1 319.2h0M184.1 300.9h0M199.9 329.9h0M186.2 337.7h0M177.5 341.3h0M189.9 345.1h0M182.5 335.5h0M183.4 316.6h0M192.8 313.4h0M194.1 310.3h0M178.4 312.0h0M197.3 337.6h0M188.7 325.4h0M176.4 324.2h0M193.4 315.7h0M189.5 337.2h0M186.1 339.2h0M178.0 304.1h0M192.7 308.8h0M195.3 342.4h0M184.2 339.7h0M187.0 327.5h0M184.3 317.1h0M168.6 315.3h0M169.8 325.0h0M191.4 307.0h0M197.0 321.0h0M194.8 318.1h0M192.3 325.0h0M199.9 342.9h0M193.8 313.5h0M192.6 310.7h0M193.5 342.7h0M165.6 332.3h0M193.9 319.1h0M190.3 321.4h0M174.5 327.4h0M194.3 315.4h0M193.0 309.9h0M184.1 300.5h0M170.5 315.1h0M204.9 328.6h0M179.4 328.5h0M170.3 321.6h0M169.2 320.0h0M186.0 306.3h0M192.5 341.4h0M192.9 306.9h0M200.5 333.4h0M179.1 313.3h0M181.9 315.1h0M179.6 333.6h0M175.7 335.4h0M185.1 319.8h0M183.2 326.9h0M166.9 330.2h0M175.3 328.0h0M178.1 319.3h0M186.5 323.0h0M185.9 305.5h0M176.2 322.7h0M180.2 310.5h0M182.6 345.0h0M179.5 310.8h0M186.4 303.4h0M177.1 335.6h0M176.2 329.9h0M189.6 320.5h0M178.0 323.7h0M184.9 309.3h0M184.2 313.5h0M195.0 339.5h0M194.1 343.3h0M185.3 309.9h0M174.4 322.7h0M192.8 345.0h0M173.5 316.5h0M176.2 318.0h0M189.5 325.0h0M185.5 318.2h0M172.9 332.0h0M180.0 330.5h0M182.3 353.3h0M189.1 306.3h0M187.9 331.4h0M182.2 345.3h0M187.2 302.9h0M179.9 318.1h0M174.6 320.6h0M178.0 320.0h0M178.0 320.4h0M189.7 315.0h0M191.4 338.5h0M188.0 328.5h0M182.0 335.6h0M192.1 308.7h0M190.1 307.5h0M204.8 328.4h0M171.4 334.6h0M199.0 334.2h0M189.9 340.2h0M184.0 313.7h0M191.8 340.1h0M175.9 334.8h0M188.5 318.3h0M185.4 316.4h0M186.4 308.8h0M180.5 309.4h0M178.6 327.0h0M193.5 323.0h0M192.0 345.2h0M173.5 310.9h0M196.3 317.7h0M184.8 339.1h0M191.6 332.4h0M169.3 325.8h0M195.6 325.0h0M173.2 313.9h0M192.3 312.6h0M190.1 330.1h0M197.7 340.4h0M173.9 331.2h0M186.8 328.3h0M179.9 301.9h0M171.2 318.4h0M200.9 322.2h0M196.2 326.3h0M189.3 321.1h0M181.4 326.3h0M187.5 325.9h0M164.4 337.4h0M187.6 323.6h0M197.3 336.8h0M196.7 318.4h0M174.0 334.8h0M173.6 322.7h0M193.5 328.3h0M187.9 313.4h0M199.5 335.9h0M178.5 329.9h0M196.6 342.9h0M178.9 331.8h0M164.9 322.4h0M190.0 345.6h0M182.2 312.5h0M171.0 332.5h0M170.9 319.6h0M175.8 341.3h0M176.1 351.9h0M189.6 348.7h0M181.3 356.5h0M184.6 347.6h0M175.8 358.2h0M176.1 346.9h0M189.1 351.2h0M176.2 344.6h0M150.8 335.2h0M145.8 326.9h0M153.5 336.9h0M141.8 340.2h0M145.6 330.5h0M142.7 339.3h0M139.4 339.1h0M135.0 341.2h0M145.5 321.7h0M143.9 325.3h0M134.0 332.2h0M134.8 340.8h0M138.3 343.7h0M150.6 320.4h0M138.7 338.8h0M143.2 337.1h0M136.1 335.6h0M150.6 333.9h0M155.4 334.7h0M155.8 333.7h0M133.4 330.4h0M146.1 326.4h0M143.8 338.1h0M150.1 338.9h0M146.6 323.5h0M142.5 320.9h0M150.2 336.1h0M147.9 318.6h0M143.4 319.0h0M143.4 333.2h0M154.5 331.0h0M143.6 328.1h0M149.8 338.9h0M151.3 340.3h0M142.8 344.7h0M137.2 338.5h0M146.5 341.8h0M154.7 335.2h0M149.7 333.8h0M154.5 336.6h0M136.7 328.4h0M144.4 333.4h0M134.1 326.4h0M152.5 327.3h0M147.1 325.6h0M147.9 339.7h0M137.4 339.5h0M155.3 334.1h0M137.1 338.1h0M136.9 323.0h0M147.5 335.8h0M155.3 329.6h0M150.8 320.4h0M148.0 331.9h0M133.5 331.1h0M135.2 334.2h0M148.7 315.4h0M147.1 330.9h0M153.1 326.0h0M141.3 339.9h0M150.3 325.3h0M152.6 338.3h0M134.4 332.7h0M146.7 316.5h0M139.3 340.6h0M142.1 333.3h0M138.5 343.3h0M133.7 338.4h0M138.3 345.8h0M144.3 344.5h0M146.9 317.6h0M139.7 324.9h0M147.4 330.7h0M132.3 329.2h0M149.0 330.4h0M151.0 337.9h0M145.2 337.8h0M137.1 330.5h0M140.0 341.1h0M147.4 318.6h0M151.5 332.6h0M134.8 330.8h0M148.5 323.0h0M142.6 337.4h0M138.0 327.0h0M144.4 343.1h0M149.2 316.3h0M155.3 332.6h0M143.5 343.0h0M142.4 344.3h0M142.7 322.4h0M146.3 327.8h0M151.9 334.9h0M145.8 322.0h0M139.4 331.2h0M142.1 320.8h0M150.1 338.1h0M146.1 342.8h0M149.8 327.2h0M148.3 322.2h0M149.6 332.2h0M144.3 325.8h0M142.9 340.4h0M145.2 331.6h0M143.2 342.2h0M145.1 316.1h0M152.0 328.9h0M138.1 342.8h0M154.5 331.2h0M143.8 337.2h0M141.7 343.1h0M147.1 320.0h0M143.0 342.4h0M143.0 340.9h0M149.2 326.3h0M144.0 329.9h0M149.4 325.6h0M152.2 331.6h0M146.6 339.3h0M143.1 343.2h0M145.0 329.3h0M145.9 334.0h0M147.3 321.3h0M151.1 330.6h0M153.5 337.0h0M144.6 344.0h0M143.7 340.6h0M143.9 337.9h0M143.6 340.3h0M155.2 332.4h0M140.7 334.9h0M132.5 332.6h0M153.1 337.0h0M135.9 342.7h0M135.1 329.7h0M147.9 334.3h0M147.2 333.2h0M144.1 328.6h0M138.5 342.7h0M151.3 324.4h0M142.5 318.7h0M134.6 334.4h0M139.2 343.1h0M139.8 343.3h0M147.8 334.3h0M146.9 322.9h0M149.8 327.4h0M138.3 342.5h0M154.3 337.7h0M142.5 334.0h0M137.6 326.1h0M146.7 318.8h0M134.7 336.1h0M141.6 342.0h0M144.4 342.8h0M148.2 341.7h0M144.2 321.5h0M154.3 327.2h0M145.6 335.3h0M142.4 344.5h0M138.6 324.1h0M145.8 326.4h0M137.5 327.4h0M138.5 340.9h0M140.1 336.3h0M145.4 325.0h0M148.1 319.2h0M144.8 319.1h0M154.8 334.1h0M144.5 324.6h0M143.2 328.8h0M150.1 337.0h0M153.0 332.1h0M146.2 324.7h0M134.2 334.0h0M148.1 337.5h0M144.1 333.3h0M146.6 343.4h0M132.9 334.6h0M136.7 332.3h0M145.7 332.1h0M136.5 342.9h0M148.3 338.3h0M149.4 329.1h0M137.3 344.9h0M138.4 342.1h0M143.6 340.8h0M146.5 318.5h0M148.7 340.8h0M142.8 323.7h0M151.2 322.5h0M146.2 315.3h0M138.5 341.0h0M145.9 324.7h0M148.4 332.9h0M152.4 327.3h0M143.9 324.9h0M136.9 339.7h0M139.2 341.9h0M133.8 332.8h0M148.5 324.6h0M152.3 332.2h0M140.3 342.5h0M136.6 324.5h0M156.0 333.3h0M147.5 314.4h0M153.7 325.8h0M147.3 322.6h0M145.3 323.0h0M137.2 323.2h0M147.2 330.2h0M145.5 330.9h0M150.1 333.4h0M141.1 343.0h0M146.5 320.5h0M153.7 333.7h0M137.7 340.3h0M149.7 332.6h0M138.8 341.6h0M148.4 320.6h0M136.9 343.0h0M152.0 330.9h0M151.7 338.6h0M149.5 336.8h0M133.2 336.8h0M143.1 343.1h0M143.0 325.7h0M138.9 338.3h0M138.2 340.8h0M140.6 334.7h0M144.0 340.3h0M148.4 328.4h0M137.3 339.1h0M152.0 331.6h0M142.6 334.4h0M150.5 334.2h0M147.8 323.4h0M136.6 342.1h0M146.7 331.3h0M135.5 334.1h0M133.2 334.0h0M154.1 328.5h0M146.5 334.4h0M144.0 339.0h0M150.2 334.9h0M145.1 317.2h0M154.0 337.8h0M146.0 330.8h0M152.7 336.3h0M147.5 320.1h0M149.6 340.7h0M154.0 335.0h0M154.6 334.8h0M152.5 337.3h0M139.1 342.9h0M133.7 335.3h0M152.7 334.4h0M155.2 329.4h0M139.9 343.3h0M146.1 343.7h0M147.0 334.7h0M149.2 322.1h0M135.6 341.8h0M154.9 334.0h0M135.6 336.2h0M146.2 324.6h0M137.5 340.0h0M144.8 331.7h0M142.3 324.1h0M141.4 341.0h0M154.3 330.4h0M147.7 334.2h0M147.2 335.7h0M151.4 335.3h0M143.1 333.7h0M143.4 318.6h0M147.4 341.4h0M133.0 335.0h0M140.4 340.5h0M148.1 328.2h0M139.6 342.8h0M144.4 327.3h0M151.3 331.9h0M136.3 342.8h0M135.6 338.9h0M144.3 341.2h0M133.5 329.5h0M133.8 324.7h0M144.4 335.6h0M144.8 321.0h0M144.3 343.4h0M133.9 337.0h0M147.1 333.0h0M146.5 319.5h0M139.9 339.4h0M147.2 324.0h0M142.1 344.7h0M139.6 345.8h0M143.6 328.6h0M149.6 316.6h0M150.5 338.3h0M146.5 339.4h0M144.3 320.9h0M148.9 332.2h0M153.0 331.8h0M135.8 339.5h0M151.3 330.2h0M148.3 332.0h0M140.9 343.1h0M150.2 327.0h0M148.8 330.7h0M143.5 333.2h0M151.0 336.1h0M149.5 325.6h0M152.9 335.3h0M143.4 338.1h0M152.9 325.9h0M136.5 331.8h0M150.2 333.9h0M143.1 342.0h0M139.1 336.9h0M148.9 342.2h0M146.8 325.6h0M148.8 316.6h0M150.3 335.1h0M151.1 333.3h0M152.0 326.6h0M139.8 332.6h0M145.5 320.2h0M145.1 320.9h0M147.1 333.9h0M144.7 322.7h0M139.2 342.0h0M152.6 332.8h0M136.9 338.4h0M145.6 318.0h0M145.7 338.1h0M143.2 337.0h0M152.0 335.7h0M142.1 343.2h0M146.9 326.0h0M146.2 334.1h0M152.8 336.5h0M144.6 334.2h0M151.3 336.7h0M139.7 343.1h0M140.5 341.6h0M150.3 333.3h0M149.8 330.8h0M145.8 337.3h0M150.3 335.3h0M145.6 316.7h0M150.2 338.0h0M144.8 339.9h0M132.9 338.4h0M148.3 324.8h0M147.7 338.1h0M149.3 331.0h0M148.9 316.5h0M148.5 340.5h0M151.2 333.5h0M151.2 337.1h0M147.6 340.5h0M146.6 329.9h0M148.1 341.8h0M144.5 331.2h0M136.4 342.9h0M143.7 332.4h0M151.7 339.0h0M141.8 342.6h0M148.6 328.6h0M146.5 336.6h0M135.0 333.1h0M151.9 334.6h0M152.3 333.1h0M136.7 339.4h0M152.9 327.9h0M137.8 339.1h0M151.8 327.0h0M142.1 321.2h0M132.3 332.2h0M147.3 336.3h0M145.0 329.2h0M152.2 324.6h0M151.0 331.1h0M147.9 341.1h0M145.1 317.8h0M138.5 331.4h0M147.5 322.6h0M153.3 335.4h0M142.4 342.6h0M140.9 340.6h0M148.9 334.0h0M144.7 314.0h0M138.1 342.0h0M149.7 335.0h0M143.2 340.6h0M134.3 334.0h0M133.1 333.2h0" stroke="#D4D4D6" stroke-width="2.3" stroke-linecap="round" fill="none"/>
<path d="M271.1 325.8h0M257.8 323.7h0M247.2 331.8h0M255.2 326.5h0M261.4 322.2h0M279.7 329.5h0M269.8 328.3h0M241.0 328.5h0M277.6 329.1h0M276.5 330.6h0M272.2 327.3h0M278.6 329.5h0M232.4 333.8h0M241.4 328.8h0M243.3 326.7h0M245.6 328.7h0M258.1 328.8h0M251.2 320.6h0M253.8 329.7h0M258.2 331.7h0M282.7 329.5h0M252.7 320.8h0M257.3 332.4h0M277.8 328.4h0M233.3 332.8h0M265.1 333.3h0M282.4 327.3h0M277.6 329.2h0M243.3 323.9h0M262.2 327.9h0M238.4 330.0h0M272.1 327.6h0M263.4 328.4h0M254.6 328.9h0M280.6 328.9h0M273.1 327.6h0M253.4 325.9h0M255.2 321.2h0M238.3 329.9h0M242.6 327.0h0M240.4 330.3h0M243.8 327.5h0M243.3 329.0h0M255.6 329.3h0M272.7 327.4h0M264.6 328.5h0M275.6 329.0h0M245.4 328.0h0M248.5 332.1h0M240.1 328.9h0M237.5 331.7h0M241.6 329.2h0M242.8 329.7h0M270.0 327.5h0M243.2 327.5h0M250.4 325.7h0M247.2 327.0h0M242.9 328.8h0M235.9 331.4h0M237.4 330.8h0M237.3 330.4h0M260.8 321.5h0M256.2 320.6h0M245.9 328.8h0M277.9 331.4h0M239.4 329.7h0M252.5 322.4h0M280.7 327.6h0M252.4 329.6h0M261.9 321.2h0M241.7 328.9h0M272.6 328.5h0M273.2 329.3h0M242.5 328.1h0M249.4 321.2h0M255.6 327.7h0M263.4 323.1h0M282.2 328.6h0M262.7 327.6h0M274.5 330.3h0M269.3 325.8h0M251.5 331.6h0M261.3 323.2h0M234.7 331.3h0M241.9 331.6h0M278.9 329.3h0M245.5 327.2h0M241.7 324.5h0M241.4 323.9h0M242.8 330.3h0M242.7 326.9h0M260.5 338.1h0M280.5 329.3h0M252.9 329.8h0M273.2 328.1h0M253.6 319.5h0M238.3 330.6h0M236.5 330.3h0M240.7 330.8h0M244.3 327.8h0M260.0 337.0h0M244.0 329.1h0M251.1 331.6h0M233.7 333.8h0M271.1 327.2h0M257.7 329.0h0M279.6 330.3h0M259.4 326.7h0M233.2 332.6h0M238.8 330.0h0M242.2 329.5h0M277.6 329.0h0M245.2 328.5h0M249.7 331.5h0M269.8 326.9h0M242.7 328.0h0M263.3 323.2h0M269.7 327.5h0M236.7 333.0h0M251.8 321.7h0M263.6 326.6h0M258.7 337.5h0M249.2 327.1h0M248.3 321.9h0M239.5 329.6h0M237.0 331.6h0M251.9 319.7h0M279.4 328.1h0M279.8 330.1h0M250.8 322.7h0M250.2 328.3h0M241.6 324.8h0M259.9 328.2h0M255.1 327.8h0M255.8 324.4h0M255.2 331.3h0M238.8 329.6h0M237.5 330.7h0M255.6 326.0h0M245.0 330.6h0M240.1 329.1h0M258.5 324.5h0M244.2 323.1h0M279.6 330.9h0M243.3 327.9h0M247.9 331.8h0M240.2 328.5h0M233.6 331.8h0M252.5 325.0h0M277.0 328.5h0M245.6 330.1h0M238.6 330.5h0M232.7 333.0h0M236.4 330.2h0M236.3 330.6h0M232.6 333.3h0M232.4 332.8h0M277.4 327.7h0M243.4 327.0h0M275.4 329.6h0M258.6 325.4h0M275.2 329.8h0M272.1 328.8h0M233.2 332.9h0M256.7 320.2h0M264.9 328.2h0M236.6 331.4h0M242.2 326.9h0M258.1 323.0h0M273.8 328.7h0M245.0 330.4h0M245.0 329.7h0M271.7 326.3h0M246.0 329.5h0M274.7 329.7h0M260.0 328.8h0M239.7 330.2h0M244.6 330.7h0M254.0 319.4h0M251.0 323.7h0M232.6 332.5h0M275.9 328.6h0M236.6 331.4h0M234.2 331.0h0M254.1 324.0h0M244.2 331.5h0M246.4 326.7h0M239.5 329.6h0M273.7 327.3h0M238.5 329.4h0M278.1 330.3h0M254.2 326.9h0M242.5 328.2h0M245.3 326.3h0M244.1 326.7h0M321.5 266.9h0M302.5 265.0h0M317.9 260.4h0M308.0 267.7h0M322.2 266.4h0M312.5 263.6h0M313.0 263.8h0M318.3 261.4h0M305.2 269.4h0M302.7 266.2h0M322.3 260.8h0M323.7 262.2h0M322.9 264.0h0M307.2 271.8h0M315.5 262.4h0M309.5 265.9h0M313.6 263.1h0M321.4 260.4h0M311.3 265.5h0M302.6 264.5h0M318.8 262.4h0M304.2 267.1h0M322.3 267.0h0M320.5 266.5h0M303.2 265.8h0M310.8 264.9h0M318.9 260.2h0M319.4 264.4h0M307.0 267.6h0M310.3 266.7h0M315.8 262.8h0M305.6 270.1h0M311.2 265.2h0M304.2 266.9h0M307.0 271.5h0M320.1 265.3h0M317.3 262.3h0M303.9 266.4h0M307.7 267.4h0M313.0 263.5h0M312.9 263.3h0M306.7 271.3h0M318.4 262.5h0M321.2 265.7h0M311.0 265.7h0M304.7 268.0h0M309.6 266.8h0M317.3 260.8h0M304.0 268.9h0M312.6 263.9h0M320.4 267.1h0M324.2 263.4h0M306.5 271.8h0M313.2 263.0h0M323.3 262.1h0M305.7 269.1h0M305.7 268.4h0M311.2 264.9h0M320.4 259.4h0M319.4 262.8h0M306.1 271.4h0M304.6 268.7h0M307.0 271.6h0M322.1 259.8h0M322.2 263.8h0M314.4 261.9h0M307.0 267.5h0M302.8 265.9h0M306.2 269.2h0M317.7 262.2h0M312.5 263.1h0M320.7 260.0h0M335.0 239.2h0M335.0 237.2h0M331.0 243.6h0M332.2 242.8h0M334.8 241.8h0M335.0 234.7h0M307.3 272.9h0M329.0 304.1h0M291.8 316.8h0M293.7 317.6h0M296.0 309.3h0M318.0 303.2h0M304.2 295.7h0M290.4 322.7h0M311.6 293.3h0M317.3 287.2h0M289.4 325.9h0M298.4 305.4h0M295.3 289.8h0M301.7 292.7h0M315.2 279.0h0M296.0 309.1h0M319.1 293.6h0M324.7 285.0h0M322.9 271.7h0M302.3 285.4h0M318.0 297.9h0M319.4 300.6h0M309.2 298.9h0M332.6 294.3h0M322.7 309.6h0M303.3 286.9h0M320.8 302.7h0M297.0 294.1h0M331.4 291.7h0M303.0 296.3h0M328.7 310.6h0M320.5 285.4h0M303.9 285.8h0M292.8 315.1h0M291.5 307.6h0M319.5 296.3h0M296.7 295.3h0M328.3 291.9h0M325.9 285.4h0M303.6 295.9h0M323.7 299.5h0M315.4 299.2h0M294.8 288.6h0M332.0 302.6h0M323.0 302.9h0M324.8 275.4h0M321.7 311.3h0M297.5 308.7h0M293.2 306.1h0M301.8 293.6h0M313.7 283.5h0M294.5 308.2h0M319.5 311.5h0M300.2 304.5h0M327.4 298.2h0M290.8 327.7h0M295.6 307.3h0M317.7 280.3h0M312.5 292.6h0M332.4 296.3h0M332.0 288.2h0M330.9 299.6h0M298.0 302.0h0M306.0 295.5h0M325.5 300.1h0M320.9 281.5h0M292.6 308.2h0M297.2 309.0h0M329.4 284.5h0M327.4 297.2h0M297.7 292.7h0M324.5 301.9h0M290.3 328.9h0M301.3 282.6h0M288.0 318.6h0M321.6 303.0h0M325.2 306.6h0M318.2 293.6h0M317.3 287.2h0M323.8 301.4h0M305.3 303.9h0M321.4 269.2h0M297.6 292.1h0M318.6 298.3h0M324.6 310.2h0M325.8 312.1h0M322.5 277.6h0M317.5 308.6h0M320.7 279.4h0M305.4 286.9h0M317.7 302.3h0M295.4 301.3h0M327.0 308.9h0M319.9 289.1h0M311.7 284.4h0M289.1 311.6h0M299.3 305.5h0M296.1 301.7h0M321.9 272.0h0M309.7 293.8h0M328.4 296.7h0M313.3 285.6h0M303.3 299.3h0M326.7 284.4h0M329.8 293.3h0M299.8 310.0h0M327.4 282.0h0M312.6 301.2h0M289.7 304.4h0M301.8 286.1h0M288.9 309.1h0M301.1 302.2h0M289.8 310.8h0M313.9 291.9h0M315.5 288.7h0M324.5 281.7h0M312.3 294.3h0M303.5 290.6h0M324.8 307.0h0M321.0 308.0h0M322.2 271.6h0M311.1 287.2h0M312.6 290.1h0M304.9 285.4h0M314.4 280.6h0M321.2 276.0h0M332.7 295.8h0M290.6 312.4h0M317.3 292.4h0M292.5 294.0h0M289.3 320.8h0M287.1 317.3h0M336.0 293.3h0M291.4 300.4h0M298.8 294.6h0M324.8 292.9h0M322.8 285.0h0M303.6 296.4h0M302.7 300.2h0M334.5 292.3h0M318.1 304.2h0M303.3 284.0h0M323.0 311.7h0M301.4 284.7h0M316.9 284.0h0M293.5 306.5h0M326.1 295.5h0M331.6 292.9h0M293.6 311.8h0M328.4 293.9h0M313.2 290.1h0M295.3 293.5h0M302.0 288.4h0M296.9 287.8h0M314.2 290.4h0M305.5 297.0h0M289.5 321.0h0M316.3 292.3h0M325.8 292.0h0M291.5 309.8h0M301.1 291.4h0M327.4 296.5h0M304.5 293.3h0M323.5 306.7h0M292.8 315.2h0M325.8 296.8h0M324.6 310.8h0M316.8 279.7h0M299.0 286.0h0M332.5 297.6h0M330.8 285.2h0M288.6 323.6h0M293.4 302.6h0M319.7 285.5h0M323.9 291.0h0M326.7 299.8h0M298.4 307.5h0M323.5 309.1h0M325.3 309.6h0M322.8 293.3h0M294.5 286.1h0M326.7 297.7h0M316.8 313.9h0M296.7 296.8h0M317.4 284.2h0M301.7 299.2h0M298.4 299.2h0M301.6 296.5h0M312.8 285.6h0M297.4 293.7h0M307.0 294.9h0M296.8 287.0h0M329.2 289.1h0M317.4 289.7h0M324.9 276.6h0M316.1 293.8h0M324.9 303.8h0M297.9 306.5h0M297.9 293.8h0M322.2 275.4h0M328.4 301.1h0M292.4 292.1h0M286.4 315.8h0M327.5 308.6h0M321.9 299.4h0M330.7 292.3h0M311.0 293.5h0M320.5 318.3h0M297.9 291.1h0M316.0 283.9h0M320.4 269.1h0M297.7 291.8h0M323.1 275.5h0M325.4 305.3h0M315.1 293.6h0M324.0 287.5h0M318.3 297.3h0M315.7 299.8h0M291.7 312.3h0M296.7 290.8h0M301.3 295.1h0M325.2 303.4h0M326.6 291.8h0M293.9 313.4h0M316.0 298.2h0M314.5 319.3h0M313.6 284.8h0M320.6 296.7h0M324.1 305.8h0M300.3 298.1h0M291.0 321.0h0M318.0 309.3h0M323.5 281.6h0M306.2 310.6h0M296.0 290.2h0M288.8 300.8h0M329.3 287.8h0M325.3 306.3h0M316.0 310.9h0M304.2 295.9h0M325.1 301.8h0M289.0 299.7h0M288.4 315.8h0M319.1 286.2h0M321.0 306.1h0M286.7 325.7h0M313.1 294.2h0M321.9 285.9h0M289.3 307.3h0M319.2 318.2h0M319.9 276.3h0M309.2 294.5h0M317.7 293.0h0M296.4 304.3h0M336.2 301.8h0M320.4 302.7h0M302.0 306.0h0M295.9 312.1h0M334.0 289.1h0M295.8 289.2h0M331.0 292.1h0M298.3 306.1h0M304.1 297.6h0M323.5 286.2h0M321.2 312.4h0M328.4 284.1h0M330.8 298.9h0M291.2 317.6h0M300.5 302.9h0M326.3 303.6h0M317.0 298.1h0M329.2 295.0h0M320.7 268.7h0M323.9 292.3h0M315.3 312.7h0M293.1 321.4h0M288.7 323.1h0M336.1 295.4h0M310.4 295.1h0M297.5 295.1h0M323.1 311.7h0M302.8 292.4h0M290.8 304.5h0M323.0 311.7h0M323.5 272.7h0M332.9 290.6h0M298.0 307.5h0M302.0 303.0h0M297.1 284.9h0M287.5 313.2h0M320.4 277.9h0M293.8 302.4h0M317.6 277.0h0M318.8 282.4h0M314.2 285.0h0M319.1 300.6h0M333.7 296.4h0M299.3 296.8h0M315.5 296.0h0M292.4 288.9h0M330.5 299.3h0M323.5 274.9h0M306.7 291.6h0M317.6 315.2h0M322.0 287.7h0M305.2 282.4h0M297.3 310.6h0M321.7 289.4h0M316.3 304.5h0M321.7 294.5h0M287.8 316.6h0M329.6 291.4h0M329.8 291.9h0M315.8 293.2h0M324.4 301.0h0M320.1 300.4h0M287.2 324.0h0M303.7 296.3h0M322.1 278.4h0M312.7 282.1h0M332.7 296.7h0M297.5 311.8h0M335.5 301.6h0M322.9 295.9h0M318.4 284.5h0M298.9 284.7h0M294.1 309.4h0M296.2 307.2h0M319.1 317.0h0M300.1 285.6h0M287.9 321.4h0M323.5 295.0h0M314.7 284.3h0M323.0 304.0h0M323.7 304.6h0M299.9 309.9h0M291.9 304.9h0M321.7 314.0h0M307.1 290.3h0M308.6 294.5h0M296.1 287.2h0M325.3 278.0h0M316.6 290.5h0M326.9 302.2h0M313.2 283.9h0M297.9 301.5h0M321.2 275.0h0M293.7 313.1h0M323.0 273.8h0M323.4 308.1h0M311.0 283.0h0M325.5 310.0h0M319.9 292.7h0M297.5 288.9h0M303.9 293.7h0M322.0 306.6h0M322.5 310.5h0M318.3 278.4h0M316.2 287.9h0M298.7 287.3h0M296.9 308.3h0M320.3 309.2h0M290.4 297.3h0M320.9 298.2h0M300.9 298.9h0M300.9 289.4h0M335.2 292.8h0M318.5 313.8h0M299.7 307.9h0M322.2 310.4h0M326.3 296.6h0M325.3 302.9h0M293.9 310.1h0M294.2 311.3h0M330.6 293.4h0M316.6 283.7h0M326.9 305.9h0M306.7 284.5h0M300.0 287.2h0M292.3 314.8h0M324.8 280.3h0M326.5 281.2h0M323.5 311.3h0M321.1 312.2h0M327.7 306.6h0M294.0 300.3h0M293.1 290.8h0M295.1 290.4h0M301.9 302.1h0M290.4 300.6h0M298.1 301.5h0M305.7 317.6h0M316.6 302.2h0M288.3 322.9h0M288.3 318.6h0M319.9 302.0h0M318.6 305.7h0M323.2 288.7h0M331.5 296.2h0M323.8 278.7h0M325.6 300.8h0M298.3 302.3h0M293.6 290.9h0M316.4 303.2h0M311.5 289.9h0M318.3 282.7h0M308.2 284.4h0M315.0 282.9h0M327.9 300.9h0M302.0 296.4h0M290.4 298.1h0M321.9 280.6h0M324.9 293.0h0M287.4 325.0h0M302.0 293.0h0M324.8 276.5h0M294.0 296.0h0M318.9 291.1h0M322.5 317.1h0M325.2 295.9h0M324.7 310.7h0M298.0 285.5h0M315.8 299.5h0M297.1 302.9h0M287.9 323.2h0M303.9 296.9h0M307.7 285.7h0M324.6 277.9h0M290.2 304.3h0M295.7 286.7h0M319.0 279.2h0M298.7 307.1h0M289.8 313.7h0M291.1 305.1h0M321.0 292.8h0M324.9 283.2h0M317.7 311.8h0M306.9 288.4h0M293.7 310.1h0M322.9 274.7h0M325.3 298.3h0M298.0 306.9h0M320.7 308.8h0M325.5 302.8h0M291.9 300.0h0M294.4 290.0h0M304.2 292.3h0M319.4 307.5h0M302.3 296.5h0M305.9 313.1h0M325.9 278.7h0M298.2 286.3h0M334.0 295.1h0M293.2 312.9h0M317.8 294.8h0M295.2 295.0h0M310.4 291.2h0M323.5 299.4h0M321.8 281.8h0M330.4 304.4h0M321.5 307.4h0M321.6 283.4h0M314.5 318.6h0M304.9 311.4h0M301.5 300.2h0M313.0 292.8h0M331.4 304.5h0M326.1 300.3h0M314.9 317.9h0M291.0 322.2h0M298.8 290.1h0M291.0 312.1h0M295.8 302.8h0M325.6 284.0h0M321.6 283.8h0M292.4 314.5h0M291.9 309.7h0M291.2 320.7h0M324.1 274.6h0M286.7 303.0h0M333.0 288.8h0M325.4 309.6h0M302.2 286.4h0M292.6 313.0h0M316.4 292.8h0M304.5 291.2h0M318.6 309.4h0M294.9 314.3h0M292.5 313.4h0M316.0 298.8h0M323.5 307.9h0M324.1 276.3h0M300.0 285.3h0M317.6 289.8h0M317.8 286.5h0M320.2 287.3h0M306.0 291.0h0M303.7 287.2h0M332.9 303.5h0M292.9 291.6h0M327.1 278.7h0M325.0 282.6h0M294.8 309.3h0M294.3 310.9h0M319.5 294.7h0M299.4 287.9h0M324.8 295.0h0M295.3 307.6h0M294.0 294.3h0M307.7 295.0h0M289.4 304.9h0M290.6 330.4h0M294.8 294.7h0M315.5 299.5h0M291.4 330.0h0M325.5 278.9h0M296.9 298.7h0M313.6 283.8h0M300.2 296.6h0M330.8 288.5h0M305.1 300.2h0M292.3 310.4h0M318.9 282.9h0M329.4 290.7h0M300.1 305.3h0M322.1 282.1h0M321.8 282.4h0M320.2 300.4h0M294.9 293.0h0M312.8 283.2h0M313.0 293.7h0M318.5 318.6h0M317.4 300.2h0M287.0 316.0h0M317.5 288.8h0M306.2 288.6h0M293.8 314.9h0M320.4 292.9h0M321.7 279.2h0M288.3 324.7h0M327.8 301.1h0M295.4 307.2h0M319.3 300.3h0M292.2 305.8h0M285.9 317.4h0M320.8 295.0h0M330.3 293.9h0M312.8 288.1h0M319.3 309.9h0M320.2 305.1h0M288.2 316.7h0M295.9 286.9h0M319.1 307.5h0M321.8 312.4h0M298.6 305.4h0M288.0 320.8h0M326.8 312.0h0M292.2 306.1h0M324.3 306.9h0M315.2 313.3h0M319.5 312.5h0M320.3 312.9h0M326.2 283.8h0M314.8 316.4h0M323.6 313.8h0M315.8 283.2h0M296.5 296.3h0M298.2 304.8h0M312.9 282.9h0M300.0 290.6h0M289.6 311.4h0M312.0 283.9h0M318.8 315.1h0M296.6 289.3h0M309.6 286.5h0M302.2 289.6h0M303.3 297.2h0M295.8 306.4h0M318.0 281.5h0M292.0 320.3h0M308.4 321.8h0M289.9 301.6h0M288.1 320.2h0M324.3 281.4h0M319.3 278.2h0M298.6 303.3h0M321.3 295.2h0M296.9 311.7h0M300.0 307.1h0M323.9 310.2h0M319.1 280.5h0M287.5 319.6h0M325.3 300.3h0M323.3 292.1h0M325.5 292.8h0M322.9 307.7h0M291.3 273.4h0M318.0 293.0h0M300.1 306.5h0M318.3 295.7h0M321.4 318.8h0M315.7 278.7h0M319.6 294.7h0M302.6 323.2h0M315.9 301.6h0M335.6 294.6h0M301.5 297.4h0M322.4 291.8h0M310.3 296.9h0M295.4 303.9h0M323.1 280.4h0M287.2 314.2h0M326.4 303.2h0M297.1 310.5h0M322.0 301.0h0M317.7 310.8h0M319.4 276.4h0M320.7 307.4h0M301.0 300.0h0M319.7 314.6h0M294.1 305.8h0M327.4 296.1h0M325.5 306.6h0M323.3 291.6h0M299.1 284.6h0M325.8 298.2h0M329.6 292.8h0M334.6 294.4h0M307.3 312.3h0M332.8 292.4h0M313.4 286.7h0M326.6 281.3h0M326.2 285.5h0M320.9 298.5h0M295.8 303.7h0M323.8 291.6h0M322.4 305.4h0M324.7 274.9h0M326.2 306.8h0M323.3 306.8h0M291.6 319.3h0M317.5 276.2h0M289.1 317.8h0M319.0 313.9h0M301.1 301.6h0M295.8 290.6h0M318.0 310.4h0M301.1 292.9h0M300.6 281.6h0M330.2 295.1h0M305.5 288.8h0M297.6 297.5h0M328.3 302.0h0M293.9 299.9h0M323.1 291.4h0M317.5 312.2h0M318.2 312.1h0M300.0 298.0h0M334.1 295.3h0M322.7 289.8h0M299.4 295.0h0M334.3 303.5h0M323.6 314.4h0M289.3 303.8h0M306.8 287.1h0M327.1 295.3h0M321.1 295.5h0M323.8 297.5h0M326.6 296.0h0M306.0 288.9h0M288.8 314.0h0M321.4 315.3h0M317.7 297.7h0M290.5 316.8h0M308.3 294.2h0M300.4 303.7h0M298.8 311.7h0M322.4 274.1h0M332.0 295.6h0M294.7 298.4h0M317.0 307.4h0M325.4 305.3h0M324.1 301.0h0M326.5 277.8h0M289.2 314.3h0M302.7 283.9h0M332.0 307.8h0M317.3 283.1h0M334.9 292.9h0M315.8 297.5h0M298.1 309.7h0M308.6 294.0h0M309.1 311.4h0M307.7 287.8h0M295.3 290.4h0M288.5 310.8h0M312.6 290.1h0M330.7 303.1h0M297.2 289.5h0M326.8 297.2h0M302.3 301.1h0M323.0 269.1h0M295.6 304.8h0M322.0 307.2h0M294.2 314.0h0M319.4 304.7h0M301.1 307.3h0M318.2 294.4h0M327.8 293.3h0M317.8 294.9h0M292.2 297.6h0M329.6 297.7h0M301.3 309.1h0M306.0 285.0h0M292.5 311.2h0M317.1 287.0h0M308.5 287.6h0M321.0 289.1h0M299.5 311.8h0M309.5 306.0h0M352.1 301.1h0M356.7 311.1h0M309.6 300.0h0M343.6 291.5h0M316.6 324.8h0M307.4 318.1h0M312.9 321.9h0M318.7 301.6h0M321.3 293.6h0M310.0 301.5h0M307.2 300.8h0M351.7 301.1h0M316.0 304.8h0M310.3 303.5h0M314.4 306.0h0M306.4 314.5h0M346.7 294.8h0M348.2 296.5h0M353.2 310.4h0M317.1 334.6h0M316.4 307.1h0M320.0 330.0h0M344.4 294.0h0M321.7 300.6h0M337.8 291.5h0M309.0 313.4h0M315.1 317.3h0M316.8 304.9h0M351.2 310.5h0M310.7 309.1h0M352.8 305.4h0M349.1 294.0h0M342.9 289.8h0M310.3 322.9h0M358.0 310.6h0M306.7 316.2h0M306.3 311.2h0M312.4 305.7h0M319.2 319.2h0M323.0 305.4h0M318.5 311.0h0M348.7 298.4h0M309.8 301.4h0M312.6 323.1h0M352.0 295.2h0M316.3 316.0h0M304.0 308.9h0M312.4 314.2h0M345.4 289.5h0M316.3 319.2h0M312.4 316.2h0M357.0 311.6h0M320.8 307.3h0M317.4 318.0h0M317.6 308.3h0M331.4 301.5h0M313.3 300.6h0M316.9 322.6h0M353.1 297.5h0M345.2 302.3h0M306.8 316.3h0M335.6 293.8h0M305.7 296.8h0M309.1 299.6h0M357.2 306.9h0M345.9 298.0h0M318.7 312.5h0M319.4 306.8h0M352.7 302.6h0M306.8 314.2h0M316.3 313.0h0M349.7 293.7h0M346.5 293.4h0M314.8 312.6h0M345.5 292.0h0M355.8 299.3h0M351.3 302.7h0M321.2 325.5h0M317.3 309.7h0M313.5 330.6h0M350.1 301.1h0M342.6 296.2h0M316.6 301.7h0M349.5 298.2h0M354.3 303.5h0M310.7 315.4h0M319.9 312.4h0M307.3 309.6h0M313.9 315.7h0M313.6 308.7h0M346.3 305.0h0M339.2 298.4h0M306.0 300.7h0M316.1 300.0h0M355.0 315.5h0M318.4 305.0h0M356.9 314.7h0M309.4 315.4h0M326.1 301.1h0M327.5 295.7h0M344.5 291.8h0M311.4 317.1h0M349.2 295.7h0M340.8 292.4h0M314.6 318.5h0M331.8 298.6h0M329.3 300.6h0M320.3 311.2h0M341.0 290.2h0M357.0 309.5h0M350.7 304.1h0M327.6 297.0h0M346.4 294.7h0M350.4 300.3h0M323.2 292.6h0M320.1 324.1h0M339.6 289.4h0M347.6 293.7h0M350.9 300.1h0M343.5 289.0h0M319.0 303.2h0M344.3 302.0h0M311.2 300.1h0M340.5 298.4h0M341.1 288.5h0M343.1 291.8h0M313.2 308.9h0M316.0 322.7h0M314.7 317.6h0M319.4 305.8h0M317.3 292.1h0M315.9 303.6h0M323.3 333.6h0M348.6 295.6h0M347.3 290.4h0M320.2 307.4h0M316.5 321.9h0M352.6 312.5h0M323.0 303.0h0M354.3 308.5h0M317.7 329.9h0M343.9 293.6h0M323.1 294.1h0M353.9 313.4h0M352.0 300.9h0M322.6 291.2h0M326.6 292.0h0M311.6 320.8h0M324.4 302.7h0M318.5 332.0h0M313.7 315.2h0M324.8 297.0h0M349.6 308.3h0M346.7 295.3h0M315.1 317.3h0M345.4 291.4h0M322.6 293.0h0M354.1 312.2h0M340.8 298.7h0M311.0 317.8h0M307.3 311.0h0M329.0 300.2h0M347.5 292.0h0M353.3 310.3h0M308.7 309.5h0M313.5 320.3h0M313.0 320.2h0M347.6 295.2h0M312.7 321.3h0M327.9 301.4h0M339.7 289.3h0M344.3 287.4h0M354.2 297.4h0M352.8 300.4h0M309.9 299.6h0M353.0 309.1h0M355.7 307.8h0M312.3 310.8h0M355.2 310.6h0M312.1 318.3h0M309.3 303.8h0M312.7 313.2h0M318.2 305.4h0M306.8 311.6h0M310.2 316.4h0M313.1 319.6h0M318.3 316.2h0M342.8 291.1h0M320.1 332.0h0M326.5 303.7h0M343.7 297.7h0M346.4 299.8h0M310.7 317.6h0M342.8 289.4h0M312.1 318.6h0M346.9 305.3h0M345.1 292.3h0M349.5 299.3h0M348.2 295.0h0M327.2 293.3h0M332.3 300.0h0M313.6 314.9h0M312.7 298.9h0M342.6 288.5h0M352.8 308.6h0M343.6 293.9h0M344.6 295.8h0M339.1 298.4h0M340.2 299.9h0M316.6 307.0h0M356.0 309.8h0M314.8 323.4h0M350.6 296.8h0M355.9 310.0h0M346.1 292.2h0M314.9 297.9h0M349.1 292.2h0M316.8 308.3h0M348.9 296.3h0M354.3 312.5h0M316.1 324.8h0M325.7 295.7h0M306.3 299.9h0M319.2 292.4h0M350.0 310.0h0M309.4 308.2h0M326.8 300.1h0M317.3 319.9h0M349.2 299.4h0M347.4 295.0h0M351.0 307.3h0M343.3 296.2h0M351.1 305.1h0M340.0 293.4h0M317.0 313.2h0M310.0 315.5h0M319.5 311.3h0M311.4 312.6h0M316.4 299.2h0M342.9 290.3h0M307.4 300.9h0M310.3 311.6h0M316.4 302.1h0M353.3 307.6h0M312.8 317.6h0M353.3 306.5h0M316.0 318.8h0M311.1 319.1h0M314.9 309.6h0M356.7 307.7h0M341.8 300.6h0M353.0 311.9h0M318.2 314.2h0M337.9 288.9h0M352.3 302.3h0M353.9 310.3h0M350.6 300.9h0M341.9 289.1h0M311.8 323.0h0M355.7 308.5h0M352.3 305.8h0M345.5 303.0h0M345.3 288.9h0M356.2 346.7h0M354.4 315.4h0M353.3 349.1h0M355.4 347.2h0M356.1 346.9h0M352.5 348.2h0M355.2 347.3h0M355.2 314.4h0M354.5 347.8h0M357.6 344.6h0M355.8 347.2h0M354.5 346.8h0M330.8 331.8h0M341.0 341.9h0M338.0 342.2h0M332.7 307.1h0M336.8 342.6h0M349.0 331.2h0M336.7 303.1h0M322.4 333.8h0M341.2 346.9h0M332.1 306.9h0M335.9 345.7h0M342.0 338.6h0M337.9 308.6h0M334.4 346.6h0M333.7 313.9h0M323.0 332.8h0M334.2 312.9h0M336.0 323.3h0M337.9 306.6h0M349.7 319.8h0M352.5 316.0h0M340.3 305.9h0M326.2 336.5h0M344.8 314.1h0M348.7 335.8h0M347.8 321.2h0M325.3 332.8h0M343.0 338.1h0M338.1 318.0h0M335.7 308.5h0M347.5 313.9h0M336.6 306.9h0M339.5 324.9h0M338.8 305.8h0M325.3 311.0h0M357.7 331.2h0M355.6 323.9h0M331.3 301.4h0M352.5 329.8h0M331.4 307.5h0M335.7 303.1h0M346.9 345.8h0M342.2 349.4h0M340.2 307.2h0M340.3 319.1h0M333.6 332.6h0M324.5 314.7h0M351.7 338.9h0M330.7 317.5h0M346.0 329.3h0M349.8 338.9h0M321.0 333.5h0M333.1 309.1h0M333.9 334.6h0M334.4 316.0h0M336.1 306.6h0M350.4 344.7h0M346.1 316.4h0M338.2 326.7h0M345.9 314.2h0M331.2 326.8h0M330.8 304.4h0M350.4 339.8h0M329.6 310.0h0M342.6 327.1h0M354.9 331.6h0M340.6 318.1h0M326.1 315.6h0M329.2 326.5h0M354.6 322.3h0M348.9 321.5h0M325.0 327.0h0M328.7 321.6h0M353.6 322.5h0M342.9 334.9h0M342.8 314.8h0M346.8 329.7h0M344.1 328.5h0M323.8 323.5h0M329.5 318.2h0M350.5 345.0h0M336.5 330.1h0M332.0 328.8h0M330.5 320.7h0M324.4 313.7h0M332.3 303.5h0M340.6 345.6h0M343.4 306.5h0M331.0 327.6h0M325.9 317.3h0M350.8 314.5h0M330.2 325.7h0M349.6 346.9h0M343.5 342.9h0M325.3 309.8h0M341.7 351.5h0M330.4 323.9h0M340.6 324.8h0M349.4 321.3h0M347.2 316.7h0M354.4 338.9h0M330.9 315.6h0M351.2 336.7h0M336.5 328.8h0M322.0 326.2h0M345.1 325.8h0M340.6 323.3h0M321.7 320.4h0M331.0 331.2h0M356.1 330.4h0M337.8 346.7h0M334.1 324.6h0M328.5 329.0h0M326.3 311.7h0M340.4 336.1h0M338.1 316.8h0M330.5 321.1h0M348.0 349.3h0M353.7 329.0h0M336.6 335.2h0M345.9 339.7h0M346.1 320.1h0M344.1 319.0h0M329.9 330.6h0M345.0 333.4h0M337.2 345.6h0M322.3 324.4h0M344.8 323.1h0M346.6 349.2h0M336.6 319.8h0M327.0 315.4h0M328.2 305.8h0M342.3 313.8h0M354.2 335.4h0M336.3 337.3h0M333.4 322.4h0M341.7 343.5h0M323.2 333.8h0M335.6 307.0h0M342.1 318.2h0M349.5 325.2h0M345.5 326.7h0M335.3 344.8h0M341.5 344.1h0M347.7 347.2h0M329.0 339.4h0M322.6 320.8h0M347.4 344.3h0M345.4 334.8h0M328.2 327.7h0M345.0 342.7h0M329.8 325.0h0M326.4 332.2h0M332.4 341.2h0M334.4 319.3h0M326.7 326.9h0M327.3 320.0h0M339.7 346.2h0M348.8 312.2h0M324.7 335.3h0M330.8 305.5h0M323.9 314.5h0M328.8 306.5h0M326.8 317.2h0M346.1 352.7h0M339.4 324.1h0M338.0 337.3h0M350.4 333.9h0M336.1 306.2h0M350.9 338.3h0M327.8 324.1h0M333.0 334.4h0M345.4 308.8h0M328.7 315.0h0M355.8 331.4h0M330.4 325.2h0M331.1 341.9h0M355.9 333.9h0M342.9 340.8h0M343.1 332.3h0M337.4 333.8h0M324.5 315.6h0M342.9 330.2h0M337.7 319.7h0M322.5 326.3h0M323.7 316.1h0M332.1 344.4h0M350.1 347.9h0M343.0 308.9h0M344.9 339.0h0M341.6 320.2h0M330.3 313.8h0M344.2 321.7h0M344.6 347.0h0M343.8 343.7h0M329.4 331.4h0M334.5 310.6h0M355.0 330.5h0M344.8 319.3h0M346.3 324.0h0M332.8 324.5h0M346.6 311.6h0M342.5 310.5h0M341.1 329.0h0M341.4 308.1h0M356.2 317.0h0M325.7 322.1h0M348.7 314.7h0M338.0 324.0h0M327.7 333.3h0M330.0 338.6h0M350.0 341.6h0M334.8 346.2h0M341.7 334.8h0M350.6 327.8h0M350.9 330.7h0M330.1 310.1h0M353.9 316.8h0M340.6 348.0h0M340.2 339.6h0M350.4 321.7h0M355.2 337.6h0M354.5 323.9h0M337.2 336.3h0M351.6 324.8h0M339.2 305.6h0M338.8 318.8h0M336.6 343.0h0M331.9 345.2h0M322.1 320.5h0M343.0 341.3h0M329.1 325.2h0M347.6 314.4h0M353.3 337.9h0M357.8 327.4h0M347.2 310.1h0M348.0 314.1h0M334.0 335.7h0M343.8 320.6h0M329.3 332.5h0M332.2 339.6h0M351.9 328.3h0M330.3 331.1h0M330.4 334.3h0M343.2 312.0h0M339.9 346.6h0M337.4 325.2h0M341.0 335.6h0M333.7 301.8h0M348.0 339.5h0M335.4 333.8h0M349.7 325.7h0M339.3 335.5h0M323.6 335.3h0M334.9 314.7h0M333.4 313.2h0M350.9 330.3h0M334.3 343.7h0M339.9 321.9h0M341.9 342.5h0M352.5 339.4h0M331.7 311.9h0M336.4 309.5h0M327.8 320.0h0M351.2 327.6h0M340.9 305.3h0M334.7 317.3h0M332.9 324.3h0M332.0 330.1h0M320.7 327.6h0M338.5 326.2h0M344.1 336.8h0M333.3 311.2h0M333.4 309.2h0M331.9 316.9h0M338.2 325.8h0M353.0 342.9h0M339.3 347.5h0M328.5 318.2h0M342.6 350.3h0M348.0 325.0h0M338.2 311.1h0M340.6 320.8h0M325.6 316.7h0M338.8 318.4h0M339.8 329.6h0M354.7 324.8h0M338.0 309.1h0M350.3 337.3h0M340.7 327.1h0M334.3 310.2h0M340.0 341.6h0M343.7 339.8h0M345.9 337.8h0M331.2 329.8h0M338.3 324.9h0M346.5 347.5h0M332.6 343.8h0M337.8 346.2h0M344.5 328.2h0M329.8 313.4h0M353.5 316.9h0M324.5 328.3h0M344.4 318.8h0M349.4 318.1h0M338.0 308.1h0M320.7 328.3h0M344.1 336.8h0M343.8 319.3h0M334.1 327.0h0M351.0 327.9h0M349.0 324.5h0M337.5 339.9h0M346.8 324.3h0M331.5 327.2h0M330.2 327.0h0M330.9 323.8h0M325.6 328.4h0M336.1 327.5h0M336.5 305.5h0M324.0 324.3h0M341.8 327.6h0M338.9 347.5h0M346.4 344.3h0M329.8 306.5h0M343.6 320.6h0M327.1 325.6h0M326.8 335.1h0M343.4 347.3h0M346.5 319.8h0M347.4 327.9h0M351.3 320.4h0M338.9 333.9h0M336.2 319.4h0M352.9 313.4h0M339.1 327.5h0M345.2 332.0h0M349.0 321.2h0M342.8 338.2h0M327.3 337.2h0M329.3 340.4h0M326.3 313.5h0M346.2 306.1h0M333.1 330.1h0M344.7 336.5h0M332.1 336.9h0M341.3 333.9h0M355.5 328.2h0M324.6 319.2h0M337.6 302.6h0M333.4 325.5h0M329.6 333.2h0M326.9 318.4h0M335.5 339.8h0M337.0 313.0h0M343.4 319.8h0M334.9 310.7h0M341.4 334.4h0M323.8 333.4h0M333.5 331.1h0M345.8 349.4h0M346.7 322.2h0M334.9 311.2h0M350.7 344.3h0M327.7 325.5h0M323.2 326.2h0M339.4 344.0h0M331.5 316.6h0M355.1 326.7h0M333.7 322.3h0M335.4 333.6h0M339.5 343.5h0M355.7 329.9h0M331.8 299.9h0M325.8 339.1h0M329.5 328.5h0M336.2 312.6h0M351.0 314.0h0M337.4 335.7h0M338.8 338.4h0M324.2 312.2h0M326.3 327.9h0M340.5 338.7h0M342.1 327.4h0M329.9 307.8h0M339.9 330.0h0M331.0 306.3h0M324.2 332.7h0M344.2 310.4h0M338.5 330.2h0M334.7 312.5h0M349.1 334.4h0M333.9 303.0h0M341.4 336.6h0M346.9 344.0h0M340.5 329.6h0M345.2 326.0h0M351.8 333.0h0M346.8 349.8h0M328.2 326.7h0M345.1 321.3h0M328.0 340.6h0M331.7 343.5h0M336.6 314.1h0M338.4 349.0h0M338.3 347.6h0M349.6 314.8h0M338.1 349.9h0M321.9 321.9h0M336.8 333.8h0M348.9 342.8h0M352.0 335.6h0M341.7 327.8h0M342.0 342.3h0M341.1 311.5h0M354.7 331.3h0M323.6 326.7h0M324.0 323.8h0M353.7 329.5h0M341.7 333.0h0M339.0 312.1h0M347.5 332.0h0M343.1 337.2h0M337.6 340.5h0M350.8 321.1h0M342.3 332.3h0M342.3 305.3h0M347.4 338.6h0M331.1 318.1h0M351.6 315.9h0M334.5 320.2h0M328.3 322.0h0M354.2 346.5h0M349.8 344.9h0M336.5 316.6h0M331.4 307.3h0M348.9 327.2h0M355.8 326.2h0M344.2 337.6h0M347.8 327.5h0M343.2 341.2h0M335.9 314.9h0M333.4 322.5h0M347.7 320.7h0M353.2 332.6h0M325.6 321.3h0M332.1 343.4h0M341.0 334.8h0M328.3 325.9h0M336.8 343.6h0M329.4 322.7h0M345.7 348.8h0M331.7 325.2h0M343.7 342.2h0M332.9 320.8h0M348.0 316.0h0M328.8 331.5h0M344.5 325.9h0M352.0 334.5h0M334.5 331.0h0M321.2 322.5h0M327.1 322.0h0M343.5 320.7h0M344.5 342.4h0M336.0 330.4h0M348.6 318.9h0M334.6 333.3h0M334.4 346.8h0M333.5 345.7h0M324.8 339.0h0M349.6 333.5h0M330.7 307.2h0M324.9 314.7h0M331.4 345.1h0M327.2 330.3h0M337.5 313.3h0M349.8 321.1h0M339.8 344.3h0M349.4 346.1h0M333.2 310.1h0M350.3 333.5h0M336.5 307.9h0M328.2 308.2h0M351.0 342.3h0M329.7 321.3h0M335.7 331.4h0M339.3 319.4h0M350.7 324.2h0M326.9 308.4h0M353.1 327.1h0M329.6 336.9h0M346.5 342.2h0M345.6 331.5h0M329.4 328.0h0M341.7 328.3h0M340.7 325.2h0M346.7 310.3h0M322.5 320.0h0M348.9 324.4h0M328.0 311.2h0M349.4 337.5h0M332.8 305.3h0M354.6 327.0h0M325.8 319.0h0M323.6 325.1h0M334.9 317.1h0M351.0 322.5h0M340.7 329.7h0M345.9 332.1h0M343.7 308.9h0M346.9 343.9h0M324.4 323.4h0M334.5 326.3h0M329.8 309.1h0M322.4 323.3h0M345.2 343.9h0M345.0 336.7h0M332.6 305.4h0M325.9 318.9h0M330.6 342.4h0M346.4 320.1h0M322.3 328.0h0M349.1 314.2h0M342.2 307.5h0M351.0 329.9h0M339.0 307.5h0M333.9 313.7h0M345.1 319.2h0M336.3 326.2h0M353.4 341.2h0M355.1 327.8h0M321.5 325.3h0M329.4 330.9h0M350.0 313.0h0M336.7 308.5h0M340.9 347.5h0M326.3 328.0h0M342.4 319.9h0M333.1 337.1h0M332.9 307.1h0M338.9 328.8h0M326.7 337.3h0M350.4 344.8h0M331.4 309.5h0M324.6 313.9h0M342.5 319.5h0M340.7 313.1h0M353.3 321.4h0M342.9 309.9h0M330.0 319.4h0M349.1 322.0h0M353.0 319.8h0M345.7 349.3h0M324.7 327.5h0M323.0 337.0h0M352.9 342.1h0M347.8 341.8h0M341.7 344.3h0M325.2 321.3h0M328.1 327.8h0M323.4 322.9h0M339.6 348.1h0M343.3 318.6h0M333.3 315.4h0M339.2 316.3h0M325.5 332.0h0M341.4 324.9h0M334.5 314.1h0M337.4 343.8h0M330.6 317.9h0M337.5 334.4h0M355.1 334.6h0M338.0 347.9h0M342.2 339.9h0M343.5 319.7h0M339.3 298.7h0M333.1 309.9h0M346.3 331.0h0M345.4 333.7h0M327.0 336.4h0M333.2 307.8h0M351.1 341.1h0M334.4 340.8h0M333.1 326.4h0M340.4 322.9h0M327.5 333.7h0M333.0 322.2h0M328.1 336.3h0M329.3 323.2h0M338.0 334.8h0M328.0 340.9h0M352.2 324.1h0M335.6 313.9h0M344.8 337.9h0M326.6 327.1h0M355.0 337.8h0M344.5 338.1h0M331.8 306.8h0M352.0 337.3h0M349.0 338.0h0M333.2 338.3h0M355.4 325.9h0M346.4 339.7h0M351.2 314.7h0M321.3 320.9h0M328.3 335.8h0M335.5 308.1h0M326.0 312.8h0M324.6 317.9h0M344.6 313.8h0M341.7 348.3h0M326.1 335.0h0M330.5 314.4h0M354.4 330.9h0M327.1 312.6h0M342.6 318.4h0M342.1 333.5h0M320.4 326.8h0M346.0 316.8h0M351.5 319.5h0M338.5 324.2h0M349.1 316.6h0M330.6 303.0h0M344.3 329.1h0M350.5 334.3h0M340.5 305.1h0M349.9 340.6h0M331.8 339.1h0M341.0 316.4h0M344.3 344.5h0M341.3 343.1h0M343.7 317.1h0M345.9 326.6h0M337.6 339.4h0M346.6 332.7h0M350.9 320.5h0M337.9 331.4h0M346.9 338.8h0M349.2 347.6h0M327.3 334.8h0M354.9 334.2h0M331.9 339.7h0M343.0 333.0h0M336.2 333.0h0M345.0 329.7h0M353.2 328.6h0M346.7 344.0h0M323.6 319.5h0M338.7 303.0h0M344.6 308.5h0M335.4 306.6h0M342.3 332.1h0M349.0 345.6h0M333.4 308.5h0M354.8 340.8h0M344.3 333.1h0M350.3 339.1h0M352.1 337.3h0M353.8 335.0h0M339.2 325.1h0M328.8 310.4h0M341.1 342.0h0M344.8 343.5h0M339.2 331.8h0M350.2 325.9h0M347.6 333.3h0M333.0 333.4h0M329.5 328.2h0M335.3 306.6h0M321.6 323.1h0M345.9 319.0h0M355.6 338.6h0M325.0 336.6h0M325.4 329.7h0M342.2 324.7h0M324.6 320.1h0M330.4 304.4h0M343.0 320.4h0M338.5 309.1h0M348.7 314.2h0M325.0 313.3h0M346.2 337.7h0M353.2 338.8h0M330.5 336.5h0M344.0 328.1h0M348.5 343.0h0M338.4 331.1h0M334.2 301.0h0M323.7 319.4h0M332.8 304.8h0M332.1 318.6h0M325.5 337.4h0M323.7 324.8h0M335.3 313.8h0M333.6 346.1h0M334.3 342.0h0M352.7 323.9h0M333.6 312.9h0M351.4 329.7h0M351.6 334.6h0M337.2 336.5h0M337.2 336.0h0M342.3 327.9h0M349.2 338.7h0M337.7 321.8h0M333.7 340.7h0M347.6 318.1h0M345.4 328.4h0M319.0 327.5h0M339.4 325.9h0M342.6 328.5h0M333.6 345.3h0M338.2 310.9h0M322.3 321.6h0M329.7 325.6h0M340.4 304.1h0M346.0 338.6h0M325.0 332.6h0M343.4 314.2h0M336.3 347.2h0M345.4 329.2h0M351.2 338.2h0M349.3 308.6h0M341.8 345.6h0M346.8 333.3h0M327.7 310.7h0M353.7 332.0h0M350.6 322.0h0M336.8 337.1h0M343.4 319.3h0M344.1 338.7h0M341.2 328.2h0M330.1 330.9h0M353.6 319.0h0M328.5 311.2h0M331.2 339.9h0M325.5 335.7h0M328.9 335.9h0M326.0 315.2h0M353.3 327.4h0M333.3 309.7h0M344.5 335.3h0M346.0 347.1h0M325.6 323.2h0M335.2 322.5h0M344.3 337.8h0M352.2 327.6h0M325.1 326.1h0M322.0 323.6h0M328.7 320.4h0M353.0 326.5h0M335.0 344.1h0M344.5 341.3h0M353.7 330.7h0M333.2 339.7h0M345.6 313.9h0M322.1 321.6h0M328.6 344.5h0M343.4 324.8h0M341.1 315.7h0M336.2 299.0h0M328.4 340.9h0M335.8 303.5h0M341.6 304.7h0M346.2 344.0h0M338.8 342.3h0M341.5 331.7h0M354.4 331.3h0M345.2 325.6h0M331.5 316.8h0M333.0 311.4h0M352.4 339.7h0M335.2 303.0h0M348.4 310.5h0M317.7 346.7h0M334.9 353.2h0M322.0 342.7h0M317.5 350.7h0M325.2 354.4h0M321.4 337.8h0M322.1 348.6h0M319.3 339.2h0M335.2 348.2h0M335.6 354.2h0M325.8 345.1h0M330.1 354.9h0M330.0 353.0h0M320.5 345.4h0M343.4 351.7h0M324.4 352.8h0M337.2 357.9h0M316.4 350.4h0M318.5 352.1h0M338.7 358.6h0M330.0 357.0h0M338.1 348.3h0M334.2 349.9h0M326.8 354.9h0M311.1 341.6h0M338.0 346.4h0M331.1 358.2h0M315.3 346.1h0M320.5 353.9h0M318.4 342.9h0M344.6 352.0h0M312.2 345.0h0M341.9 354.6h0M331.3 347.9h0M337.5 356.1h0M339.7 349.0h0M339.7 350.9h0M334.8 353.5h0M318.1 341.2h0M332.7 361.0h0M324.1 335.5h0M321.3 341.2h0M330.2 357.6h0M338.8 355.0h0M316.9 349.8h0M322.0 339.2h0M335.3 360.9h0M331.0 348.1h0M326.1 354.3h0M337.5 360.8h0M337.3 355.6h0M332.8 359.0h0M316.0 337.4h0M331.0 355.0h0M325.6 354.9h0M331.1 345.6h0M314.9 349.5h0M319.8 347.2h0M318.9 339.5h0M338.1 354.7h0M329.4 351.5h0M331.3 350.3h0M333.9 351.2h0M348.2 353.4h0M323.6 342.0h0M340.2 358.0h0M314.1 335.9h0M327.1 344.5h0M318.2 341.0h0M325.3 353.6h0M318.2 349.5h0M319.5 331.9h0M316.7 343.4h0M342.4 349.5h0M312.3 333.0h0M314.2 345.3h0M346.3 353.6h0M317.4 342.2h0M315.7 348.0h0M319.3 336.3h0M325.4 343.5h0M311.8 343.4h0M321.6 344.8h0M340.2 348.1h0M316.8 346.7h0M333.0 351.2h0M327.9 359.3h0M322.1 352.5h0M344.8 356.0h0M314.2 339.6h0M326.5 353.1h0M316.9 337.4h0M332.6 348.9h0M322.1 356.2h0M338.3 354.2h0M326.3 359.6h0M338.7 360.4h0M311.9 336.8h0M334.4 349.2h0M324.5 358.2h0M335.7 356.9h0M322.5 344.7h0M324.0 342.1h0M345.1 354.0h0M332.6 351.2h0M312.1 338.9h0M331.5 346.8h0M324.2 342.9h0M313.0 347.7h0M313.5 346.7h0M329.2 350.0h0M323.4 348.9h0M337.8 359.0h0M327.2 352.6h0M319.1 343.3h0M314.6 346.1h0M312.6 345.3h0M325.4 351.4h0M337.3 354.7h0M323.0 348.4h0M322.3 353.8h0M320.4 337.6h0M345.1 351.5h0M334.6 355.4h0M316.9 335.3h0M325.4 350.4h0M333.5 361.9h0M319.2 350.4h0M330.6 344.4h0M324.8 349.8h0M338.0 354.7h0M331.2 348.5h0M315.3 338.2h0M326.1 348.3h0M330.2 345.3h0M329.8 355.4h0M329.1 348.3h0M330.8 346.2h0M326.8 342.6h0M328.4 342.7h0M323.1 355.6h0M312.5 337.3h0M322.6 354.8h0M326.6 357.9h0M333.2 355.4h0M320.0 337.7h0M335.6 348.3h0M319.0 338.4h0M321.8 337.8h0M323.0 342.7h0M342.1 356.5h0M321.6 353.3h0M341.4 348.8h0M337.7 353.9h0M343.2 352.0h0M340.1 358.6h0M327.8 350.7h0M335.9 350.5h0M321.3 350.8h0M319.4 351.4h0M310.9 338.4h0M322.8 349.5h0M340.1 353.4h0M347.1 352.7h0M342.3 350.4h0M342.5 354.5h0M321.0 344.2h0M334.7 351.3h0M345.7 353.5h0M324.9 349.1h0M317.4 347.2h0M340.7 357.7h0M333.8 352.7h0M315.5 349.5h0M335.6 348.3h0M319.0 345.3h0M318.2 339.2h0M322.9 341.9h0M318.3 344.5h0M320.4 353.6h0M327.8 348.7h0M320.0 349.6h0M335.1 352.4h0M317.7 342.1h0M314.5 347.4h0M343.1 355.3h0M323.5 351.8h0M337.7 354.2h0M327.7 350.2h0M313.3 337.6h0M328.8 354.4h0M337.2 353.7h0M319.8 342.5h0M336.7 359.8h0M328.0 358.4h0M318.0 349.4h0M316.5 349.3h0M341.0 358.3h0M332.9 358.6h0M327.4 347.0h0M323.5 344.7h0M344.8 350.7h0M323.3 350.3h0M318.1 338.2h0M325.1 343.1h0M312.2 340.8h0M337.1 354.7h0M322.5 344.0h0M321.1 347.4h0M332.4 348.7h0M337.9 358.2h0M326.4 361.5h0M334.3 349.3h0M337.6 352.2h0M321.6 349.3h0M320.4 341.3h0M314.2 339.3h0M332.7 348.8h0M313.1 345.2h0M326.2 346.8h0M317.9 346.7h0M325.2 350.8h0M345.8 353.5h0M326.2 355.2h0M339.8 355.7h0M314.4 348.0h0M340.3 354.6h0M335.7 348.9h0M324.5 352.3h0M313.8 342.7h0M336.7 353.2h0M316.5 337.7h0M315.0 337.6h0M314.5 346.0h0M325.7 353.6h0M315.8 333.9h0M344.6 351.1h0M315.0 347.6h0M331.9 353.8h0M340.2 358.9h0M342.3 356.7h0M317.3 339.8h0M331.8 362.6h0M323.8 346.2h0M330.4 355.4h0M329.6 342.9h0M321.8 339.5h0M336.9 347.1h0M340.1 352.7h0M326.0 349.9h0M338.9 359.5h0M319.9 354.3h0M323.9 344.3h0M328.7 356.8h0M334.8 350.5h0M329.5 356.6h0M327.1 354.2h0M328.0 342.1h0M328.7 348.5h0M328.5 350.9h0M346.9 355.5h0M347.9 354.6h0M317.2 337.1h0M314.4 343.5h0M322.2 347.5h0M329.7 355.1h0M330.5 361.0h0M340.8 347.8h0M316.2 342.7h0M330.4 348.5h0M315.4 335.5h0M312.8 339.2h0M337.0 357.5h0M326.0 359.2h0M319.5 345.3h0M310.2 341.4h0M348.3 353.1h0M335.8 351.5h0M332.2 358.7h0M328.9 348.9h0M341.3 358.0h0M323.7 349.3h0M322.8 340.0h0M336.8 351.9h0M317.3 340.9h0M319.2 344.0h0M313.0 339.4h0M339.4 356.8h0M324.8 358.5h0M336.8 360.3h0M346.8 355.6h0M347.4 351.0h0M334.8 354.5h0M333.1 347.6h0M329.2 358.0h0M319.9 336.2h0M314.8 347.6h0M345.3 356.2h0M329.4 350.4h0M326.4 358.5h0M341.4 349.3h0M328.1 345.8h0M322.0 346.5h0M337.0 354.3h0M318.0 333.2h0M314.8 339.8h0M324.0 357.5h0M320.6 352.5h0M329.1 348.6h0M322.3 349.1h0M330.3 352.7h0M335.4 360.6h0M342.7 350.2h0M326.3 352.8h0M327.0 339.3h0M340.4 350.7h0M332.8 361.4h0M326.0 355.5h0M336.1 358.1h0M315.6 340.0h0M332.8 358.0h0M336.2 360.2h0M332.0 359.3h0M331.6 355.8h0M324.3 351.0h0M324.0 337.1h0M318.4 344.5h0M315.9 345.7h0M338.2 359.5h0M344.1 356.2h0M334.2 354.3h0M330.6 345.6h0M340.6 358.6h0M329.8 350.8h0M345.5 356.5h0M317.6 341.5h0M327.8 351.2h0M332.9 360.2h0M324.7 342.6h0M330.2 346.5h0M333.2 360.8h0M312.4 344.1h0M342.4 352.6h0M325.6 358.1h0M315.5 340.6h0M336.4 353.9h0M339.1 351.6h0M320.6 353.7h0M331.9 358.3h0M332.3 353.9h0M326.3 346.8h0M341.2 353.7h0M320.1 353.1h0M316.1 349.1h0M319.8 353.7h0M347.8 353.6h0M345.1 350.6h0M315.4 339.7h0M325.8 342.3h0M330.4 358.4h0M334.0 349.8h0M321.3 340.5h0M323.5 342.0h0M335.1 351.4h0M333.6 352.5h0M319.7 339.2h0M330.7 350.4h0M344.0 357.5h0M340.7 351.5h0M323.3 341.4h0M345.3 350.7h0M317.3 343.1h0M330.4 353.8h0M331.5 360.7h0M329.4 347.9h0M328.5 353.1h0M332.4 359.9h0M330.7 359.6h0M312.2 347.4h0M335.8 353.6h0M317.1 351.2h0M337.2 358.0h0M320.9 347.1h0M327.6 344.5h0M342.1 354.7h0M333.3 348.6h0M325.0 350.9h0M337.5 348.5h0M345.1 350.4h0M343.2 353.0h0M338.5 356.0h0M323.4 342.6h0M318.9 338.2h0M320.4 346.0h0M342.4 352.4h0M340.5 347.6h0M333.5 362.4h0M324.5 351.8h0M342.0 355.7h0M339.2 349.8h0M313.0 342.2h0M347.4 354.4h0M326.4 349.0h0M317.2 349.4h0M332.2 346.4h0M337.3 350.6h0M332.7 357.3h0M321.7 353.3h0M319.4 354.5h0M339.2 354.5h0M335.8 358.2h0M319.7 347.2h0M333.3 355.2h0M325.3 342.9h0M340.9 353.8h0M347.9 354.6h0M322.1 344.8h0M313.6 344.1h0M328.8 354.0h0M320.0 336.5h0M327.5 348.3h0M338.4 346.9h0M319.5 350.2h0M336.0 348.5h0M323.1 340.5h0M332.6 357.2h0M343.1 350.1h0M315.4 345.8h0M328.4 344.7h0M334.6 360.1h0M326.4 352.9h0M320.4 347.3h0M342.8 351.4h0M321.9 351.7h0M326.0 358.0h0M312.1 340.9h0M332.9 354.4h0M331.3 357.8h0M329.9 350.2h0M313.4 348.4h0M322.5 351.5h0M319.2 355.2h0M337.0 351.0h0M340.2 356.7h0M335.6 359.8h0M320.4 337.5h0M331.8 344.5h0M321.1 341.2h0M317.9 337.4h0M325.0 355.5h0M330.1 343.4h0M344.0 355.9h0M318.5 337.9h0M328.3 356.4h0M318.4 347.2h0M313.6 346.4h0M342.3 349.4h0M340.7 356.1h0M312.1 338.1h0M332.4 351.4h0M312.9 341.1h0M330.1 356.1h0M326.7 356.2h0M322.6 346.3h0M342.4 351.8h0M316.9 340.5h0M324.0 349.3h0M339.2 353.2h0M319.4 348.4h0M334.1 359.4h0M315.9 338.1h0M322.0 340.2h0M341.3 353.8h0M317.8 341.9h0M342.1 355.4h0M325.2 350.3h0M341.1 355.3h0M344.1 351.4h0M313.5 337.0h0M319.8 340.2h0M324.5 342.2h0M330.4 358.1h0M337.6 358.2h0M328.0 338.6h0M314.2 343.7h0M333.7 360.1h0M326.6 353.1h0M324.9 339.8h0M330.8 347.8h0M326.4 350.1h0M340.7 353.3h0M319.1 348.0h0M334.5 348.7h0M332.8 346.9h0M324.4 346.3h0M328.5 359.8h0M331.5 347.0h0M340.4 358.3h0M316.8 342.9h0M320.7 352.3h0M341.0 358.4h0M329.2 356.4h0M326.2 340.8h0M327.0 342.9h0M345.2 351.4h0M342.2 356.1h0M335.3 350.9h0M329.7 354.0h0M319.6 347.0h0M321.9 339.8h0M323.7 354.5h0M312.2 344.4h0M331.0 351.1h0M312.9 338.7h0M327.0 352.3h0M309.4 338.4h0M330.6 347.2h0M314.2 341.0h0M314.8 341.2h0M334.4 358.9h0M322.3 341.1h0M311.5 340.1h0M332.0 360.1h0M340.5 352.7h0M320.7 348.2h0M312.5 347.2h0M327.3 343.3h0M340.4 352.8h0M340.6 355.6h0M318.9 337.5h0M342.8 355.0h0M326.6 348.6h0M344.4 356.0h0M318.2 345.9h0M345.7 354.7h0M319.2 343.9h0M325.2 345.2h0M325.2 356.2h0M337.3 358.1h0M321.9 342.1h0M321.1 338.8h0M311.4 338.2h0M341.1 355.3h0M316.1 340.7h0M329.2 341.9h0M324.3 343.5h0M344.4 355.7h0M318.3 336.4h0M313.9 342.1h0M321.9 350.7h0M340.8 352.4h0M317.0 352.4h0M330.4 360.0h0M314.6 347.5h0M337.1 354.8h0M318.6 339.5h0M326.4 347.2h0M330.5 351.3h0M340.2 345.4h0M318.1 332.5h0M317.4 342.1h0M325.1 349.1h0M316.2 340.3h0M318.6 348.9h0M318.4 337.9h0M314.6 347.3h0M334.9 357.5h0M331.1 354.4h0M336.9 358.6h0M330.3 348.8h0M341.3 353.4h0M339.8 356.3h0M324.7 343.1h0M334.2 349.5h0M326.4 345.5h0M336.7 352.3h0M318.9 339.2h0M334.3 350.3h0M321.5 340.9h0M326.3 347.7h0M321.7 350.7h0M318.5 349.7h0M321.4 343.0h0M338.2 357.3h0M320.4 338.5h0M346.1 350.4h0M325.9 351.1h0M320.5 352.6h0M314.6 338.2h0M333.4 346.8h0M346.5 353.4h0M330.5 350.9h0M322.2 355.2h0M318.7 346.9h0M333.6 350.6h0M319.9 343.1h0M336.6 356.8h0M329.7 353.8h0M323.4 346.0h0M340.1 350.2h0M322.8 345.1h0M311.9 344.2h0M341.1 348.0h0M327.9 347.5h0M321.5 350.0h0M314.5 340.2h0M321.4 340.0h0M324.5 350.9h0M344.2 352.7h0M328.9 342.8h0M331.9 358.3h0M322.2 355.7h0M317.3 341.1h0M320.1 335.3h0M325.7 340.5h0M330.2 342.1h0M324.4 335.3h0M322.9 345.6h0M346.1 354.8h0M334.6 360.1h0M333.2 351.0h0M332.8 361.7h0M330.3 349.0h0M321.8 347.3h0M297.9 342.9h0M299.6 327.1h0M301.7 335.2h0M310.7 345.7h0M305.4 327.6h0M299.3 347.6h0M302.8 331.0h0M294.4 342.1h0M301.1 324.9h0M303.4 336.7h0M293.3 324.3h0M309.7 346.6h0M300.1 343.8h0M303.9 337.2h0M288.9 334.1h0M298.9 323.6h0M302.4 331.0h0M298.8 326.1h0M308.4 339.0h0M289.6 330.5h0M300.8 328.3h0M300.7 332.4h0M303.4 326.1h0M304.3 349.2h0M308.2 342.2h0M298.6 347.9h0M301.3 339.9h0M298.0 323.3h0M305.3 331.9h0M307.4 342.0h0M304.9 329.5h0M300.5 328.9h0M306.4 332.4h0M298.1 322.0h0M308.3 336.3h0M295.2 341.8h0M305.5 326.1h0M301.2 344.6h0M305.6 336.2h0M303.2 333.1h0M307.8 341.4h0M303.5 332.5h0M304.4 334.5h0M308.4 346.5h0M301.0 343.9h0M303.1 326.5h0M301.8 340.5h0M305.6 345.4h0M304.0 327.0h0M304.5 329.8h0M302.2 341.8h0M298.0 333.9h0M296.6 332.2h0M299.0 341.1h0M310.3 339.1h0M304.9 346.6h0M305.6 333.9h0M302.5 341.8h0M306.8 343.5h0M306.3 331.0h0M301.5 328.7h0M299.6 344.2h0M307.5 345.1h0M308.1 338.5h0M306.7 331.5h0M302.1 326.8h0M306.9 346.4h0M304.6 341.2h0M299.1 325.8h0M300.7 332.5h0M299.9 339.3h0M296.4 337.1h0M294.9 347.4h0M306.3 343.3h0M293.5 346.3h0M301.8 324.8h0M295.6 332.9h0M296.1 341.2h0M303.8 340.5h0M297.2 335.6h0M295.8 339.6h0M302.1 322.8h0M301.6 337.2h0M288.9 330.5h0M298.4 327.0h0M299.0 323.5h0M301.3 338.0h0M303.9 343.5h0M290.1 333.8h0M306.8 342.7h0M290.0 336.0h0M308.5 337.9h0M297.9 336.1h0M299.4 339.4h0M301.3 344.9h0M297.9 331.6h0M307.1 331.3h0M293.4 329.3h0M307.7 337.5h0M302.0 351.1h0M300.8 343.2h0M300.8 332.7h0M306.7 348.5h0M309.4 344.3h0M310.2 338.4h0M296.1 338.6h0M300.6 335.8h0M305.4 344.7h0M304.4 328.3h0M300.8 322.4h0M294.8 345.5h0M309.0 342.7h0M300.4 342.6h0M305.8 344.5h0M303.8 338.3h0M307.4 342.1h0M308.4 341.5h0M309.7 347.1h0M308.9 338.8h0M307.0 344.2h0M307.9 340.5h0M304.0 347.4h0M297.0 331.9h0M302.3 330.7h0M295.9 331.7h0M295.1 335.5h0M303.0 330.9h0M299.5 330.6h0M293.0 330.6h0M303.2 332.1h0M296.3 340.8h0M290.0 329.3h0M301.9 335.9h0M303.8 339.4h0M307.1 336.3h0M312.2 344.5h0M310.4 337.1h0M304.0 343.3h0M295.1 335.2h0M305.1 343.5h0M301.1 324.5h0M296.1 333.0h0M307.4 336.3h0M301.9 330.9h0M301.9 343.3h0M305.8 337.0h0M295.9 340.1h0M305.9 343.3h0M295.5 337.9h0M301.8 348.3h0M298.3 327.1h0M309.5 343.0h0M308.3 342.8h0M297.9 348.0h0M311.0 345.3h0M293.7 334.8h0M302.1 327.8h0M288.0 332.0h0M296.7 340.8h0M302.7 323.0h0M299.0 345.8h0M307.0 343.3h0M302.7 338.1h0M310.1 337.8h0M304.1 327.7h0M289.7 332.1h0M290.1 335.6h0M297.0 336.6h0M300.8 332.3h0M302.0 333.6h0M307.3 333.0h0M298.4 323.2h0M301.2 342.6h0M301.4 326.3h0M293.6 342.5h0M306.0 347.9h0M305.1 334.7h0M300.1 330.2h0M302.3 343.0h0M305.1 339.2h0M305.0 330.6h0M299.3 326.3h0M304.5 344.8h0M305.0 345.6h0M288.5 333.8h0M304.3 349.1h0M306.3 346.5h0M296.1 344.5h0M311.4 339.1h0M297.5 346.8h0M302.5 348.4h0M304.1 338.1h0M300.4 322.6h0M306.4 340.1h0M305.7 340.6h0M298.3 344.5h0M303.3 329.2h0M304.6 343.6h0M298.0 347.2h0M303.2 336.0h0M308.5 333.7h0M308.0 338.0h0M297.9 336.6h0M303.0 327.9h0M301.1 329.2h0M294.0 340.2h0M307.6 345.2h0M300.8 333.6h0M309.1 336.3h0M309.7 346.0h0M305.2 327.0h0M295.1 340.1h0M301.8 332.6h0M304.3 347.5h0M299.8 349.1h0M297.9 331.0h0M307.9 339.8h0M310.1 342.4h0M305.1 331.6h0M304.5 336.2h0M297.0 336.1h0M303.5 344.0h0M295.5 339.9h0M298.6 343.2h0M298.8 335.7h0M297.2 345.9h0M304.3 328.7h0M299.5 333.1h0M311.0 345.3h0M301.7 339.0h0M305.1 348.1h0M299.9 326.4h0M298.9 341.2h0M288.7 332.4h0M305.8 343.2h0M296.6 335.3h0M298.5 341.8h0M310.5 339.7h0M298.1 337.9h0M296.1 346.6h0M299.2 345.4h0M292.5 339.5h0M295.5 346.1h0M302.8 323.4h0M299.0 336.4h0M289.6 332.0h0M296.1 332.6h0M297.7 343.6h0M309.1 336.6h0M311.3 335.8h0M289.1 329.2h0M306.1 339.7h0M297.7 336.3h0M304.9 328.4h0M305.6 344.5h0M303.8 331.8h0M303.5 341.1h0M305.6 330.6h0M296.6 343.8h0M302.1 327.9h0M311.2 341.5h0M297.0 340.4h0M308.5 335.0h0M298.0 343.5h0M301.0 328.4h0M305.3 337.0h0M295.8 332.3h0M303.4 336.5h0M294.6 343.1h0M309.7 343.5h0M298.4 348.2h0M309.8 334.6h0M302.2 341.5h0M294.6 335.6h0M305.6 336.0h0M303.4 327.8h0M294.7 340.8h0M301.7 342.1h0M305.7 332.1h0M296.5 323.4h0M309.3 338.4h0M309.8 337.6h0M297.1 345.6h0M291.7 335.0h0M301.4 339.8h0M306.9 340.0h0M307.3 349.4h0M298.4 341.6h0M298.4 335.3h0M291.4 328.5h0M298.6 345.0h0M302.6 342.3h0M299.5 338.1h0M301.5 348.1h0M297.9 338.2h0M311.4 342.2h0M306.2 334.8h0M305.5 330.6h0M306.0 346.7h0M308.6 337.3h0M308.5 334.7h0M299.3 336.8h0M299.2 348.0h0M308.0 333.1h0M309.6 338.5h0M307.1 347.2h0M310.0 337.2h0M309.0 332.3h0M289.2 335.6h0M298.4 347.6h0M311.1 344.0h0M310.1 340.8h0M305.2 329.9h0M298.9 331.6h0M299.7 338.9h0M299.2 331.5h0M294.7 343.0h0M304.4 326.3h0M308.1 335.3h0M296.6 347.9h0M305.8 341.6h0M302.6 330.4h0M306.5 335.8h0M310.1 346.7h0M310.5 340.1h0M300.4 328.7h0M304.6 338.1h0M304.1 346.9h0M293.8 340.1h0M304.7 341.3h0M305.1 348.1h0M306.5 331.4h0M290.9 334.5h0M292.8 337.1h0M301.4 328.7h0M297.0 328.7h0M298.2 337.1h0M302.3 347.3h0M298.2 348.3h0" stroke="#D4D4D6" stroke-width="2.3" stroke-linecap="round" fill="none"/>
<path d="M304.4 306.9h0M324.9 326.6h0M292.2 322.2h0M297.9 315.4h0M342.8 320.1h0M323.0 299.8h0M304.8 282.6h0M300.1 334.1h0M342.2 324.6h0M297.8 310.2h0M354.5 321.0h0M295.0 308.8h0M313.5 279.7h0M321.2 314.9h0M312.1 337.2h0M343.6 312.2h0M326.1 350.8h0M294.8 345.3h0M349.1 344.7h0M324.3 310.7h0M341.0 314.2h0M335.4 351.0h0M332.4 296.3h0M348.5 304.7h0M299.7 339.6h0M295.8 317.6h0M318.6 351.9h0M289.4 335.7h0M325.1 345.6h0M320.1 313.4h0M321.6 288.4h0M324.7 318.4h0M294.8 290.0h0M346.6 327.0h0M286.4 329.6h0M342.6 298.2h0M352.8 334.8h0M328.1 333.3h0M304.9 305.4h0M336.7 309.3h0M310.2 340.7h0M306.1 317.7h0M325.7 286.5h0M317.9 296.1h0M324.4 281.9h0M320.7 277.3h0M346.8 347.3h0M325.8 356.0h0M307.3 333.1h0M307.9 295.0h0M315.2 319.6h0M309.6 340.9h0M298.5 295.6h0M323.7 338.1h0M312.7 346.9h0M308.1 300.4h0M307.4 323.0h0M343.8 352.5h0M320.3 355.4h0M353.9 327.1h0M302.4 343.5h0M310.0 349.3h0M315.2 342.3h0M301.0 286.9h0M339.5 341.7h0M291.3 337.0h0M330.1 352.4h0M340.7 299.4h0M328.2 330.6h0M341.8 345.2h0M304.1 323.8h0M330.6 311.7h0M307.0 348.7h0M292.0 332.1h0M308.5 346.0h0M338.5 302.1h0M328.9 348.3h0M326.2 323.7h0M325.4 338.2h0M299.6 326.0h0M350.0 322.9h0M301.9 331.0h0M324.4 296.4h0M352.7 327.4h0M316.8 316.9h0M346.0 307.9h0M321.6 338.3h0M314.6 351.1h0M297.4 300.0h0M295.6 312.0h0M327.6 292.4h0M294.1 320.8h0M321.9 304.4h0M329.7 300.6h0M298.6 305.7h0M320.2 300.0h0M327.4 301.8h0M328.1 313.8h0M295.2 334.2h0M290.2 326.2h0M291.1 331.9h0M332.1 320.3h0M308.5 281.2h0M319.5 319.3h0M307.7 337.1h0M310.7 301.4h0M313.8 312.3h0M324.4 303.6h0M315.1 346.7h0M339.5 340.4h0M332.4 357.4h0M321.8 298.9h0M320.6 322.9h0M311.8 290.3h0M292.5 293.7h0M324.6 353.2h0M312.8 329.7h0M335.8 314.3h0M321.8 292.6h0M327.6 299.0h0M296.6 348.7h0M309.5 329.0h0M315.2 303.3h0M335.0 295.6h0M320.4 323.9h0M312.2 353.8h0M299.2 313.2h0M353.5 300.0h0M350.7 330.7h0M306.9 350.7h0M353.4 315.1h0M329.8 331.5h0M293.4 342.3h0M299.0 347.8h0M332.3 310.0h0M311.2 278.9h0M304.0 297.2h0M356.4 327.5h0M295.3 288.5h0M306.0 316.0h0M291.4 305.9h0M317.3 296.0h0M336.2 300.7h0M315.0 323.5h0M305.3 315.2h0M288.5 308.7h0M311.5 325.5h0M303.7 324.4h0M338.6 332.0h0M309.1 345.1h0M301.0 313.4h0M316.4 288.5h0M289.4 327.4h0M304.7 307.6h0M291.3 339.1h0M324.7 322.5h0M316.7 332.9h0M289.7 301.2h0M344.8 296.4h0M333.2 336.0h0M294.8 328.0h0M314.3 286.6h0M354.7 326.7h0M344.2 342.1h0M314.5 337.2h0M293.4 290.4h0M297.9 334.3h0M339.7 308.3h0M337.8 299.7h0M314.3 305.9h0M300.9 345.8h0M313.7 313.3h0M334.7 322.0h0M336.9 302.4h0M315.0 282.8h0M292.2 293.0h0M334.9 322.9h0M343.9 303.1h0M356.3 329.2h0M335.1 305.7h0M317.0 336.0h0M326.4 330.2h0M322.1 290.8h0M327.6 345.6h0M326.2 351.4h0M308.0 313.3h0M302.4 326.4h0M324.1 297.9h0M347.2 338.0h0M345.6 305.1h0M326.0 356.7h0M323.3 311.2h0M328.5 292.2h0M299.5 309.8h0M335.0 309.3h0M330.9 331.7h0M338.0 341.3h0M308.0 320.8h0M353.3 307.5h0M332.7 334.2h0M324.9 303.8h0M343.0 350.9h0M291.3 332.7h0M345.4 342.5h0M320.3 337.6h0M334.7 313.2h0M304.2 288.3h0M330.1 356.3h0M322.6 353.5h0M337.9 294.8h0M320.7 283.0h0M328.9 294.8h0M303.8 347.5h0M294.5 320.4h0M328.1 352.9h0M323.8 279.4h0M297.4 317.7h0M296.3 294.5h0M291.3 293.7h0M301.9 335.2h0M294.2 321.7h0M288.7 301.2h0M355.6 341.2h0M308.4 321.6h0M295.8 317.7h0M340.3 351.5h0M288.4 311.9h0M301.3 336.0h0M321.5 297.2h0M330.1 325.0h0M316.5 288.0h0M330.7 354.5h0M328.4 287.1h0M320.9 352.7h0M329.8 328.5h0M335.5 336.6h0M319.6 278.3h0M332.2 328.7h0M314.9 352.0h0M296.3 318.5h0M316.6 327.8h0M297.9 324.3h0M355.4 305.9h0M291.7 310.1h0M338.6 301.8h0M347.4 312.4h0M355.4 322.0h0M292.2 320.4h0M293.9 317.7h0M346.2 343.1h0M342.8 305.4h0M356.6 320.9h0M317.4 277.4h0M325.2 356.7h0M320.7 333.3h0M343.6 310.3h0M325.6 298.6h0M291.4 319.8h0M322.7 352.2h0M293.3 294.7h0" stroke="#D4D4D6" stroke-width="2.3" stroke-linecap="round" fill="none"/>
<path d="M145.4 341.5h0M145.5 341.0h0M135.9 338.6h0M142.9 343.5h0M137.7 338.5h0M139.0 348.3h0M150.9 341.3h0M140.3 346.4h0M144.4 339.1h0M146.6 344.3h0M131.5 340.9h0M136.1 343.8h0M145.3 340.5h0M137.0 347.0h0M141.3 344.4h0M145.2 338.5h0M144.0 345.2h0M150.1 339.6h0M142.3 348.5h0M149.6 339.5h0M138.1 345.2h0M145.5 346.5h0M150.9 338.9h0M138.5 340.7h0M141.4 345.1h0M137.6 335.9h0M140.6 348.0h0M140.1 339.7h0M142.8 340.8h0M137.5 347.3h0M145.9 346.0h0M143.6 347.2h0M142.9 346.5h0M144.1 338.7h0M152.9 342.6h0M145.3 337.3h0M150.9 342.5h0M142.2 345.8h0M152.7 340.7h0M141.3 348.9h0" stroke="#D4D4D6" stroke-width="2.3" stroke-linecap="round" fill="none"/>
<path d="M150.4 342.7h0M147.9 340.8h0M139.3 341.0h0M140.0 347.7h0M151.2 340.5h0M138.6 347.5h0M148.8 343.6h0M144.1 341.9h0M136.2 340.4h0M146.8 345.5h0M144.2 347.0h0M139.0 336.7h0M141.1 341.9h0M147.4 341.9h0M142.1 339.5h0M144.4 342.5h0M146.8 339.6h0M140.7 342.5h0M133.3 341.0h0M142.5 342.3h0M151.5 343.7h0M153.3 342.0h0M136.2 338.4h0M151.5 342.7h0M137.6 343.9h0M135.9 346.0h0M138.8 344.1h0M146.7 336.6h0M147.0 340.9h0M133.7 339.9h0M147.9 338.2h0M145.1 341.1h0M150.9 341.7h0M151.0 343.1h0M137.7 344.7h0M152.8 340.6h0M138.6 334.4h0M148.4 342.5h0M146.8 341.4h0M136.5 344.7h0M133.7 343.6h0M139.4 337.4h0M140.4 340.5h0M145.2 346.3h0M145.0 337.7h0M150.9 344.0h0M148.4 339.9h0M151.5 341.4h0M141.0 347.8h0M147.9 338.8h0M147.7 341.3h0M140.4 340.2h0M134.5 342.8h0M152.5 339.0h0M143.5 346.6h0" stroke="#ADA2D8" stroke-width="2.0" stroke-linecap="round" fill="none"/>
<path d="M141.7 338.1h0M149.4 338.1h0M147.0 343.5h0M137.4 339.9h0M149.3 341.7h0M136.3 337.6h0M139.6 340.4h0M140.8 348.2h0M139.6 342.8h0M138.7 347.5h0M140.1 339.3h0M141.0 337.7h0" stroke="#7562BB" stroke-width="1.8" stroke-linecap="round" fill="none"/>
<path d="M138.2 342.8h0M141.9 345.4h0M145.6 342.0h0M143.2 345.3h0M136.1 340.0h0M146.4 341.5h0M141.0 337.0h0M148.0 331.0h0M160.0 338.0h0M166.0 323.0h0M178.0 350.0h0M200.0 332.0h0M196.0 336.0h0M191.0 335.0h0M182.0 296.0h0M189.0 319.0h0M183.0 360.0h0M177.0 359.0h0" stroke="#3F2E92" stroke-width="1.7" stroke-linecap="round" fill="none"/>
<path d="M76.3 334.8h0M97.5 333.0h0M99.5 336.0h0M98.3 334.5h0" stroke="#7562BB" stroke-width="1.7" stroke-linecap="round" fill="none"/>
<path d="M95.5 331.5h0M100.5 337.5h0" stroke="#ADA2D8" stroke-width="1.9" stroke-linecap="round" fill="none"/>
<path d="M298.0 344.4h0M291.0 336.1h0M290.3 346.2h0M296.8 336.3h0M301.8 344.6h0M316.8 348.6h0M301.6 340.6h0M289.4 339.7h0M289.1 338.9h0M305.0 351.3h0M297.7 338.6h0M305.6 344.8h0M305.9 346.0h0M303.0 341.6h0M314.0 344.1h0M301.3 345.0h0M306.2 341.1h0M304.0 350.7h0M295.6 338.9h0M291.3 339.4h0M300.1 340.3h0M310.9 351.7h0M314.8 345.4h0M291.5 338.2h0M312.1 344.6h0M289.1 341.4h0M296.1 339.1h0M303.2 342.7h0M312.6 341.7h0M299.3 348.0h0M316.9 352.7h0M297.4 349.4h0M305.3 340.8h0M312.7 351.4h0M313.9 350.2h0M295.1 343.5h0M293.9 341.7h0M297.7 345.7h0M308.6 352.1h0M313.2 350.0h0M294.5 339.9h0M295.7 346.4h0M310.1 345.0h0M290.4 345.5h0M300.0 340.8h0M292.8 344.1h0M306.1 342.8h0M305.8 352.0h0M300.5 340.4h0M311.4 345.5h0M292.5 337.9h0M296.4 348.7h0M310.2 346.8h0M303.6 339.3h0M300.6 340.5h0M294.8 348.2h0M310.9 350.8h0M294.3 336.3h0M310.1 351.4h0M317.7 351.4h0M313.6 345.0h0M301.2 342.7h0M311.1 342.6h0M302.0 349.8h0M302.2 340.0h0M313.4 352.6h0M297.3 341.9h0M304.5 350.6h0M296.5 348.6h0M306.8 345.0h0M316.4 351.1h0M293.8 335.6h0M307.0 339.7h0M295.3 336.4h0M309.5 348.7h0M297.4 348.9h0M303.0 349.3h0M310.1 346.0h0M297.7 342.1h0M307.0 342.1h0M311.6 344.3h0M292.0 337.0h0M298.3 347.0h0M302.0 346.3h0M311.7 345.1h0M305.5 350.0h0M299.0 345.5h0M299.7 348.2h0M313.8 353.7h0M298.6 341.3h0M299.2 339.7h0M300.1 346.2h0M308.2 353.6h0M311.7 350.0h0M309.5 344.3h0M304.9 352.1h0M316.1 347.6h0M306.8 347.2h0M311.4 348.9h0M305.6 349.0h0M326.9 359.8h0M332.6 359.5h0M331.3 359.2h0M331.0 358.2h0M325.6 359.7h0M339.6 358.7h0M333.2 355.0h0M332.1 353.8h0M324.7 353.6h0M326.2 361.1h0M330.7 357.8h0M323.1 356.7h0M318.7 350.4h0M341.7 353.9h0M334.0 357.8h0M334.1 362.5h0M332.4 355.3h0M333.5 358.1h0M326.3 358.9h0M330.0 359.0h0M319.2 351.2h0M338.6 358.1h0M328.3 354.0h0M337.6 352.7h0M324.9 357.4h0M328.4 363.7h0M337.8 355.1h0M329.8 359.0h0M329.2 359.5h0M324.7 358.0h0M326.5 357.3h0M334.0 354.9h0M330.6 354.5h0M319.9 350.8h0M328.8 356.1h0M340.6 360.0h0M330.7 356.8h0M336.2 358.2h0M328.2 361.7h0M321.3 357.7h0M322.0 356.9h0M337.4 357.2h0M335.2 363.5h0M318.2 349.5h0M338.2 353.0h0M326.4 357.4h0M320.9 349.8h0M319.4 356.2h0M336.1 360.9h0M323.3 352.5h0M322.9 352.5h0M338.6 354.5h0M327.3 354.0h0M333.1 354.5h0M322.1 350.6h0M340.6 354.5h0M318.5 352.3h0M339.9 355.4h0M317.1 348.4h0M334.1 355.2h0M333.4 358.6h0M321.5 350.7h0M335.5 354.1h0M335.9 356.4h0M336.2 360.6h0M335.5 356.2h0M329.6 361.6h0M320.1 349.8h0M328.8 353.7h0M335.4 353.3h0M322.6 359.0h0M317.6 349.9h0M326.2 352.1h0M337.5 353.4h0M321.1 349.2h0M324.3 358.8h0M341.2 360.7h0M336.4 354.1h0M330.5 359.5h0M333.7 356.7h0M288.4 323.6h0M289.7 335.9h0M288.5 335.8h0M293.5 323.4h0M289.7 320.8h0M286.6 329.2h0M292.5 328.6h0M292.4 336.9h0M294.6 328.3h0M291.1 328.0h0M294.9 329.4h0M292.3 322.9h0M294.4 329.4h0M286.8 323.6h0M289.5 323.9h0M292.3 328.7h0M291.4 320.4h0M291.4 320.9h0M293.2 330.0h0M296.2 339.4h0M292.9 335.1h0M285.7 321.7h0M289.0 337.4h0M295.3 330.9h0M296.6 324.6h0M288.6 326.0h0M287.0 323.8h0M284.9 325.8h0M289.0 324.4h0M289.6 322.4h0M287.3 309.4h0M292.3 299.6h0M290.0 310.5h0M290.2 314.2h0M285.4 313.2h0M290.1 305.6h0M285.1 317.0h0M286.3 316.8h0" stroke="#ADA2D8" stroke-width="2.0" stroke-linecap="round" fill="none"/>
<path d="M309.0 348.6h0M302.9 340.1h0M316.7 349.8h0M297.3 346.9h0M293.5 341.3h0M309.3 350.4h0M306.1 347.9h0M310.3 348.8h0M303.5 344.4h0M311.8 353.3h0M309.2 345.3h0M293.0 344.7h0M298.3 349.2h0M300.5 351.3h0M292.7 339.1h0M299.2 337.7h0M297.1 347.6h0M297.1 343.6h0M300.2 339.9h0M310.9 352.8h0M314.4 348.2h0M294.8 341.4h0M312.3 346.5h0M306.5 344.6h0M306.4 348.7h0M305.8 338.8h0M294.3 347.1h0M301.0 344.7h0M306.7 345.8h0M313.4 350.8h0M339.1 357.6h0M333.0 357.3h0M329.3 353.9h0M336.9 357.0h0M328.6 357.0h0M331.1 361.3h0M335.7 353.7h0M321.5 359.0h0M330.8 359.2h0M321.3 350.2h0M338.3 360.9h0M325.4 357.5h0M327.1 359.6h0M340.7 359.7h0M286.0 326.6h0M297.0 328.4h0M285.5 331.0h0M284.8 327.9h0" stroke="#7562BB" stroke-width="1.8" stroke-linecap="round" fill="none"/>
<path d="M311.6 353.0h0M302.6 345.9h0M302.4 351.7h0M313.1 344.1h0M293.4 344.4h0M300.1 346.9h0M304.9 351.9h0M310.7 346.3h0M301.5 352.1h0M317.5 352.6h0M320.7 355.9h0M322.7 355.6h0M335.4 355.2h0M323.8 352.4h0M309.0 311.0h0M307.2 313.0h0M291.0 326.0h0M295.6 334.4h0M300.0 298.0h0" stroke="#3F2E92" stroke-width="1.5" stroke-linecap="round" fill="none"/>
</svg>
</body></html>
